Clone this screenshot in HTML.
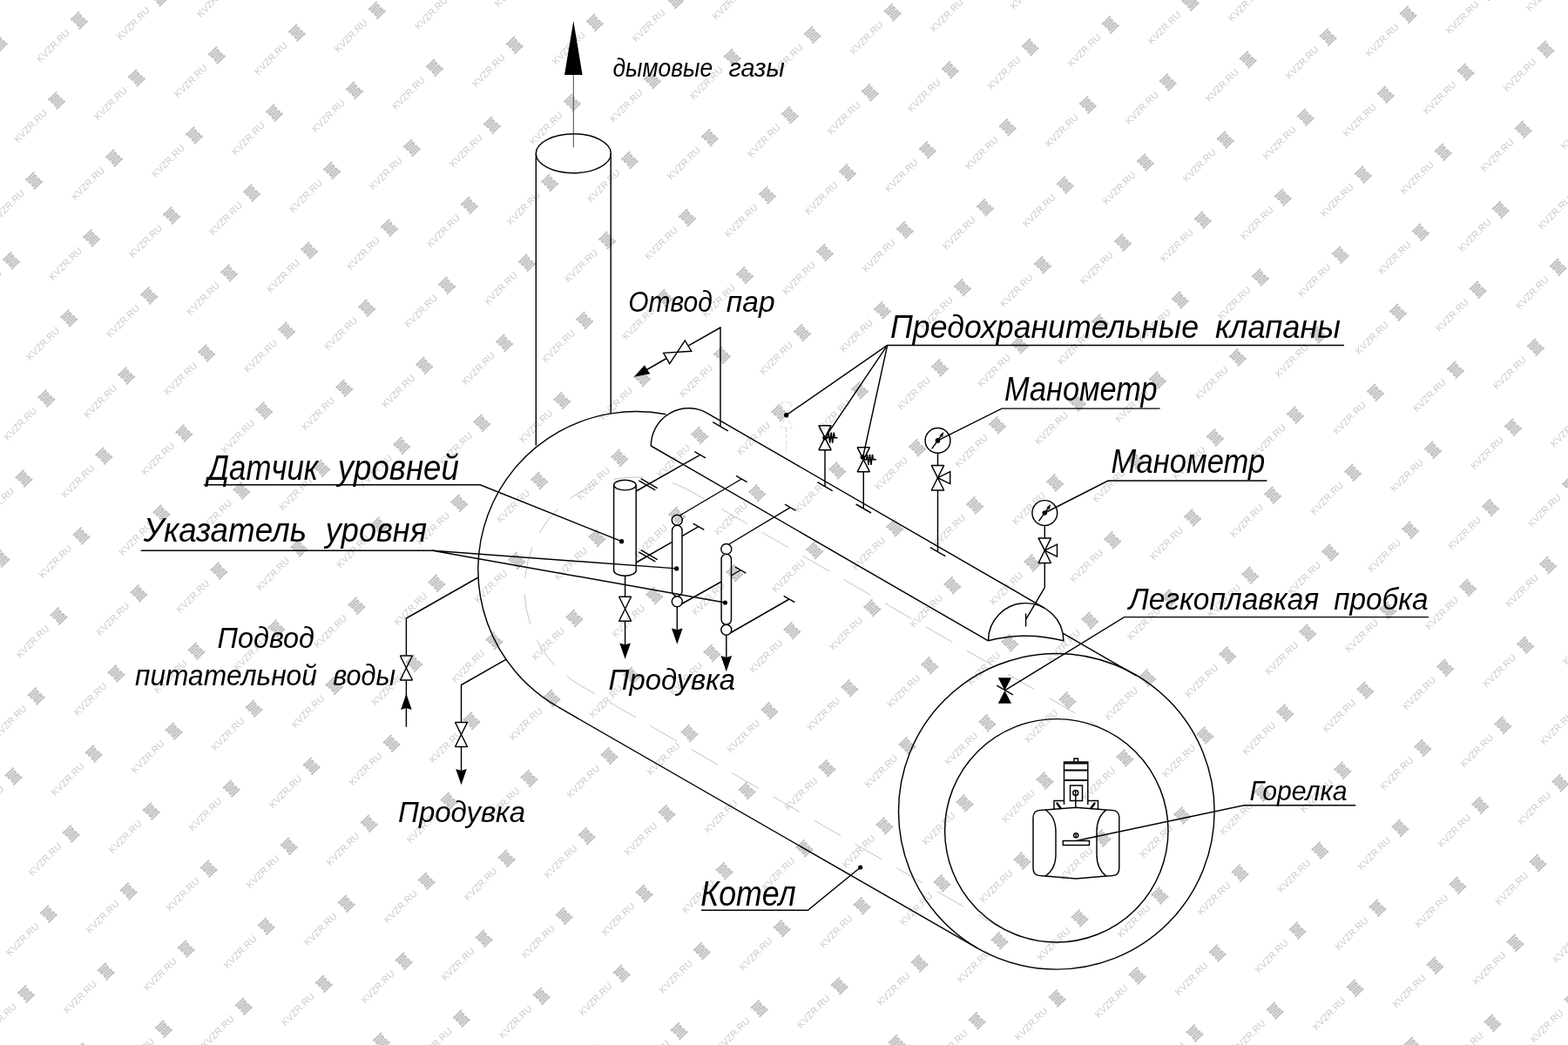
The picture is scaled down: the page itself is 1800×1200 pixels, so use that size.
<!DOCTYPE html>
<html lang="ru"><head><meta charset="utf-8"><title>Схема котла</title>
<style>html,body{margin:0;padding:0;background:#fff;overflow:hidden}svg{display:block}#wm path{fill:none;stroke:#c4c4c4;stroke-width:2.25;stroke-linecap:round}</style>
</head><body>
<svg width="1800" height="1200" viewBox="0 0 1800 1200">
<rect width="1800" height="1200" fill="#fff"/>
<g id="wm" fill="#cbcbcb" font-family="'Liberation Sans', sans-serif" font-size="11.0" opacity="0.99">
<g transform="translate(-67.4 -16.8) rotate(-45)"><text x="-65.9" y="3.6">KVZR.RU</text><path transform="translate(.12 .3)" d="M-5.4 -6.75H6.2M-5.5 -7.15h1M-5.5 -6.35h1M-6.2 6.75H5.4M4.5 6.35h1M4.5 7.15h1M-3.85 -4.05h7.7a1.35 1.35 0 0 1 0 2.7h-7.7a1.35 1.35 0 0 1 0 -2.7zM-3.85 1.35h7.7a1.35 1.35 0 0 1 0 2.7h-7.7a1.35 1.35 0 0 1 0 -2.7z"/></g>
<g transform="translate(24.6 -42.8) rotate(-45)"><text x="-65.9" y="3.6">KVZR.RU</text><path transform="translate(.12 .3)" d="M-5.4 -6.75H6.2M-5.5 -7.15h1M-5.5 -6.35h1M-6.2 6.75H5.4M4.5 6.35h1M4.5 7.15h1M-3.85 -4.05h7.7a1.35 1.35 0 0 1 0 2.7h-7.7a1.35 1.35 0 0 1 0 -2.7zM-3.85 1.35h7.7a1.35 1.35 0 0 1 0 2.7h-7.7a1.35 1.35 0 0 1 0 -2.7z"/></g>
<g transform="translate(-1.4 49.2) rotate(-45)"><text x="-65.9" y="3.6">KVZR.RU</text><path transform="translate(.12 .3)" d="M-5.4 -6.75H6.2M-5.5 -7.15h1M-5.5 -6.35h1M-6.2 6.75H5.4M4.5 6.35h1M4.5 7.15h1M-3.85 -4.05h7.7a1.35 1.35 0 0 1 0 2.7h-7.7a1.35 1.35 0 0 1 0 -2.7zM-3.85 1.35h7.7a1.35 1.35 0 0 1 0 2.7h-7.7a1.35 1.35 0 0 1 0 -2.7z"/></g>
<g transform="translate(-27.3 141.2) rotate(-45)"><text x="-65.9" y="3.6">KVZR.RU</text><path transform="translate(.12 .3)" d="M-5.4 -6.75H6.2M-5.5 -7.15h1M-5.5 -6.35h1M-6.2 6.75H5.4M4.5 6.35h1M4.5 7.15h1M-3.85 -4.05h7.7a1.35 1.35 0 0 1 0 2.7h-7.7a1.35 1.35 0 0 1 0 -2.7zM-3.85 1.35h7.7a1.35 1.35 0 0 1 0 2.7h-7.7a1.35 1.35 0 0 1 0 -2.7z"/></g>
<g transform="translate(-53.2 233.2) rotate(-45)"><text x="-65.9" y="3.6">KVZR.RU</text><path transform="translate(.12 .3)" d="M-5.4 -6.75H6.2M-5.5 -7.15h1M-5.5 -6.35h1M-6.2 6.75H5.4M4.5 6.35h1M4.5 7.15h1M-3.85 -4.05h7.7a1.35 1.35 0 0 1 0 2.7h-7.7a1.35 1.35 0 0 1 0 -2.7zM-3.85 1.35h7.7a1.35 1.35 0 0 1 0 2.7h-7.7a1.35 1.35 0 0 1 0 -2.7z"/></g>
<g transform="translate(-79.1 325.2) rotate(-45)"><text x="-65.9" y="3.6">KVZR.RU</text><path transform="translate(.12 .3)" d="M-5.4 -6.75H6.2M-5.5 -7.15h1M-5.5 -6.35h1M-6.2 6.75H5.4M4.5 6.35h1M4.5 7.15h1M-3.85 -4.05h7.7a1.35 1.35 0 0 1 0 2.7h-7.7a1.35 1.35 0 0 1 0 -2.7zM-3.85 1.35h7.7a1.35 1.35 0 0 1 0 2.7h-7.7a1.35 1.35 0 0 1 0 -2.7z"/></g>
<g transform="translate(116.5 -68.7) rotate(-45)"><text x="-65.9" y="3.6">KVZR.RU</text><path transform="translate(.12 .3)" d="M-5.4 -6.75H6.2M-5.5 -7.15h1M-5.5 -6.35h1M-6.2 6.75H5.4M4.5 6.35h1M4.5 7.15h1M-3.85 -4.05h7.7a1.35 1.35 0 0 1 0 2.7h-7.7a1.35 1.35 0 0 1 0 -2.7zM-3.85 1.35h7.7a1.35 1.35 0 0 1 0 2.7h-7.7a1.35 1.35 0 0 1 0 -2.7z"/></g>
<g transform="translate(90.6 23.3) rotate(-45)"><text x="-65.9" y="3.6">KVZR.RU</text><path transform="translate(.12 .3)" d="M-5.4 -6.75H6.2M-5.5 -7.15h1M-5.5 -6.35h1M-6.2 6.75H5.4M4.5 6.35h1M4.5 7.15h1M-3.85 -4.05h7.7a1.35 1.35 0 0 1 0 2.7h-7.7a1.35 1.35 0 0 1 0 -2.7zM-3.85 1.35h7.7a1.35 1.35 0 0 1 0 2.7h-7.7a1.35 1.35 0 0 1 0 -2.7z"/></g>
<g transform="translate(64.7 115.3) rotate(-45)"><text x="-65.9" y="3.6">KVZR.RU</text><path transform="translate(.12 .3)" d="M-5.4 -6.75H6.2M-5.5 -7.15h1M-5.5 -6.35h1M-6.2 6.75H5.4M4.5 6.35h1M4.5 7.15h1M-3.85 -4.05h7.7a1.35 1.35 0 0 1 0 2.7h-7.7a1.35 1.35 0 0 1 0 -2.7zM-3.85 1.35h7.7a1.35 1.35 0 0 1 0 2.7h-7.7a1.35 1.35 0 0 1 0 -2.7z"/></g>
<g transform="translate(38.8 207.3) rotate(-45)"><text x="-65.9" y="3.6">KVZR.RU</text><path transform="translate(.12 .3)" d="M-5.4 -6.75H6.2M-5.5 -7.15h1M-5.5 -6.35h1M-6.2 6.75H5.4M4.5 6.35h1M4.5 7.15h1M-3.85 -4.05h7.7a1.35 1.35 0 0 1 0 2.7h-7.7a1.35 1.35 0 0 1 0 -2.7zM-3.85 1.35h7.7a1.35 1.35 0 0 1 0 2.7h-7.7a1.35 1.35 0 0 1 0 -2.7z"/></g>
<g transform="translate(12.8 299.2) rotate(-45)"><text x="-65.9" y="3.6">KVZR.RU</text><path transform="translate(.12 .3)" d="M-5.4 -6.75H6.2M-5.5 -7.15h1M-5.5 -6.35h1M-6.2 6.75H5.4M4.5 6.35h1M4.5 7.15h1M-3.85 -4.05h7.7a1.35 1.35 0 0 1 0 2.7h-7.7a1.35 1.35 0 0 1 0 -2.7zM-3.85 1.35h7.7a1.35 1.35 0 0 1 0 2.7h-7.7a1.35 1.35 0 0 1 0 -2.7z"/></g>
<g transform="translate(-13.1 391.2) rotate(-45)"><text x="-65.9" y="3.6">KVZR.RU</text><path transform="translate(.12 .3)" d="M-5.4 -6.75H6.2M-5.5 -7.15h1M-5.5 -6.35h1M-6.2 6.75H5.4M4.5 6.35h1M4.5 7.15h1M-3.85 -4.05h7.7a1.35 1.35 0 0 1 0 2.7h-7.7a1.35 1.35 0 0 1 0 -2.7zM-3.85 1.35h7.7a1.35 1.35 0 0 1 0 2.7h-7.7a1.35 1.35 0 0 1 0 -2.7z"/></g>
<g transform="translate(-39.0 483.2) rotate(-45)"><text x="-65.9" y="3.6">KVZR.RU</text><path transform="translate(.12 .3)" d="M-5.4 -6.75H6.2M-5.5 -7.15h1M-5.5 -6.35h1M-6.2 6.75H5.4M4.5 6.35h1M4.5 7.15h1M-3.85 -4.05h7.7a1.35 1.35 0 0 1 0 2.7h-7.7a1.35 1.35 0 0 1 0 -2.7zM-3.85 1.35h7.7a1.35 1.35 0 0 1 0 2.7h-7.7a1.35 1.35 0 0 1 0 -2.7z"/></g>
<g transform="translate(-64.9 575.2) rotate(-45)"><text x="-65.9" y="3.6">KVZR.RU</text><path transform="translate(.12 .3)" d="M-5.4 -6.75H6.2M-5.5 -7.15h1M-5.5 -6.35h1M-6.2 6.75H5.4M4.5 6.35h1M4.5 7.15h1M-3.85 -4.05h7.7a1.35 1.35 0 0 1 0 2.7h-7.7a1.35 1.35 0 0 1 0 -2.7zM-3.85 1.35h7.7a1.35 1.35 0 0 1 0 2.7h-7.7a1.35 1.35 0 0 1 0 -2.7z"/></g>
<g transform="translate(182.6 -2.6) rotate(-45)"><text x="-65.9" y="3.6">KVZR.RU</text><path transform="translate(.12 .3)" d="M-5.4 -6.75H6.2M-5.5 -7.15h1M-5.5 -6.35h1M-6.2 6.75H5.4M4.5 6.35h1M4.5 7.15h1M-3.85 -4.05h7.7a1.35 1.35 0 0 1 0 2.7h-7.7a1.35 1.35 0 0 1 0 -2.7zM-3.85 1.35h7.7a1.35 1.35 0 0 1 0 2.7h-7.7a1.35 1.35 0 0 1 0 -2.7z"/></g>
<g transform="translate(156.6 89.4) rotate(-45)"><text x="-65.9" y="3.6">KVZR.RU</text><path transform="translate(.12 .3)" d="M-5.4 -6.75H6.2M-5.5 -7.15h1M-5.5 -6.35h1M-6.2 6.75H5.4M4.5 6.35h1M4.5 7.15h1M-3.85 -4.05h7.7a1.35 1.35 0 0 1 0 2.7h-7.7a1.35 1.35 0 0 1 0 -2.7zM-3.85 1.35h7.7a1.35 1.35 0 0 1 0 2.7h-7.7a1.35 1.35 0 0 1 0 -2.7z"/></g>
<g transform="translate(130.7 181.3) rotate(-45)"><text x="-65.9" y="3.6">KVZR.RU</text><path transform="translate(.12 .3)" d="M-5.4 -6.75H6.2M-5.5 -7.15h1M-5.5 -6.35h1M-6.2 6.75H5.4M4.5 6.35h1M4.5 7.15h1M-3.85 -4.05h7.7a1.35 1.35 0 0 1 0 2.7h-7.7a1.35 1.35 0 0 1 0 -2.7zM-3.85 1.35h7.7a1.35 1.35 0 0 1 0 2.7h-7.7a1.35 1.35 0 0 1 0 -2.7z"/></g>
<g transform="translate(104.8 273.3) rotate(-45)"><text x="-65.9" y="3.6">KVZR.RU</text><path transform="translate(.12 .3)" d="M-5.4 -6.75H6.2M-5.5 -7.15h1M-5.5 -6.35h1M-6.2 6.75H5.4M4.5 6.35h1M4.5 7.15h1M-3.85 -4.05h7.7a1.35 1.35 0 0 1 0 2.7h-7.7a1.35 1.35 0 0 1 0 -2.7zM-3.85 1.35h7.7a1.35 1.35 0 0 1 0 2.7h-7.7a1.35 1.35 0 0 1 0 -2.7z"/></g>
<g transform="translate(78.9 365.3) rotate(-45)"><text x="-65.9" y="3.6">KVZR.RU</text><path transform="translate(.12 .3)" d="M-5.4 -6.75H6.2M-5.5 -7.15h1M-5.5 -6.35h1M-6.2 6.75H5.4M4.5 6.35h1M4.5 7.15h1M-3.85 -4.05h7.7a1.35 1.35 0 0 1 0 2.7h-7.7a1.35 1.35 0 0 1 0 -2.7zM-3.85 1.35h7.7a1.35 1.35 0 0 1 0 2.7h-7.7a1.35 1.35 0 0 1 0 -2.7z"/></g>
<g transform="translate(53.0 457.3) rotate(-45)"><text x="-65.9" y="3.6">KVZR.RU</text><path transform="translate(.12 .3)" d="M-5.4 -6.75H6.2M-5.5 -7.15h1M-5.5 -6.35h1M-6.2 6.75H5.4M4.5 6.35h1M4.5 7.15h1M-3.85 -4.05h7.7a1.35 1.35 0 0 1 0 2.7h-7.7a1.35 1.35 0 0 1 0 -2.7zM-3.85 1.35h7.7a1.35 1.35 0 0 1 0 2.7h-7.7a1.35 1.35 0 0 1 0 -2.7z"/></g>
<g transform="translate(27.1 549.3) rotate(-45)"><text x="-65.9" y="3.6">KVZR.RU</text><path transform="translate(.12 .3)" d="M-5.4 -6.75H6.2M-5.5 -7.15h1M-5.5 -6.35h1M-6.2 6.75H5.4M4.5 6.35h1M4.5 7.15h1M-3.85 -4.05h7.7a1.35 1.35 0 0 1 0 2.7h-7.7a1.35 1.35 0 0 1 0 -2.7zM-3.85 1.35h7.7a1.35 1.35 0 0 1 0 2.7h-7.7a1.35 1.35 0 0 1 0 -2.7z"/></g>
<g transform="translate(1.1 641.3) rotate(-45)"><text x="-65.9" y="3.6">KVZR.RU</text><path transform="translate(.12 .3)" d="M-5.4 -6.75H6.2M-5.5 -7.15h1M-5.5 -6.35h1M-6.2 6.75H5.4M4.5 6.35h1M4.5 7.15h1M-3.85 -4.05h7.7a1.35 1.35 0 0 1 0 2.7h-7.7a1.35 1.35 0 0 1 0 -2.7zM-3.85 1.35h7.7a1.35 1.35 0 0 1 0 2.7h-7.7a1.35 1.35 0 0 1 0 -2.7z"/></g>
<g transform="translate(-24.8 733.2) rotate(-45)"><text x="-65.9" y="3.6">KVZR.RU</text><path transform="translate(.12 .3)" d="M-5.4 -6.75H6.2M-5.5 -7.15h1M-5.5 -6.35h1M-6.2 6.75H5.4M4.5 6.35h1M4.5 7.15h1M-3.85 -4.05h7.7a1.35 1.35 0 0 1 0 2.7h-7.7a1.35 1.35 0 0 1 0 -2.7zM-3.85 1.35h7.7a1.35 1.35 0 0 1 0 2.7h-7.7a1.35 1.35 0 0 1 0 -2.7z"/></g>
<g transform="translate(-50.7 825.2) rotate(-45)"><text x="-65.9" y="3.6">KVZR.RU</text><path transform="translate(.12 .3)" d="M-5.4 -6.75H6.2M-5.5 -7.15h1M-5.5 -6.35h1M-6.2 6.75H5.4M4.5 6.35h1M4.5 7.15h1M-3.85 -4.05h7.7a1.35 1.35 0 0 1 0 2.7h-7.7a1.35 1.35 0 0 1 0 -2.7zM-3.85 1.35h7.7a1.35 1.35 0 0 1 0 2.7h-7.7a1.35 1.35 0 0 1 0 -2.7z"/></g>
<g transform="translate(-76.6 917.2) rotate(-45)"><text x="-65.9" y="3.6">KVZR.RU</text><path transform="translate(.12 .3)" d="M-5.4 -6.75H6.2M-5.5 -7.15h1M-5.5 -6.35h1M-6.2 6.75H5.4M4.5 6.35h1M4.5 7.15h1M-3.85 -4.05h7.7a1.35 1.35 0 0 1 0 2.7h-7.7a1.35 1.35 0 0 1 0 -2.7zM-3.85 1.35h7.7a1.35 1.35 0 0 1 0 2.7h-7.7a1.35 1.35 0 0 1 0 -2.7z"/></g>
<g transform="translate(274.5 -28.5) rotate(-45)"><text x="-65.9" y="3.6">KVZR.RU</text><path transform="translate(.12 .3)" d="M-5.4 -6.75H6.2M-5.5 -7.15h1M-5.5 -6.35h1M-6.2 6.75H5.4M4.5 6.35h1M4.5 7.15h1M-3.85 -4.05h7.7a1.35 1.35 0 0 1 0 2.7h-7.7a1.35 1.35 0 0 1 0 -2.7zM-3.85 1.35h7.7a1.35 1.35 0 0 1 0 2.7h-7.7a1.35 1.35 0 0 1 0 -2.7z"/></g>
<g transform="translate(248.6 63.4) rotate(-45)"><text x="-65.9" y="3.6">KVZR.RU</text><path transform="translate(.12 .3)" d="M-5.4 -6.75H6.2M-5.5 -7.15h1M-5.5 -6.35h1M-6.2 6.75H5.4M4.5 6.35h1M4.5 7.15h1M-3.85 -4.05h7.7a1.35 1.35 0 0 1 0 2.7h-7.7a1.35 1.35 0 0 1 0 -2.7zM-3.85 1.35h7.7a1.35 1.35 0 0 1 0 2.7h-7.7a1.35 1.35 0 0 1 0 -2.7z"/></g>
<g transform="translate(222.7 155.4) rotate(-45)"><text x="-65.9" y="3.6">KVZR.RU</text><path transform="translate(.12 .3)" d="M-5.4 -6.75H6.2M-5.5 -7.15h1M-5.5 -6.35h1M-6.2 6.75H5.4M4.5 6.35h1M4.5 7.15h1M-3.85 -4.05h7.7a1.35 1.35 0 0 1 0 2.7h-7.7a1.35 1.35 0 0 1 0 -2.7zM-3.85 1.35h7.7a1.35 1.35 0 0 1 0 2.7h-7.7a1.35 1.35 0 0 1 0 -2.7z"/></g>
<g transform="translate(196.8 247.4) rotate(-45)"><text x="-65.9" y="3.6">KVZR.RU</text><path transform="translate(.12 .3)" d="M-5.4 -6.75H6.2M-5.5 -7.15h1M-5.5 -6.35h1M-6.2 6.75H5.4M4.5 6.35h1M4.5 7.15h1M-3.85 -4.05h7.7a1.35 1.35 0 0 1 0 2.7h-7.7a1.35 1.35 0 0 1 0 -2.7zM-3.85 1.35h7.7a1.35 1.35 0 0 1 0 2.7h-7.7a1.35 1.35 0 0 1 0 -2.7z"/></g>
<g transform="translate(170.9 339.4) rotate(-45)"><text x="-65.9" y="3.6">KVZR.RU</text><path transform="translate(.12 .3)" d="M-5.4 -6.75H6.2M-5.5 -7.15h1M-5.5 -6.35h1M-6.2 6.75H5.4M4.5 6.35h1M4.5 7.15h1M-3.85 -4.05h7.7a1.35 1.35 0 0 1 0 2.7h-7.7a1.35 1.35 0 0 1 0 -2.7zM-3.85 1.35h7.7a1.35 1.35 0 0 1 0 2.7h-7.7a1.35 1.35 0 0 1 0 -2.7z"/></g>
<g transform="translate(144.9 431.4) rotate(-45)"><text x="-65.9" y="3.6">KVZR.RU</text><path transform="translate(.12 .3)" d="M-5.4 -6.75H6.2M-5.5 -7.15h1M-5.5 -6.35h1M-6.2 6.75H5.4M4.5 6.35h1M4.5 7.15h1M-3.85 -4.05h7.7a1.35 1.35 0 0 1 0 2.7h-7.7a1.35 1.35 0 0 1 0 -2.7zM-3.85 1.35h7.7a1.35 1.35 0 0 1 0 2.7h-7.7a1.35 1.35 0 0 1 0 -2.7z"/></g>
<g transform="translate(119.0 523.4) rotate(-45)"><text x="-65.9" y="3.6">KVZR.RU</text><path transform="translate(.12 .3)" d="M-5.4 -6.75H6.2M-5.5 -7.15h1M-5.5 -6.35h1M-6.2 6.75H5.4M4.5 6.35h1M4.5 7.15h1M-3.85 -4.05h7.7a1.35 1.35 0 0 1 0 2.7h-7.7a1.35 1.35 0 0 1 0 -2.7zM-3.85 1.35h7.7a1.35 1.35 0 0 1 0 2.7h-7.7a1.35 1.35 0 0 1 0 -2.7z"/></g>
<g transform="translate(93.1 615.3) rotate(-45)"><text x="-65.9" y="3.6">KVZR.RU</text><path transform="translate(.12 .3)" d="M-5.4 -6.75H6.2M-5.5 -7.15h1M-5.5 -6.35h1M-6.2 6.75H5.4M4.5 6.35h1M4.5 7.15h1M-3.85 -4.05h7.7a1.35 1.35 0 0 1 0 2.7h-7.7a1.35 1.35 0 0 1 0 -2.7zM-3.85 1.35h7.7a1.35 1.35 0 0 1 0 2.7h-7.7a1.35 1.35 0 0 1 0 -2.7z"/></g>
<g transform="translate(67.2 707.3) rotate(-45)"><text x="-65.9" y="3.6">KVZR.RU</text><path transform="translate(.12 .3)" d="M-5.4 -6.75H6.2M-5.5 -7.15h1M-5.5 -6.35h1M-6.2 6.75H5.4M4.5 6.35h1M4.5 7.15h1M-3.85 -4.05h7.7a1.35 1.35 0 0 1 0 2.7h-7.7a1.35 1.35 0 0 1 0 -2.7zM-3.85 1.35h7.7a1.35 1.35 0 0 1 0 2.7h-7.7a1.35 1.35 0 0 1 0 -2.7z"/></g>
<g transform="translate(41.3 799.3) rotate(-45)"><text x="-65.9" y="3.6">KVZR.RU</text><path transform="translate(.12 .3)" d="M-5.4 -6.75H6.2M-5.5 -7.15h1M-5.5 -6.35h1M-6.2 6.75H5.4M4.5 6.35h1M4.5 7.15h1M-3.85 -4.05h7.7a1.35 1.35 0 0 1 0 2.7h-7.7a1.35 1.35 0 0 1 0 -2.7zM-3.85 1.35h7.7a1.35 1.35 0 0 1 0 2.7h-7.7a1.35 1.35 0 0 1 0 -2.7z"/></g>
<g transform="translate(15.3 891.3) rotate(-45)"><text x="-65.9" y="3.6">KVZR.RU</text><path transform="translate(.12 .3)" d="M-5.4 -6.75H6.2M-5.5 -7.15h1M-5.5 -6.35h1M-6.2 6.75H5.4M4.5 6.35h1M4.5 7.15h1M-3.85 -4.05h7.7a1.35 1.35 0 0 1 0 2.7h-7.7a1.35 1.35 0 0 1 0 -2.7zM-3.85 1.35h7.7a1.35 1.35 0 0 1 0 2.7h-7.7a1.35 1.35 0 0 1 0 -2.7z"/></g>
<g transform="translate(-10.6 983.3) rotate(-45)"><text x="-65.9" y="3.6">KVZR.RU</text><path transform="translate(.12 .3)" d="M-5.4 -6.75H6.2M-5.5 -7.15h1M-5.5 -6.35h1M-6.2 6.75H5.4M4.5 6.35h1M4.5 7.15h1M-3.85 -4.05h7.7a1.35 1.35 0 0 1 0 2.7h-7.7a1.35 1.35 0 0 1 0 -2.7zM-3.85 1.35h7.7a1.35 1.35 0 0 1 0 2.7h-7.7a1.35 1.35 0 0 1 0 -2.7z"/></g>
<g transform="translate(-36.5 1075.2) rotate(-45)"><text x="-65.9" y="3.6">KVZR.RU</text><path transform="translate(.12 .3)" d="M-5.4 -6.75H6.2M-5.5 -7.15h1M-5.5 -6.35h1M-6.2 6.75H5.4M4.5 6.35h1M4.5 7.15h1M-3.85 -4.05h7.7a1.35 1.35 0 0 1 0 2.7h-7.7a1.35 1.35 0 0 1 0 -2.7zM-3.85 1.35h7.7a1.35 1.35 0 0 1 0 2.7h-7.7a1.35 1.35 0 0 1 0 -2.7z"/></g>
<g transform="translate(-62.4 1167.2) rotate(-45)"><text x="-65.9" y="3.6">KVZR.RU</text><path transform="translate(.12 .3)" d="M-5.4 -6.75H6.2M-5.5 -7.15h1M-5.5 -6.35h1M-6.2 6.75H5.4M4.5 6.35h1M4.5 7.15h1M-3.85 -4.05h7.7a1.35 1.35 0 0 1 0 2.7h-7.7a1.35 1.35 0 0 1 0 -2.7zM-3.85 1.35h7.7a1.35 1.35 0 0 1 0 2.7h-7.7a1.35 1.35 0 0 1 0 -2.7z"/></g>
<g transform="translate(366.5 -54.5) rotate(-45)"><text x="-65.9" y="3.6">KVZR.RU</text><path transform="translate(.12 .3)" d="M-5.4 -6.75H6.2M-5.5 -7.15h1M-5.5 -6.35h1M-6.2 6.75H5.4M4.5 6.35h1M4.5 7.15h1M-3.85 -4.05h7.7a1.35 1.35 0 0 1 0 2.7h-7.7a1.35 1.35 0 0 1 0 -2.7zM-3.85 1.35h7.7a1.35 1.35 0 0 1 0 2.7h-7.7a1.35 1.35 0 0 1 0 -2.7z"/></g>
<g transform="translate(340.6 37.5) rotate(-45)"><text x="-65.9" y="3.6">KVZR.RU</text><path transform="translate(.12 .3)" d="M-5.4 -6.75H6.2M-5.5 -7.15h1M-5.5 -6.35h1M-6.2 6.75H5.4M4.5 6.35h1M4.5 7.15h1M-3.85 -4.05h7.7a1.35 1.35 0 0 1 0 2.7h-7.7a1.35 1.35 0 0 1 0 -2.7zM-3.85 1.35h7.7a1.35 1.35 0 0 1 0 2.7h-7.7a1.35 1.35 0 0 1 0 -2.7z"/></g>
<g transform="translate(314.6 129.5) rotate(-45)"><text x="-65.9" y="3.6">KVZR.RU</text><path transform="translate(.12 .3)" d="M-5.4 -6.75H6.2M-5.5 -7.15h1M-5.5 -6.35h1M-6.2 6.75H5.4M4.5 6.35h1M4.5 7.15h1M-3.85 -4.05h7.7a1.35 1.35 0 0 1 0 2.7h-7.7a1.35 1.35 0 0 1 0 -2.7zM-3.85 1.35h7.7a1.35 1.35 0 0 1 0 2.7h-7.7a1.35 1.35 0 0 1 0 -2.7z"/></g>
<g transform="translate(288.7 221.5) rotate(-45)"><text x="-65.9" y="3.6">KVZR.RU</text><path transform="translate(.12 .3)" d="M-5.4 -6.75H6.2M-5.5 -7.15h1M-5.5 -6.35h1M-6.2 6.75H5.4M4.5 6.35h1M4.5 7.15h1M-3.85 -4.05h7.7a1.35 1.35 0 0 1 0 2.7h-7.7a1.35 1.35 0 0 1 0 -2.7zM-3.85 1.35h7.7a1.35 1.35 0 0 1 0 2.7h-7.7a1.35 1.35 0 0 1 0 -2.7z"/></g>
<g transform="translate(262.8 313.5) rotate(-45)"><text x="-65.9" y="3.6">KVZR.RU</text><path transform="translate(.12 .3)" d="M-5.4 -6.75H6.2M-5.5 -7.15h1M-5.5 -6.35h1M-6.2 6.75H5.4M4.5 6.35h1M4.5 7.15h1M-3.85 -4.05h7.7a1.35 1.35 0 0 1 0 2.7h-7.7a1.35 1.35 0 0 1 0 -2.7zM-3.85 1.35h7.7a1.35 1.35 0 0 1 0 2.7h-7.7a1.35 1.35 0 0 1 0 -2.7z"/></g>
<g transform="translate(236.9 405.4) rotate(-45)"><text x="-65.9" y="3.6">KVZR.RU</text><path transform="translate(.12 .3)" d="M-5.4 -6.75H6.2M-5.5 -7.15h1M-5.5 -6.35h1M-6.2 6.75H5.4M4.5 6.35h1M4.5 7.15h1M-3.85 -4.05h7.7a1.35 1.35 0 0 1 0 2.7h-7.7a1.35 1.35 0 0 1 0 -2.7zM-3.85 1.35h7.7a1.35 1.35 0 0 1 0 2.7h-7.7a1.35 1.35 0 0 1 0 -2.7z"/></g>
<g transform="translate(211.0 497.4) rotate(-45)"><text x="-65.9" y="3.6">KVZR.RU</text><path transform="translate(.12 .3)" d="M-5.4 -6.75H6.2M-5.5 -7.15h1M-5.5 -6.35h1M-6.2 6.75H5.4M4.5 6.35h1M4.5 7.15h1M-3.85 -4.05h7.7a1.35 1.35 0 0 1 0 2.7h-7.7a1.35 1.35 0 0 1 0 -2.7zM-3.85 1.35h7.7a1.35 1.35 0 0 1 0 2.7h-7.7a1.35 1.35 0 0 1 0 -2.7z"/></g>
<g transform="translate(185.1 589.4) rotate(-45)"><text x="-65.9" y="3.6">KVZR.RU</text><path transform="translate(.12 .3)" d="M-5.4 -6.75H6.2M-5.5 -7.15h1M-5.5 -6.35h1M-6.2 6.75H5.4M4.5 6.35h1M4.5 7.15h1M-3.85 -4.05h7.7a1.35 1.35 0 0 1 0 2.7h-7.7a1.35 1.35 0 0 1 0 -2.7zM-3.85 1.35h7.7a1.35 1.35 0 0 1 0 2.7h-7.7a1.35 1.35 0 0 1 0 -2.7z"/></g>
<g transform="translate(159.1 681.4) rotate(-45)"><text x="-65.9" y="3.6">KVZR.RU</text><path transform="translate(.12 .3)" d="M-5.4 -6.75H6.2M-5.5 -7.15h1M-5.5 -6.35h1M-6.2 6.75H5.4M4.5 6.35h1M4.5 7.15h1M-3.85 -4.05h7.7a1.35 1.35 0 0 1 0 2.7h-7.7a1.35 1.35 0 0 1 0 -2.7zM-3.85 1.35h7.7a1.35 1.35 0 0 1 0 2.7h-7.7a1.35 1.35 0 0 1 0 -2.7z"/></g>
<g transform="translate(133.2 773.4) rotate(-45)"><text x="-65.9" y="3.6">KVZR.RU</text><path transform="translate(.12 .3)" d="M-5.4 -6.75H6.2M-5.5 -7.15h1M-5.5 -6.35h1M-6.2 6.75H5.4M4.5 6.35h1M4.5 7.15h1M-3.85 -4.05h7.7a1.35 1.35 0 0 1 0 2.7h-7.7a1.35 1.35 0 0 1 0 -2.7zM-3.85 1.35h7.7a1.35 1.35 0 0 1 0 2.7h-7.7a1.35 1.35 0 0 1 0 -2.7z"/></g>
<g transform="translate(107.3 865.4) rotate(-45)"><text x="-65.9" y="3.6">KVZR.RU</text><path transform="translate(.12 .3)" d="M-5.4 -6.75H6.2M-5.5 -7.15h1M-5.5 -6.35h1M-6.2 6.75H5.4M4.5 6.35h1M4.5 7.15h1M-3.85 -4.05h7.7a1.35 1.35 0 0 1 0 2.7h-7.7a1.35 1.35 0 0 1 0 -2.7zM-3.85 1.35h7.7a1.35 1.35 0 0 1 0 2.7h-7.7a1.35 1.35 0 0 1 0 -2.7z"/></g>
<g transform="translate(81.4 957.3) rotate(-45)"><text x="-65.9" y="3.6">KVZR.RU</text><path transform="translate(.12 .3)" d="M-5.4 -6.75H6.2M-5.5 -7.15h1M-5.5 -6.35h1M-6.2 6.75H5.4M4.5 6.35h1M4.5 7.15h1M-3.85 -4.05h7.7a1.35 1.35 0 0 1 0 2.7h-7.7a1.35 1.35 0 0 1 0 -2.7zM-3.85 1.35h7.7a1.35 1.35 0 0 1 0 2.7h-7.7a1.35 1.35 0 0 1 0 -2.7z"/></g>
<g transform="translate(55.5 1049.3) rotate(-45)"><text x="-65.9" y="3.6">KVZR.RU</text><path transform="translate(.12 .3)" d="M-5.4 -6.75H6.2M-5.5 -7.15h1M-5.5 -6.35h1M-6.2 6.75H5.4M4.5 6.35h1M4.5 7.15h1M-3.85 -4.05h7.7a1.35 1.35 0 0 1 0 2.7h-7.7a1.35 1.35 0 0 1 0 -2.7zM-3.85 1.35h7.7a1.35 1.35 0 0 1 0 2.7h-7.7a1.35 1.35 0 0 1 0 -2.7z"/></g>
<g transform="translate(29.6 1141.3) rotate(-45)"><text x="-65.9" y="3.6">KVZR.RU</text><path transform="translate(.12 .3)" d="M-5.4 -6.75H6.2M-5.5 -7.15h1M-5.5 -6.35h1M-6.2 6.75H5.4M4.5 6.35h1M4.5 7.15h1M-3.85 -4.05h7.7a1.35 1.35 0 0 1 0 2.7h-7.7a1.35 1.35 0 0 1 0 -2.7zM-3.85 1.35h7.7a1.35 1.35 0 0 1 0 2.7h-7.7a1.35 1.35 0 0 1 0 -2.7z"/></g>
<g transform="translate(3.6 1233.3) rotate(-45)"><text x="-65.9" y="3.6">KVZR.RU</text><path transform="translate(.12 .3)" d="M-5.4 -6.75H6.2M-5.5 -7.15h1M-5.5 -6.35h1M-6.2 6.75H5.4M4.5 6.35h1M4.5 7.15h1M-3.85 -4.05h7.7a1.35 1.35 0 0 1 0 2.7h-7.7a1.35 1.35 0 0 1 0 -2.7zM-3.85 1.35h7.7a1.35 1.35 0 0 1 0 2.7h-7.7a1.35 1.35 0 0 1 0 -2.7z"/></g>
<g transform="translate(432.5 11.6) rotate(-45)"><text x="-65.9" y="3.6">KVZR.RU</text><path transform="translate(.12 .3)" d="M-5.4 -6.75H6.2M-5.5 -7.15h1M-5.5 -6.35h1M-6.2 6.75H5.4M4.5 6.35h1M4.5 7.15h1M-3.85 -4.05h7.7a1.35 1.35 0 0 1 0 2.7h-7.7a1.35 1.35 0 0 1 0 -2.7zM-3.85 1.35h7.7a1.35 1.35 0 0 1 0 2.7h-7.7a1.35 1.35 0 0 1 0 -2.7z"/></g>
<g transform="translate(406.6 103.6) rotate(-45)"><text x="-65.9" y="3.6">KVZR.RU</text><path transform="translate(.12 .3)" d="M-5.4 -6.75H6.2M-5.5 -7.15h1M-5.5 -6.35h1M-6.2 6.75H5.4M4.5 6.35h1M4.5 7.15h1M-3.85 -4.05h7.7a1.35 1.35 0 0 1 0 2.7h-7.7a1.35 1.35 0 0 1 0 -2.7zM-3.85 1.35h7.7a1.35 1.35 0 0 1 0 2.7h-7.7a1.35 1.35 0 0 1 0 -2.7z"/></g>
<g transform="translate(380.7 195.6) rotate(-45)"><text x="-65.9" y="3.6">KVZR.RU</text><path transform="translate(.12 .3)" d="M-5.4 -6.75H6.2M-5.5 -7.15h1M-5.5 -6.35h1M-6.2 6.75H5.4M4.5 6.35h1M4.5 7.15h1M-3.85 -4.05h7.7a1.35 1.35 0 0 1 0 2.7h-7.7a1.35 1.35 0 0 1 0 -2.7zM-3.85 1.35h7.7a1.35 1.35 0 0 1 0 2.7h-7.7a1.35 1.35 0 0 1 0 -2.7z"/></g>
<g transform="translate(354.8 287.5) rotate(-45)"><text x="-65.9" y="3.6">KVZR.RU</text><path transform="translate(.12 .3)" d="M-5.4 -6.75H6.2M-5.5 -7.15h1M-5.5 -6.35h1M-6.2 6.75H5.4M4.5 6.35h1M4.5 7.15h1M-3.85 -4.05h7.7a1.35 1.35 0 0 1 0 2.7h-7.7a1.35 1.35 0 0 1 0 -2.7zM-3.85 1.35h7.7a1.35 1.35 0 0 1 0 2.7h-7.7a1.35 1.35 0 0 1 0 -2.7z"/></g>
<g transform="translate(328.9 379.5) rotate(-45)"><text x="-65.9" y="3.6">KVZR.RU</text><path transform="translate(.12 .3)" d="M-5.4 -6.75H6.2M-5.5 -7.15h1M-5.5 -6.35h1M-6.2 6.75H5.4M4.5 6.35h1M4.5 7.15h1M-3.85 -4.05h7.7a1.35 1.35 0 0 1 0 2.7h-7.7a1.35 1.35 0 0 1 0 -2.7zM-3.85 1.35h7.7a1.35 1.35 0 0 1 0 2.7h-7.7a1.35 1.35 0 0 1 0 -2.7z"/></g>
<g transform="translate(302.9 471.5) rotate(-45)"><text x="-65.9" y="3.6">KVZR.RU</text><path transform="translate(.12 .3)" d="M-5.4 -6.75H6.2M-5.5 -7.15h1M-5.5 -6.35h1M-6.2 6.75H5.4M4.5 6.35h1M4.5 7.15h1M-3.85 -4.05h7.7a1.35 1.35 0 0 1 0 2.7h-7.7a1.35 1.35 0 0 1 0 -2.7zM-3.85 1.35h7.7a1.35 1.35 0 0 1 0 2.7h-7.7a1.35 1.35 0 0 1 0 -2.7z"/></g>
<g transform="translate(277.0 563.5) rotate(-45)"><text x="-65.9" y="3.6">KVZR.RU</text><path transform="translate(.12 .3)" d="M-5.4 -6.75H6.2M-5.5 -7.15h1M-5.5 -6.35h1M-6.2 6.75H5.4M4.5 6.35h1M4.5 7.15h1M-3.85 -4.05h7.7a1.35 1.35 0 0 1 0 2.7h-7.7a1.35 1.35 0 0 1 0 -2.7zM-3.85 1.35h7.7a1.35 1.35 0 0 1 0 2.7h-7.7a1.35 1.35 0 0 1 0 -2.7z"/></g>
<g transform="translate(251.1 655.5) rotate(-45)"><text x="-65.9" y="3.6">KVZR.RU</text><path transform="translate(.12 .3)" d="M-5.4 -6.75H6.2M-5.5 -7.15h1M-5.5 -6.35h1M-6.2 6.75H5.4M4.5 6.35h1M4.5 7.15h1M-3.85 -4.05h7.7a1.35 1.35 0 0 1 0 2.7h-7.7a1.35 1.35 0 0 1 0 -2.7zM-3.85 1.35h7.7a1.35 1.35 0 0 1 0 2.7h-7.7a1.35 1.35 0 0 1 0 -2.7z"/></g>
<g transform="translate(225.2 747.5) rotate(-45)"><text x="-65.9" y="3.6">KVZR.RU</text><path transform="translate(.12 .3)" d="M-5.4 -6.75H6.2M-5.5 -7.15h1M-5.5 -6.35h1M-6.2 6.75H5.4M4.5 6.35h1M4.5 7.15h1M-3.85 -4.05h7.7a1.35 1.35 0 0 1 0 2.7h-7.7a1.35 1.35 0 0 1 0 -2.7zM-3.85 1.35h7.7a1.35 1.35 0 0 1 0 2.7h-7.7a1.35 1.35 0 0 1 0 -2.7z"/></g>
<g transform="translate(199.3 839.4) rotate(-45)"><text x="-65.9" y="3.6">KVZR.RU</text><path transform="translate(.12 .3)" d="M-5.4 -6.75H6.2M-5.5 -7.15h1M-5.5 -6.35h1M-6.2 6.75H5.4M4.5 6.35h1M4.5 7.15h1M-3.85 -4.05h7.7a1.35 1.35 0 0 1 0 2.7h-7.7a1.35 1.35 0 0 1 0 -2.7zM-3.85 1.35h7.7a1.35 1.35 0 0 1 0 2.7h-7.7a1.35 1.35 0 0 1 0 -2.7z"/></g>
<g transform="translate(173.4 931.4) rotate(-45)"><text x="-65.9" y="3.6">KVZR.RU</text><path transform="translate(.12 .3)" d="M-5.4 -6.75H6.2M-5.5 -7.15h1M-5.5 -6.35h1M-6.2 6.75H5.4M4.5 6.35h1M4.5 7.15h1M-3.85 -4.05h7.7a1.35 1.35 0 0 1 0 2.7h-7.7a1.35 1.35 0 0 1 0 -2.7zM-3.85 1.35h7.7a1.35 1.35 0 0 1 0 2.7h-7.7a1.35 1.35 0 0 1 0 -2.7z"/></g>
<g transform="translate(147.4 1023.4) rotate(-45)"><text x="-65.9" y="3.6">KVZR.RU</text><path transform="translate(.12 .3)" d="M-5.4 -6.75H6.2M-5.5 -7.15h1M-5.5 -6.35h1M-6.2 6.75H5.4M4.5 6.35h1M4.5 7.15h1M-3.85 -4.05h7.7a1.35 1.35 0 0 1 0 2.7h-7.7a1.35 1.35 0 0 1 0 -2.7zM-3.85 1.35h7.7a1.35 1.35 0 0 1 0 2.7h-7.7a1.35 1.35 0 0 1 0 -2.7z"/></g>
<g transform="translate(121.5 1115.4) rotate(-45)"><text x="-65.9" y="3.6">KVZR.RU</text><path transform="translate(.12 .3)" d="M-5.4 -6.75H6.2M-5.5 -7.15h1M-5.5 -6.35h1M-6.2 6.75H5.4M4.5 6.35h1M4.5 7.15h1M-3.85 -4.05h7.7a1.35 1.35 0 0 1 0 2.7h-7.7a1.35 1.35 0 0 1 0 -2.7zM-3.85 1.35h7.7a1.35 1.35 0 0 1 0 2.7h-7.7a1.35 1.35 0 0 1 0 -2.7z"/></g>
<g transform="translate(95.6 1207.4) rotate(-45)"><text x="-65.9" y="3.6">KVZR.RU</text><path transform="translate(.12 .3)" d="M-5.4 -6.75H6.2M-5.5 -7.15h1M-5.5 -6.35h1M-6.2 6.75H5.4M4.5 6.35h1M4.5 7.15h1M-3.85 -4.05h7.7a1.35 1.35 0 0 1 0 2.7h-7.7a1.35 1.35 0 0 1 0 -2.7zM-3.85 1.35h7.7a1.35 1.35 0 0 1 0 2.7h-7.7a1.35 1.35 0 0 1 0 -2.7z"/></g>
<g transform="translate(524.5 -14.3) rotate(-45)"><text x="-65.9" y="3.6">KVZR.RU</text><path transform="translate(.12 .3)" d="M-5.4 -6.75H6.2M-5.5 -7.15h1M-5.5 -6.35h1M-6.2 6.75H5.4M4.5 6.35h1M4.5 7.15h1M-3.85 -4.05h7.7a1.35 1.35 0 0 1 0 2.7h-7.7a1.35 1.35 0 0 1 0 -2.7zM-3.85 1.35h7.7a1.35 1.35 0 0 1 0 2.7h-7.7a1.35 1.35 0 0 1 0 -2.7z"/></g>
<g transform="translate(498.6 77.6) rotate(-45)"><text x="-65.9" y="3.6">KVZR.RU</text><path transform="translate(.12 .3)" d="M-5.4 -6.75H6.2M-5.5 -7.15h1M-5.5 -6.35h1M-6.2 6.75H5.4M4.5 6.35h1M4.5 7.15h1M-3.85 -4.05h7.7a1.35 1.35 0 0 1 0 2.7h-7.7a1.35 1.35 0 0 1 0 -2.7zM-3.85 1.35h7.7a1.35 1.35 0 0 1 0 2.7h-7.7a1.35 1.35 0 0 1 0 -2.7z"/></g>
<g transform="translate(472.6 169.6) rotate(-45)"><text x="-65.9" y="3.6">KVZR.RU</text><path transform="translate(.12 .3)" d="M-5.4 -6.75H6.2M-5.5 -7.15h1M-5.5 -6.35h1M-6.2 6.75H5.4M4.5 6.35h1M4.5 7.15h1M-3.85 -4.05h7.7a1.35 1.35 0 0 1 0 2.7h-7.7a1.35 1.35 0 0 1 0 -2.7zM-3.85 1.35h7.7a1.35 1.35 0 0 1 0 2.7h-7.7a1.35 1.35 0 0 1 0 -2.7z"/></g>
<g transform="translate(446.7 261.6) rotate(-45)"><text x="-65.9" y="3.6">KVZR.RU</text><path transform="translate(.12 .3)" d="M-5.4 -6.75H6.2M-5.5 -7.15h1M-5.5 -6.35h1M-6.2 6.75H5.4M4.5 6.35h1M4.5 7.15h1M-3.85 -4.05h7.7a1.35 1.35 0 0 1 0 2.7h-7.7a1.35 1.35 0 0 1 0 -2.7zM-3.85 1.35h7.7a1.35 1.35 0 0 1 0 2.7h-7.7a1.35 1.35 0 0 1 0 -2.7z"/></g>
<g transform="translate(420.8 353.6) rotate(-45)"><text x="-65.9" y="3.6">KVZR.RU</text><path transform="translate(.12 .3)" d="M-5.4 -6.75H6.2M-5.5 -7.15h1M-5.5 -6.35h1M-6.2 6.75H5.4M4.5 6.35h1M4.5 7.15h1M-3.85 -4.05h7.7a1.35 1.35 0 0 1 0 2.7h-7.7a1.35 1.35 0 0 1 0 -2.7zM-3.85 1.35h7.7a1.35 1.35 0 0 1 0 2.7h-7.7a1.35 1.35 0 0 1 0 -2.7z"/></g>
<g transform="translate(394.9 445.6) rotate(-45)"><text x="-65.9" y="3.6">KVZR.RU</text><path transform="translate(.12 .3)" d="M-5.4 -6.75H6.2M-5.5 -7.15h1M-5.5 -6.35h1M-6.2 6.75H5.4M4.5 6.35h1M4.5 7.15h1M-3.85 -4.05h7.7a1.35 1.35 0 0 1 0 2.7h-7.7a1.35 1.35 0 0 1 0 -2.7zM-3.85 1.35h7.7a1.35 1.35 0 0 1 0 2.7h-7.7a1.35 1.35 0 0 1 0 -2.7z"/></g>
<g transform="translate(369.0 537.6) rotate(-45)"><text x="-65.9" y="3.6">KVZR.RU</text><path transform="translate(.12 .3)" d="M-5.4 -6.75H6.2M-5.5 -7.15h1M-5.5 -6.35h1M-6.2 6.75H5.4M4.5 6.35h1M4.5 7.15h1M-3.85 -4.05h7.7a1.35 1.35 0 0 1 0 2.7h-7.7a1.35 1.35 0 0 1 0 -2.7zM-3.85 1.35h7.7a1.35 1.35 0 0 1 0 2.7h-7.7a1.35 1.35 0 0 1 0 -2.7z"/></g>
<g transform="translate(343.1 629.5) rotate(-45)"><text x="-65.9" y="3.6">KVZR.RU</text><path transform="translate(.12 .3)" d="M-5.4 -6.75H6.2M-5.5 -7.15h1M-5.5 -6.35h1M-6.2 6.75H5.4M4.5 6.35h1M4.5 7.15h1M-3.85 -4.05h7.7a1.35 1.35 0 0 1 0 2.7h-7.7a1.35 1.35 0 0 1 0 -2.7zM-3.85 1.35h7.7a1.35 1.35 0 0 1 0 2.7h-7.7a1.35 1.35 0 0 1 0 -2.7z"/></g>
<g transform="translate(317.1 721.5) rotate(-45)"><text x="-65.9" y="3.6">KVZR.RU</text><path transform="translate(.12 .3)" d="M-5.4 -6.75H6.2M-5.5 -7.15h1M-5.5 -6.35h1M-6.2 6.75H5.4M4.5 6.35h1M4.5 7.15h1M-3.85 -4.05h7.7a1.35 1.35 0 0 1 0 2.7h-7.7a1.35 1.35 0 0 1 0 -2.7zM-3.85 1.35h7.7a1.35 1.35 0 0 1 0 2.7h-7.7a1.35 1.35 0 0 1 0 -2.7z"/></g>
<g transform="translate(291.2 813.5) rotate(-45)"><text x="-65.9" y="3.6">KVZR.RU</text><path transform="translate(.12 .3)" d="M-5.4 -6.75H6.2M-5.5 -7.15h1M-5.5 -6.35h1M-6.2 6.75H5.4M4.5 6.35h1M4.5 7.15h1M-3.85 -4.05h7.7a1.35 1.35 0 0 1 0 2.7h-7.7a1.35 1.35 0 0 1 0 -2.7zM-3.85 1.35h7.7a1.35 1.35 0 0 1 0 2.7h-7.7a1.35 1.35 0 0 1 0 -2.7z"/></g>
<g transform="translate(265.3 905.5) rotate(-45)"><text x="-65.9" y="3.6">KVZR.RU</text><path transform="translate(.12 .3)" d="M-5.4 -6.75H6.2M-5.5 -7.15h1M-5.5 -6.35h1M-6.2 6.75H5.4M4.5 6.35h1M4.5 7.15h1M-3.85 -4.05h7.7a1.35 1.35 0 0 1 0 2.7h-7.7a1.35 1.35 0 0 1 0 -2.7zM-3.85 1.35h7.7a1.35 1.35 0 0 1 0 2.7h-7.7a1.35 1.35 0 0 1 0 -2.7z"/></g>
<g transform="translate(239.4 997.5) rotate(-45)"><text x="-65.9" y="3.6">KVZR.RU</text><path transform="translate(.12 .3)" d="M-5.4 -6.75H6.2M-5.5 -7.15h1M-5.5 -6.35h1M-6.2 6.75H5.4M4.5 6.35h1M4.5 7.15h1M-3.85 -4.05h7.7a1.35 1.35 0 0 1 0 2.7h-7.7a1.35 1.35 0 0 1 0 -2.7zM-3.85 1.35h7.7a1.35 1.35 0 0 1 0 2.7h-7.7a1.35 1.35 0 0 1 0 -2.7z"/></g>
<g transform="translate(213.5 1089.5) rotate(-45)"><text x="-65.9" y="3.6">KVZR.RU</text><path transform="translate(.12 .3)" d="M-5.4 -6.75H6.2M-5.5 -7.15h1M-5.5 -6.35h1M-6.2 6.75H5.4M4.5 6.35h1M4.5 7.15h1M-3.85 -4.05h7.7a1.35 1.35 0 0 1 0 2.7h-7.7a1.35 1.35 0 0 1 0 -2.7zM-3.85 1.35h7.7a1.35 1.35 0 0 1 0 2.7h-7.7a1.35 1.35 0 0 1 0 -2.7z"/></g>
<g transform="translate(187.6 1181.4) rotate(-45)"><text x="-65.9" y="3.6">KVZR.RU</text><path transform="translate(.12 .3)" d="M-5.4 -6.75H6.2M-5.5 -7.15h1M-5.5 -6.35h1M-6.2 6.75H5.4M4.5 6.35h1M4.5 7.15h1M-3.85 -4.05h7.7a1.35 1.35 0 0 1 0 2.7h-7.7a1.35 1.35 0 0 1 0 -2.7zM-3.85 1.35h7.7a1.35 1.35 0 0 1 0 2.7h-7.7a1.35 1.35 0 0 1 0 -2.7z"/></g>
<g transform="translate(161.6 1273.4) rotate(-45)"><text x="-65.9" y="3.6">KVZR.RU</text><path transform="translate(.12 .3)" d="M-5.4 -6.75H6.2M-5.5 -7.15h1M-5.5 -6.35h1M-6.2 6.75H5.4M4.5 6.35h1M4.5 7.15h1M-3.85 -4.05h7.7a1.35 1.35 0 0 1 0 2.7h-7.7a1.35 1.35 0 0 1 0 -2.7zM-3.85 1.35h7.7a1.35 1.35 0 0 1 0 2.7h-7.7a1.35 1.35 0 0 1 0 -2.7z"/></g>
<g transform="translate(616.4 -40.3) rotate(-45)"><text x="-65.9" y="3.6">KVZR.RU</text><path transform="translate(.12 .3)" d="M-5.4 -6.75H6.2M-5.5 -7.15h1M-5.5 -6.35h1M-6.2 6.75H5.4M4.5 6.35h1M4.5 7.15h1M-3.85 -4.05h7.7a1.35 1.35 0 0 1 0 2.7h-7.7a1.35 1.35 0 0 1 0 -2.7zM-3.85 1.35h7.7a1.35 1.35 0 0 1 0 2.7h-7.7a1.35 1.35 0 0 1 0 -2.7z"/></g>
<g transform="translate(590.5 51.7) rotate(-45)"><text x="-65.9" y="3.6">KVZR.RU</text><path transform="translate(.12 .3)" d="M-5.4 -6.75H6.2M-5.5 -7.15h1M-5.5 -6.35h1M-6.2 6.75H5.4M4.5 6.35h1M4.5 7.15h1M-3.85 -4.05h7.7a1.35 1.35 0 0 1 0 2.7h-7.7a1.35 1.35 0 0 1 0 -2.7zM-3.85 1.35h7.7a1.35 1.35 0 0 1 0 2.7h-7.7a1.35 1.35 0 0 1 0 -2.7z"/></g>
<g transform="translate(564.6 143.7) rotate(-45)"><text x="-65.9" y="3.6">KVZR.RU</text><path transform="translate(.12 .3)" d="M-5.4 -6.75H6.2M-5.5 -7.15h1M-5.5 -6.35h1M-6.2 6.75H5.4M4.5 6.35h1M4.5 7.15h1M-3.85 -4.05h7.7a1.35 1.35 0 0 1 0 2.7h-7.7a1.35 1.35 0 0 1 0 -2.7zM-3.85 1.35h7.7a1.35 1.35 0 0 1 0 2.7h-7.7a1.35 1.35 0 0 1 0 -2.7z"/></g>
<g transform="translate(538.7 235.7) rotate(-45)"><text x="-65.9" y="3.6">KVZR.RU</text><path transform="translate(.12 .3)" d="M-5.4 -6.75H6.2M-5.5 -7.15h1M-5.5 -6.35h1M-6.2 6.75H5.4M4.5 6.35h1M4.5 7.15h1M-3.85 -4.05h7.7a1.35 1.35 0 0 1 0 2.7h-7.7a1.35 1.35 0 0 1 0 -2.7zM-3.85 1.35h7.7a1.35 1.35 0 0 1 0 2.7h-7.7a1.35 1.35 0 0 1 0 -2.7z"/></g>
<g transform="translate(512.8 327.7) rotate(-45)"><text x="-65.9" y="3.6">KVZR.RU</text><path transform="translate(.12 .3)" d="M-5.4 -6.75H6.2M-5.5 -7.15h1M-5.5 -6.35h1M-6.2 6.75H5.4M4.5 6.35h1M4.5 7.15h1M-3.85 -4.05h7.7a1.35 1.35 0 0 1 0 2.7h-7.7a1.35 1.35 0 0 1 0 -2.7zM-3.85 1.35h7.7a1.35 1.35 0 0 1 0 2.7h-7.7a1.35 1.35 0 0 1 0 -2.7z"/></g>
<g transform="translate(486.9 419.7) rotate(-45)"><text x="-65.9" y="3.6">KVZR.RU</text><path transform="translate(.12 .3)" d="M-5.4 -6.75H6.2M-5.5 -7.15h1M-5.5 -6.35h1M-6.2 6.75H5.4M4.5 6.35h1M4.5 7.15h1M-3.85 -4.05h7.7a1.35 1.35 0 0 1 0 2.7h-7.7a1.35 1.35 0 0 1 0 -2.7zM-3.85 1.35h7.7a1.35 1.35 0 0 1 0 2.7h-7.7a1.35 1.35 0 0 1 0 -2.7z"/></g>
<g transform="translate(460.9 511.6) rotate(-45)"><text x="-65.9" y="3.6">KVZR.RU</text><path transform="translate(.12 .3)" d="M-5.4 -6.75H6.2M-5.5 -7.15h1M-5.5 -6.35h1M-6.2 6.75H5.4M4.5 6.35h1M4.5 7.15h1M-3.85 -4.05h7.7a1.35 1.35 0 0 1 0 2.7h-7.7a1.35 1.35 0 0 1 0 -2.7zM-3.85 1.35h7.7a1.35 1.35 0 0 1 0 2.7h-7.7a1.35 1.35 0 0 1 0 -2.7z"/></g>
<g transform="translate(435.0 603.6) rotate(-45)"><text x="-65.9" y="3.6">KVZR.RU</text><path transform="translate(.12 .3)" d="M-5.4 -6.75H6.2M-5.5 -7.15h1M-5.5 -6.35h1M-6.2 6.75H5.4M4.5 6.35h1M4.5 7.15h1M-3.85 -4.05h7.7a1.35 1.35 0 0 1 0 2.7h-7.7a1.35 1.35 0 0 1 0 -2.7zM-3.85 1.35h7.7a1.35 1.35 0 0 1 0 2.7h-7.7a1.35 1.35 0 0 1 0 -2.7z"/></g>
<g transform="translate(409.1 695.6) rotate(-45)"><text x="-65.9" y="3.6">KVZR.RU</text><path transform="translate(.12 .3)" d="M-5.4 -6.75H6.2M-5.5 -7.15h1M-5.5 -6.35h1M-6.2 6.75H5.4M4.5 6.35h1M4.5 7.15h1M-3.85 -4.05h7.7a1.35 1.35 0 0 1 0 2.7h-7.7a1.35 1.35 0 0 1 0 -2.7zM-3.85 1.35h7.7a1.35 1.35 0 0 1 0 2.7h-7.7a1.35 1.35 0 0 1 0 -2.7z"/></g>
<g transform="translate(383.2 787.6) rotate(-45)"><text x="-65.9" y="3.6">KVZR.RU</text><path transform="translate(.12 .3)" d="M-5.4 -6.75H6.2M-5.5 -7.15h1M-5.5 -6.35h1M-6.2 6.75H5.4M4.5 6.35h1M4.5 7.15h1M-3.85 -4.05h7.7a1.35 1.35 0 0 1 0 2.7h-7.7a1.35 1.35 0 0 1 0 -2.7zM-3.85 1.35h7.7a1.35 1.35 0 0 1 0 2.7h-7.7a1.35 1.35 0 0 1 0 -2.7z"/></g>
<g transform="translate(357.3 879.6) rotate(-45)"><text x="-65.9" y="3.6">KVZR.RU</text><path transform="translate(.12 .3)" d="M-5.4 -6.75H6.2M-5.5 -7.15h1M-5.5 -6.35h1M-6.2 6.75H5.4M4.5 6.35h1M4.5 7.15h1M-3.85 -4.05h7.7a1.35 1.35 0 0 1 0 2.7h-7.7a1.35 1.35 0 0 1 0 -2.7zM-3.85 1.35h7.7a1.35 1.35 0 0 1 0 2.7h-7.7a1.35 1.35 0 0 1 0 -2.7z"/></g>
<g transform="translate(331.4 971.6) rotate(-45)"><text x="-65.9" y="3.6">KVZR.RU</text><path transform="translate(.12 .3)" d="M-5.4 -6.75H6.2M-5.5 -7.15h1M-5.5 -6.35h1M-6.2 6.75H5.4M4.5 6.35h1M4.5 7.15h1M-3.85 -4.05h7.7a1.35 1.35 0 0 1 0 2.7h-7.7a1.35 1.35 0 0 1 0 -2.7zM-3.85 1.35h7.7a1.35 1.35 0 0 1 0 2.7h-7.7a1.35 1.35 0 0 1 0 -2.7z"/></g>
<g transform="translate(305.4 1063.5) rotate(-45)"><text x="-65.9" y="3.6">KVZR.RU</text><path transform="translate(.12 .3)" d="M-5.4 -6.75H6.2M-5.5 -7.15h1M-5.5 -6.35h1M-6.2 6.75H5.4M4.5 6.35h1M4.5 7.15h1M-3.85 -4.05h7.7a1.35 1.35 0 0 1 0 2.7h-7.7a1.35 1.35 0 0 1 0 -2.7zM-3.85 1.35h7.7a1.35 1.35 0 0 1 0 2.7h-7.7a1.35 1.35 0 0 1 0 -2.7z"/></g>
<g transform="translate(279.5 1155.5) rotate(-45)"><text x="-65.9" y="3.6">KVZR.RU</text><path transform="translate(.12 .3)" d="M-5.4 -6.75H6.2M-5.5 -7.15h1M-5.5 -6.35h1M-6.2 6.75H5.4M4.5 6.35h1M4.5 7.15h1M-3.85 -4.05h7.7a1.35 1.35 0 0 1 0 2.7h-7.7a1.35 1.35 0 0 1 0 -2.7zM-3.85 1.35h7.7a1.35 1.35 0 0 1 0 2.7h-7.7a1.35 1.35 0 0 1 0 -2.7z"/></g>
<g transform="translate(253.6 1247.5) rotate(-45)"><text x="-65.9" y="3.6">KVZR.RU</text><path transform="translate(.12 .3)" d="M-5.4 -6.75H6.2M-5.5 -7.15h1M-5.5 -6.35h1M-6.2 6.75H5.4M4.5 6.35h1M4.5 7.15h1M-3.85 -4.05h7.7a1.35 1.35 0 0 1 0 2.7h-7.7a1.35 1.35 0 0 1 0 -2.7zM-3.85 1.35h7.7a1.35 1.35 0 0 1 0 2.7h-7.7a1.35 1.35 0 0 1 0 -2.7z"/></g>
<g transform="translate(708.4 -66.2) rotate(-45)"><text x="-65.9" y="3.6">KVZR.RU</text><path transform="translate(.12 .3)" d="M-5.4 -6.75H6.2M-5.5 -7.15h1M-5.5 -6.35h1M-6.2 6.75H5.4M4.5 6.35h1M4.5 7.15h1M-3.85 -4.05h7.7a1.35 1.35 0 0 1 0 2.7h-7.7a1.35 1.35 0 0 1 0 -2.7zM-3.85 1.35h7.7a1.35 1.35 0 0 1 0 2.7h-7.7a1.35 1.35 0 0 1 0 -2.7z"/></g>
<g transform="translate(682.5 25.8) rotate(-45)"><text x="-65.9" y="3.6">KVZR.RU</text><path transform="translate(.12 .3)" d="M-5.4 -6.75H6.2M-5.5 -7.15h1M-5.5 -6.35h1M-6.2 6.75H5.4M4.5 6.35h1M4.5 7.15h1M-3.85 -4.05h7.7a1.35 1.35 0 0 1 0 2.7h-7.7a1.35 1.35 0 0 1 0 -2.7zM-3.85 1.35h7.7a1.35 1.35 0 0 1 0 2.7h-7.7a1.35 1.35 0 0 1 0 -2.7z"/></g>
<g transform="translate(656.6 117.8) rotate(-45)"><text x="-65.9" y="3.6">KVZR.RU</text><path transform="translate(.12 .3)" d="M-5.4 -6.75H6.2M-5.5 -7.15h1M-5.5 -6.35h1M-6.2 6.75H5.4M4.5 6.35h1M4.5 7.15h1M-3.85 -4.05h7.7a1.35 1.35 0 0 1 0 2.7h-7.7a1.35 1.35 0 0 1 0 -2.7zM-3.85 1.35h7.7a1.35 1.35 0 0 1 0 2.7h-7.7a1.35 1.35 0 0 1 0 -2.7z"/></g>
<g transform="translate(630.7 209.8) rotate(-45)"><text x="-65.9" y="3.6">KVZR.RU</text><path transform="translate(.12 .3)" d="M-5.4 -6.75H6.2M-5.5 -7.15h1M-5.5 -6.35h1M-6.2 6.75H5.4M4.5 6.35h1M4.5 7.15h1M-3.85 -4.05h7.7a1.35 1.35 0 0 1 0 2.7h-7.7a1.35 1.35 0 0 1 0 -2.7zM-3.85 1.35h7.7a1.35 1.35 0 0 1 0 2.7h-7.7a1.35 1.35 0 0 1 0 -2.7z"/></g>
<g transform="translate(604.7 301.7) rotate(-45)"><text x="-65.9" y="3.6">KVZR.RU</text><path transform="translate(.12 .3)" d="M-5.4 -6.75H6.2M-5.5 -7.15h1M-5.5 -6.35h1M-6.2 6.75H5.4M4.5 6.35h1M4.5 7.15h1M-3.85 -4.05h7.7a1.35 1.35 0 0 1 0 2.7h-7.7a1.35 1.35 0 0 1 0 -2.7zM-3.85 1.35h7.7a1.35 1.35 0 0 1 0 2.7h-7.7a1.35 1.35 0 0 1 0 -2.7z"/></g>
<g transform="translate(578.8 393.7) rotate(-45)"><text x="-65.9" y="3.6">KVZR.RU</text><path transform="translate(.12 .3)" d="M-5.4 -6.75H6.2M-5.5 -7.15h1M-5.5 -6.35h1M-6.2 6.75H5.4M4.5 6.35h1M4.5 7.15h1M-3.85 -4.05h7.7a1.35 1.35 0 0 1 0 2.7h-7.7a1.35 1.35 0 0 1 0 -2.7zM-3.85 1.35h7.7a1.35 1.35 0 0 1 0 2.7h-7.7a1.35 1.35 0 0 1 0 -2.7z"/></g>
<g transform="translate(552.9 485.7) rotate(-45)"><text x="-65.9" y="3.6">KVZR.RU</text><path transform="translate(.12 .3)" d="M-5.4 -6.75H6.2M-5.5 -7.15h1M-5.5 -6.35h1M-6.2 6.75H5.4M4.5 6.35h1M4.5 7.15h1M-3.85 -4.05h7.7a1.35 1.35 0 0 1 0 2.7h-7.7a1.35 1.35 0 0 1 0 -2.7zM-3.85 1.35h7.7a1.35 1.35 0 0 1 0 2.7h-7.7a1.35 1.35 0 0 1 0 -2.7z"/></g>
<g transform="translate(527.0 577.7) rotate(-45)"><text x="-65.9" y="3.6">KVZR.RU</text><path transform="translate(.12 .3)" d="M-5.4 -6.75H6.2M-5.5 -7.15h1M-5.5 -6.35h1M-6.2 6.75H5.4M4.5 6.35h1M4.5 7.15h1M-3.85 -4.05h7.7a1.35 1.35 0 0 1 0 2.7h-7.7a1.35 1.35 0 0 1 0 -2.7zM-3.85 1.35h7.7a1.35 1.35 0 0 1 0 2.7h-7.7a1.35 1.35 0 0 1 0 -2.7z"/></g>
<g transform="translate(501.1 669.7) rotate(-45)"><text x="-65.9" y="3.6">KVZR.RU</text><path transform="translate(.12 .3)" d="M-5.4 -6.75H6.2M-5.5 -7.15h1M-5.5 -6.35h1M-6.2 6.75H5.4M4.5 6.35h1M4.5 7.15h1M-3.85 -4.05h7.7a1.35 1.35 0 0 1 0 2.7h-7.7a1.35 1.35 0 0 1 0 -2.7zM-3.85 1.35h7.7a1.35 1.35 0 0 1 0 2.7h-7.7a1.35 1.35 0 0 1 0 -2.7z"/></g>
<g transform="translate(475.1 761.7) rotate(-45)"><text x="-65.9" y="3.6">KVZR.RU</text><path transform="translate(.12 .3)" d="M-5.4 -6.75H6.2M-5.5 -7.15h1M-5.5 -6.35h1M-6.2 6.75H5.4M4.5 6.35h1M4.5 7.15h1M-3.85 -4.05h7.7a1.35 1.35 0 0 1 0 2.7h-7.7a1.35 1.35 0 0 1 0 -2.7zM-3.85 1.35h7.7a1.35 1.35 0 0 1 0 2.7h-7.7a1.35 1.35 0 0 1 0 -2.7z"/></g>
<g transform="translate(449.2 853.6) rotate(-45)"><text x="-65.9" y="3.6">KVZR.RU</text><path transform="translate(.12 .3)" d="M-5.4 -6.75H6.2M-5.5 -7.15h1M-5.5 -6.35h1M-6.2 6.75H5.4M4.5 6.35h1M4.5 7.15h1M-3.85 -4.05h7.7a1.35 1.35 0 0 1 0 2.7h-7.7a1.35 1.35 0 0 1 0 -2.7zM-3.85 1.35h7.7a1.35 1.35 0 0 1 0 2.7h-7.7a1.35 1.35 0 0 1 0 -2.7z"/></g>
<g transform="translate(423.3 945.6) rotate(-45)"><text x="-65.9" y="3.6">KVZR.RU</text><path transform="translate(.12 .3)" d="M-5.4 -6.75H6.2M-5.5 -7.15h1M-5.5 -6.35h1M-6.2 6.75H5.4M4.5 6.35h1M4.5 7.15h1M-3.85 -4.05h7.7a1.35 1.35 0 0 1 0 2.7h-7.7a1.35 1.35 0 0 1 0 -2.7zM-3.85 1.35h7.7a1.35 1.35 0 0 1 0 2.7h-7.7a1.35 1.35 0 0 1 0 -2.7z"/></g>
<g transform="translate(397.4 1037.6) rotate(-45)"><text x="-65.9" y="3.6">KVZR.RU</text><path transform="translate(.12 .3)" d="M-5.4 -6.75H6.2M-5.5 -7.15h1M-5.5 -6.35h1M-6.2 6.75H5.4M4.5 6.35h1M4.5 7.15h1M-3.85 -4.05h7.7a1.35 1.35 0 0 1 0 2.7h-7.7a1.35 1.35 0 0 1 0 -2.7zM-3.85 1.35h7.7a1.35 1.35 0 0 1 0 2.7h-7.7a1.35 1.35 0 0 1 0 -2.7z"/></g>
<g transform="translate(371.5 1129.6) rotate(-45)"><text x="-65.9" y="3.6">KVZR.RU</text><path transform="translate(.12 .3)" d="M-5.4 -6.75H6.2M-5.5 -7.15h1M-5.5 -6.35h1M-6.2 6.75H5.4M4.5 6.35h1M4.5 7.15h1M-3.85 -4.05h7.7a1.35 1.35 0 0 1 0 2.7h-7.7a1.35 1.35 0 0 1 0 -2.7zM-3.85 1.35h7.7a1.35 1.35 0 0 1 0 2.7h-7.7a1.35 1.35 0 0 1 0 -2.7z"/></g>
<g transform="translate(345.6 1221.6) rotate(-45)"><text x="-65.9" y="3.6">KVZR.RU</text><path transform="translate(.12 .3)" d="M-5.4 -6.75H6.2M-5.5 -7.15h1M-5.5 -6.35h1M-6.2 6.75H5.4M4.5 6.35h1M4.5 7.15h1M-3.85 -4.05h7.7a1.35 1.35 0 0 1 0 2.7h-7.7a1.35 1.35 0 0 1 0 -2.7zM-3.85 1.35h7.7a1.35 1.35 0 0 1 0 2.7h-7.7a1.35 1.35 0 0 1 0 -2.7z"/></g>
<g transform="translate(774.4 -0.1) rotate(-45)"><text x="-65.9" y="3.6">KVZR.RU</text><path transform="translate(.12 .3)" d="M-5.4 -6.75H6.2M-5.5 -7.15h1M-5.5 -6.35h1M-6.2 6.75H5.4M4.5 6.35h1M4.5 7.15h1M-3.85 -4.05h7.7a1.35 1.35 0 0 1 0 2.7h-7.7a1.35 1.35 0 0 1 0 -2.7zM-3.85 1.35h7.7a1.35 1.35 0 0 1 0 2.7h-7.7a1.35 1.35 0 0 1 0 -2.7z"/></g>
<g transform="translate(748.5 91.9) rotate(-45)"><text x="-65.9" y="3.6">KVZR.RU</text><path transform="translate(.12 .3)" d="M-5.4 -6.75H6.2M-5.5 -7.15h1M-5.5 -6.35h1M-6.2 6.75H5.4M4.5 6.35h1M4.5 7.15h1M-3.85 -4.05h7.7a1.35 1.35 0 0 1 0 2.7h-7.7a1.35 1.35 0 0 1 0 -2.7zM-3.85 1.35h7.7a1.35 1.35 0 0 1 0 2.7h-7.7a1.35 1.35 0 0 1 0 -2.7z"/></g>
<g transform="translate(722.6 183.8) rotate(-45)"><text x="-65.9" y="3.6">KVZR.RU</text><path transform="translate(.12 .3)" d="M-5.4 -6.75H6.2M-5.5 -7.15h1M-5.5 -6.35h1M-6.2 6.75H5.4M4.5 6.35h1M4.5 7.15h1M-3.85 -4.05h7.7a1.35 1.35 0 0 1 0 2.7h-7.7a1.35 1.35 0 0 1 0 -2.7zM-3.85 1.35h7.7a1.35 1.35 0 0 1 0 2.7h-7.7a1.35 1.35 0 0 1 0 -2.7z"/></g>
<g transform="translate(696.7 275.8) rotate(-45)"><text x="-65.9" y="3.6">KVZR.RU</text><path transform="translate(.12 .3)" d="M-5.4 -6.75H6.2M-5.5 -7.15h1M-5.5 -6.35h1M-6.2 6.75H5.4M4.5 6.35h1M4.5 7.15h1M-3.85 -4.05h7.7a1.35 1.35 0 0 1 0 2.7h-7.7a1.35 1.35 0 0 1 0 -2.7zM-3.85 1.35h7.7a1.35 1.35 0 0 1 0 2.7h-7.7a1.35 1.35 0 0 1 0 -2.7z"/></g>
<g transform="translate(670.8 367.8) rotate(-45)"><text x="-65.9" y="3.6">KVZR.RU</text><path transform="translate(.12 .3)" d="M-5.4 -6.75H6.2M-5.5 -7.15h1M-5.5 -6.35h1M-6.2 6.75H5.4M4.5 6.35h1M4.5 7.15h1M-3.85 -4.05h7.7a1.35 1.35 0 0 1 0 2.7h-7.7a1.35 1.35 0 0 1 0 -2.7zM-3.85 1.35h7.7a1.35 1.35 0 0 1 0 2.7h-7.7a1.35 1.35 0 0 1 0 -2.7z"/></g>
<g transform="translate(644.9 459.8) rotate(-45)"><text x="-65.9" y="3.6">KVZR.RU</text><path transform="translate(.12 .3)" d="M-5.4 -6.75H6.2M-5.5 -7.15h1M-5.5 -6.35h1M-6.2 6.75H5.4M4.5 6.35h1M4.5 7.15h1M-3.85 -4.05h7.7a1.35 1.35 0 0 1 0 2.7h-7.7a1.35 1.35 0 0 1 0 -2.7zM-3.85 1.35h7.7a1.35 1.35 0 0 1 0 2.7h-7.7a1.35 1.35 0 0 1 0 -2.7z"/></g>
<g transform="translate(618.9 551.8) rotate(-45)"><text x="-65.9" y="3.6">KVZR.RU</text><path transform="translate(.12 .3)" d="M-5.4 -6.75H6.2M-5.5 -7.15h1M-5.5 -6.35h1M-6.2 6.75H5.4M4.5 6.35h1M4.5 7.15h1M-3.85 -4.05h7.7a1.35 1.35 0 0 1 0 2.7h-7.7a1.35 1.35 0 0 1 0 -2.7zM-3.85 1.35h7.7a1.35 1.35 0 0 1 0 2.7h-7.7a1.35 1.35 0 0 1 0 -2.7z"/></g>
<g transform="translate(593.0 643.8) rotate(-45)"><text x="-65.9" y="3.6">KVZR.RU</text><path transform="translate(.12 .3)" d="M-5.4 -6.75H6.2M-5.5 -7.15h1M-5.5 -6.35h1M-6.2 6.75H5.4M4.5 6.35h1M4.5 7.15h1M-3.85 -4.05h7.7a1.35 1.35 0 0 1 0 2.7h-7.7a1.35 1.35 0 0 1 0 -2.7zM-3.85 1.35h7.7a1.35 1.35 0 0 1 0 2.7h-7.7a1.35 1.35 0 0 1 0 -2.7z"/></g>
<g transform="translate(567.1 735.7) rotate(-45)"><text x="-65.9" y="3.6">KVZR.RU</text><path transform="translate(.12 .3)" d="M-5.4 -6.75H6.2M-5.5 -7.15h1M-5.5 -6.35h1M-6.2 6.75H5.4M4.5 6.35h1M4.5 7.15h1M-3.85 -4.05h7.7a1.35 1.35 0 0 1 0 2.7h-7.7a1.35 1.35 0 0 1 0 -2.7zM-3.85 1.35h7.7a1.35 1.35 0 0 1 0 2.7h-7.7a1.35 1.35 0 0 1 0 -2.7z"/></g>
<g transform="translate(541.2 827.7) rotate(-45)"><text x="-65.9" y="3.6">KVZR.RU</text><path transform="translate(.12 .3)" d="M-5.4 -6.75H6.2M-5.5 -7.15h1M-5.5 -6.35h1M-6.2 6.75H5.4M4.5 6.35h1M4.5 7.15h1M-3.85 -4.05h7.7a1.35 1.35 0 0 1 0 2.7h-7.7a1.35 1.35 0 0 1 0 -2.7zM-3.85 1.35h7.7a1.35 1.35 0 0 1 0 2.7h-7.7a1.35 1.35 0 0 1 0 -2.7z"/></g>
<g transform="translate(515.3 919.7) rotate(-45)"><text x="-65.9" y="3.6">KVZR.RU</text><path transform="translate(.12 .3)" d="M-5.4 -6.75H6.2M-5.5 -7.15h1M-5.5 -6.35h1M-6.2 6.75H5.4M4.5 6.35h1M4.5 7.15h1M-3.85 -4.05h7.7a1.35 1.35 0 0 1 0 2.7h-7.7a1.35 1.35 0 0 1 0 -2.7zM-3.85 1.35h7.7a1.35 1.35 0 0 1 0 2.7h-7.7a1.35 1.35 0 0 1 0 -2.7z"/></g>
<g transform="translate(489.4 1011.7) rotate(-45)"><text x="-65.9" y="3.6">KVZR.RU</text><path transform="translate(.12 .3)" d="M-5.4 -6.75H6.2M-5.5 -7.15h1M-5.5 -6.35h1M-6.2 6.75H5.4M4.5 6.35h1M4.5 7.15h1M-3.85 -4.05h7.7a1.35 1.35 0 0 1 0 2.7h-7.7a1.35 1.35 0 0 1 0 -2.7zM-3.85 1.35h7.7a1.35 1.35 0 0 1 0 2.7h-7.7a1.35 1.35 0 0 1 0 -2.7z"/></g>
<g transform="translate(463.4 1103.7) rotate(-45)"><text x="-65.9" y="3.6">KVZR.RU</text><path transform="translate(.12 .3)" d="M-5.4 -6.75H6.2M-5.5 -7.15h1M-5.5 -6.35h1M-6.2 6.75H5.4M4.5 6.35h1M4.5 7.15h1M-3.85 -4.05h7.7a1.35 1.35 0 0 1 0 2.7h-7.7a1.35 1.35 0 0 1 0 -2.7zM-3.85 1.35h7.7a1.35 1.35 0 0 1 0 2.7h-7.7a1.35 1.35 0 0 1 0 -2.7z"/></g>
<g transform="translate(437.5 1195.7) rotate(-45)"><text x="-65.9" y="3.6">KVZR.RU</text><path transform="translate(.12 .3)" d="M-5.4 -6.75H6.2M-5.5 -7.15h1M-5.5 -6.35h1M-6.2 6.75H5.4M4.5 6.35h1M4.5 7.15h1M-3.85 -4.05h7.7a1.35 1.35 0 0 1 0 2.7h-7.7a1.35 1.35 0 0 1 0 -2.7zM-3.85 1.35h7.7a1.35 1.35 0 0 1 0 2.7h-7.7a1.35 1.35 0 0 1 0 -2.7z"/></g>
<g transform="translate(866.4 -26.0) rotate(-45)"><text x="-65.9" y="3.6">KVZR.RU</text><path transform="translate(.12 .3)" d="M-5.4 -6.75H6.2M-5.5 -7.15h1M-5.5 -6.35h1M-6.2 6.75H5.4M4.5 6.35h1M4.5 7.15h1M-3.85 -4.05h7.7a1.35 1.35 0 0 1 0 2.7h-7.7a1.35 1.35 0 0 1 0 -2.7zM-3.85 1.35h7.7a1.35 1.35 0 0 1 0 2.7h-7.7a1.35 1.35 0 0 1 0 -2.7z"/></g>
<g transform="translate(840.5 65.9) rotate(-45)"><text x="-65.9" y="3.6">KVZR.RU</text><path transform="translate(.12 .3)" d="M-5.4 -6.75H6.2M-5.5 -7.15h1M-5.5 -6.35h1M-6.2 6.75H5.4M4.5 6.35h1M4.5 7.15h1M-3.85 -4.05h7.7a1.35 1.35 0 0 1 0 2.7h-7.7a1.35 1.35 0 0 1 0 -2.7zM-3.85 1.35h7.7a1.35 1.35 0 0 1 0 2.7h-7.7a1.35 1.35 0 0 1 0 -2.7z"/></g>
<g transform="translate(814.6 157.9) rotate(-45)"><text x="-65.9" y="3.6">KVZR.RU</text><path transform="translate(.12 .3)" d="M-5.4 -6.75H6.2M-5.5 -7.15h1M-5.5 -6.35h1M-6.2 6.75H5.4M4.5 6.35h1M4.5 7.15h1M-3.85 -4.05h7.7a1.35 1.35 0 0 1 0 2.7h-7.7a1.35 1.35 0 0 1 0 -2.7zM-3.85 1.35h7.7a1.35 1.35 0 0 1 0 2.7h-7.7a1.35 1.35 0 0 1 0 -2.7z"/></g>
<g transform="translate(788.7 249.9) rotate(-45)"><text x="-65.9" y="3.6">KVZR.RU</text><path transform="translate(.12 .3)" d="M-5.4 -6.75H6.2M-5.5 -7.15h1M-5.5 -6.35h1M-6.2 6.75H5.4M4.5 6.35h1M4.5 7.15h1M-3.85 -4.05h7.7a1.35 1.35 0 0 1 0 2.7h-7.7a1.35 1.35 0 0 1 0 -2.7zM-3.85 1.35h7.7a1.35 1.35 0 0 1 0 2.7h-7.7a1.35 1.35 0 0 1 0 -2.7z"/></g>
<g transform="translate(762.7 341.9) rotate(-45)"><text x="-65.9" y="3.6">KVZR.RU</text><path transform="translate(.12 .3)" d="M-5.4 -6.75H6.2M-5.5 -7.15h1M-5.5 -6.35h1M-6.2 6.75H5.4M4.5 6.35h1M4.5 7.15h1M-3.85 -4.05h7.7a1.35 1.35 0 0 1 0 2.7h-7.7a1.35 1.35 0 0 1 0 -2.7zM-3.85 1.35h7.7a1.35 1.35 0 0 1 0 2.7h-7.7a1.35 1.35 0 0 1 0 -2.7z"/></g>
<g transform="translate(736.8 433.9) rotate(-45)"><text x="-65.9" y="3.6">KVZR.RU</text><path transform="translate(.12 .3)" d="M-5.4 -6.75H6.2M-5.5 -7.15h1M-5.5 -6.35h1M-6.2 6.75H5.4M4.5 6.35h1M4.5 7.15h1M-3.85 -4.05h7.7a1.35 1.35 0 0 1 0 2.7h-7.7a1.35 1.35 0 0 1 0 -2.7zM-3.85 1.35h7.7a1.35 1.35 0 0 1 0 2.7h-7.7a1.35 1.35 0 0 1 0 -2.7z"/></g>
<g transform="translate(710.9 525.8) rotate(-45)"><text x="-65.9" y="3.6">KVZR.RU</text><path transform="translate(.12 .3)" d="M-5.4 -6.75H6.2M-5.5 -7.15h1M-5.5 -6.35h1M-6.2 6.75H5.4M4.5 6.35h1M4.5 7.15h1M-3.85 -4.05h7.7a1.35 1.35 0 0 1 0 2.7h-7.7a1.35 1.35 0 0 1 0 -2.7zM-3.85 1.35h7.7a1.35 1.35 0 0 1 0 2.7h-7.7a1.35 1.35 0 0 1 0 -2.7z"/></g>
<g transform="translate(685.0 617.8) rotate(-45)"><text x="-65.9" y="3.6">KVZR.RU</text><path transform="translate(.12 .3)" d="M-5.4 -6.75H6.2M-5.5 -7.15h1M-5.5 -6.35h1M-6.2 6.75H5.4M4.5 6.35h1M4.5 7.15h1M-3.85 -4.05h7.7a1.35 1.35 0 0 1 0 2.7h-7.7a1.35 1.35 0 0 1 0 -2.7zM-3.85 1.35h7.7a1.35 1.35 0 0 1 0 2.7h-7.7a1.35 1.35 0 0 1 0 -2.7z"/></g>
<g transform="translate(659.1 709.8) rotate(-45)"><text x="-65.9" y="3.6">KVZR.RU</text><path transform="translate(.12 .3)" d="M-5.4 -6.75H6.2M-5.5 -7.15h1M-5.5 -6.35h1M-6.2 6.75H5.4M4.5 6.35h1M4.5 7.15h1M-3.85 -4.05h7.7a1.35 1.35 0 0 1 0 2.7h-7.7a1.35 1.35 0 0 1 0 -2.7zM-3.85 1.35h7.7a1.35 1.35 0 0 1 0 2.7h-7.7a1.35 1.35 0 0 1 0 -2.7z"/></g>
<g transform="translate(633.2 801.8) rotate(-45)"><text x="-65.9" y="3.6">KVZR.RU</text><path transform="translate(.12 .3)" d="M-5.4 -6.75H6.2M-5.5 -7.15h1M-5.5 -6.35h1M-6.2 6.75H5.4M4.5 6.35h1M4.5 7.15h1M-3.85 -4.05h7.7a1.35 1.35 0 0 1 0 2.7h-7.7a1.35 1.35 0 0 1 0 -2.7zM-3.85 1.35h7.7a1.35 1.35 0 0 1 0 2.7h-7.7a1.35 1.35 0 0 1 0 -2.7z"/></g>
<g transform="translate(607.2 893.8) rotate(-45)"><text x="-65.9" y="3.6">KVZR.RU</text><path transform="translate(.12 .3)" d="M-5.4 -6.75H6.2M-5.5 -7.15h1M-5.5 -6.35h1M-6.2 6.75H5.4M4.5 6.35h1M4.5 7.15h1M-3.85 -4.05h7.7a1.35 1.35 0 0 1 0 2.7h-7.7a1.35 1.35 0 0 1 0 -2.7zM-3.85 1.35h7.7a1.35 1.35 0 0 1 0 2.7h-7.7a1.35 1.35 0 0 1 0 -2.7z"/></g>
<g transform="translate(581.3 985.8) rotate(-45)"><text x="-65.9" y="3.6">KVZR.RU</text><path transform="translate(.12 .3)" d="M-5.4 -6.75H6.2M-5.5 -7.15h1M-5.5 -6.35h1M-6.2 6.75H5.4M4.5 6.35h1M4.5 7.15h1M-3.85 -4.05h7.7a1.35 1.35 0 0 1 0 2.7h-7.7a1.35 1.35 0 0 1 0 -2.7zM-3.85 1.35h7.7a1.35 1.35 0 0 1 0 2.7h-7.7a1.35 1.35 0 0 1 0 -2.7z"/></g>
<g transform="translate(555.4 1077.7) rotate(-45)"><text x="-65.9" y="3.6">KVZR.RU</text><path transform="translate(.12 .3)" d="M-5.4 -6.75H6.2M-5.5 -7.15h1M-5.5 -6.35h1M-6.2 6.75H5.4M4.5 6.35h1M4.5 7.15h1M-3.85 -4.05h7.7a1.35 1.35 0 0 1 0 2.7h-7.7a1.35 1.35 0 0 1 0 -2.7zM-3.85 1.35h7.7a1.35 1.35 0 0 1 0 2.7h-7.7a1.35 1.35 0 0 1 0 -2.7z"/></g>
<g transform="translate(529.5 1169.7) rotate(-45)"><text x="-65.9" y="3.6">KVZR.RU</text><path transform="translate(.12 .3)" d="M-5.4 -6.75H6.2M-5.5 -7.15h1M-5.5 -6.35h1M-6.2 6.75H5.4M4.5 6.35h1M4.5 7.15h1M-3.85 -4.05h7.7a1.35 1.35 0 0 1 0 2.7h-7.7a1.35 1.35 0 0 1 0 -2.7zM-3.85 1.35h7.7a1.35 1.35 0 0 1 0 2.7h-7.7a1.35 1.35 0 0 1 0 -2.7z"/></g>
<g transform="translate(503.6 1261.7) rotate(-45)"><text x="-65.9" y="3.6">KVZR.RU</text><path transform="translate(.12 .3)" d="M-5.4 -6.75H6.2M-5.5 -7.15h1M-5.5 -6.35h1M-6.2 6.75H5.4M4.5 6.35h1M4.5 7.15h1M-3.85 -4.05h7.7a1.35 1.35 0 0 1 0 2.7h-7.7a1.35 1.35 0 0 1 0 -2.7zM-3.85 1.35h7.7a1.35 1.35 0 0 1 0 2.7h-7.7a1.35 1.35 0 0 1 0 -2.7z"/></g>
<g transform="translate(958.4 -52.0) rotate(-45)"><text x="-65.9" y="3.6">KVZR.RU</text><path transform="translate(.12 .3)" d="M-5.4 -6.75H6.2M-5.5 -7.15h1M-5.5 -6.35h1M-6.2 6.75H5.4M4.5 6.35h1M4.5 7.15h1M-3.85 -4.05h7.7a1.35 1.35 0 0 1 0 2.7h-7.7a1.35 1.35 0 0 1 0 -2.7zM-3.85 1.35h7.7a1.35 1.35 0 0 1 0 2.7h-7.7a1.35 1.35 0 0 1 0 -2.7z"/></g>
<g transform="translate(932.4 40.0) rotate(-45)"><text x="-65.9" y="3.6">KVZR.RU</text><path transform="translate(.12 .3)" d="M-5.4 -6.75H6.2M-5.5 -7.15h1M-5.5 -6.35h1M-6.2 6.75H5.4M4.5 6.35h1M4.5 7.15h1M-3.85 -4.05h7.7a1.35 1.35 0 0 1 0 2.7h-7.7a1.35 1.35 0 0 1 0 -2.7zM-3.85 1.35h7.7a1.35 1.35 0 0 1 0 2.7h-7.7a1.35 1.35 0 0 1 0 -2.7z"/></g>
<g transform="translate(906.5 132.0) rotate(-45)"><text x="-65.9" y="3.6">KVZR.RU</text><path transform="translate(.12 .3)" d="M-5.4 -6.75H6.2M-5.5 -7.15h1M-5.5 -6.35h1M-6.2 6.75H5.4M4.5 6.35h1M4.5 7.15h1M-3.85 -4.05h7.7a1.35 1.35 0 0 1 0 2.7h-7.7a1.35 1.35 0 0 1 0 -2.7zM-3.85 1.35h7.7a1.35 1.35 0 0 1 0 2.7h-7.7a1.35 1.35 0 0 1 0 -2.7z"/></g>
<g transform="translate(880.6 224.0) rotate(-45)"><text x="-65.9" y="3.6">KVZR.RU</text><path transform="translate(.12 .3)" d="M-5.4 -6.75H6.2M-5.5 -7.15h1M-5.5 -6.35h1M-6.2 6.75H5.4M4.5 6.35h1M4.5 7.15h1M-3.85 -4.05h7.7a1.35 1.35 0 0 1 0 2.7h-7.7a1.35 1.35 0 0 1 0 -2.7zM-3.85 1.35h7.7a1.35 1.35 0 0 1 0 2.7h-7.7a1.35 1.35 0 0 1 0 -2.7z"/></g>
<g transform="translate(854.7 316.0) rotate(-45)"><text x="-65.9" y="3.6">KVZR.RU</text><path transform="translate(.12 .3)" d="M-5.4 -6.75H6.2M-5.5 -7.15h1M-5.5 -6.35h1M-6.2 6.75H5.4M4.5 6.35h1M4.5 7.15h1M-3.85 -4.05h7.7a1.35 1.35 0 0 1 0 2.7h-7.7a1.35 1.35 0 0 1 0 -2.7zM-3.85 1.35h7.7a1.35 1.35 0 0 1 0 2.7h-7.7a1.35 1.35 0 0 1 0 -2.7z"/></g>
<g transform="translate(828.8 407.9) rotate(-45)"><text x="-65.9" y="3.6">KVZR.RU</text><path transform="translate(.12 .3)" d="M-5.4 -6.75H6.2M-5.5 -7.15h1M-5.5 -6.35h1M-6.2 6.75H5.4M4.5 6.35h1M4.5 7.15h1M-3.85 -4.05h7.7a1.35 1.35 0 0 1 0 2.7h-7.7a1.35 1.35 0 0 1 0 -2.7zM-3.85 1.35h7.7a1.35 1.35 0 0 1 0 2.7h-7.7a1.35 1.35 0 0 1 0 -2.7z"/></g>
<g transform="translate(802.9 499.9) rotate(-45)"><text x="-65.9" y="3.6">KVZR.RU</text><path transform="translate(.12 .3)" d="M-5.4 -6.75H6.2M-5.5 -7.15h1M-5.5 -6.35h1M-6.2 6.75H5.4M4.5 6.35h1M4.5 7.15h1M-3.85 -4.05h7.7a1.35 1.35 0 0 1 0 2.7h-7.7a1.35 1.35 0 0 1 0 -2.7zM-3.85 1.35h7.7a1.35 1.35 0 0 1 0 2.7h-7.7a1.35 1.35 0 0 1 0 -2.7z"/></g>
<g transform="translate(776.9 591.9) rotate(-45)"><text x="-65.9" y="3.6">KVZR.RU</text><path transform="translate(.12 .3)" d="M-5.4 -6.75H6.2M-5.5 -7.15h1M-5.5 -6.35h1M-6.2 6.75H5.4M4.5 6.35h1M4.5 7.15h1M-3.85 -4.05h7.7a1.35 1.35 0 0 1 0 2.7h-7.7a1.35 1.35 0 0 1 0 -2.7zM-3.85 1.35h7.7a1.35 1.35 0 0 1 0 2.7h-7.7a1.35 1.35 0 0 1 0 -2.7z"/></g>
<g transform="translate(751.0 683.9) rotate(-45)"><text x="-65.9" y="3.6">KVZR.RU</text><path transform="translate(.12 .3)" d="M-5.4 -6.75H6.2M-5.5 -7.15h1M-5.5 -6.35h1M-6.2 6.75H5.4M4.5 6.35h1M4.5 7.15h1M-3.85 -4.05h7.7a1.35 1.35 0 0 1 0 2.7h-7.7a1.35 1.35 0 0 1 0 -2.7zM-3.85 1.35h7.7a1.35 1.35 0 0 1 0 2.7h-7.7a1.35 1.35 0 0 1 0 -2.7z"/></g>
<g transform="translate(725.1 775.9) rotate(-45)"><text x="-65.9" y="3.6">KVZR.RU</text><path transform="translate(.12 .3)" d="M-5.4 -6.75H6.2M-5.5 -7.15h1M-5.5 -6.35h1M-6.2 6.75H5.4M4.5 6.35h1M4.5 7.15h1M-3.85 -4.05h7.7a1.35 1.35 0 0 1 0 2.7h-7.7a1.35 1.35 0 0 1 0 -2.7zM-3.85 1.35h7.7a1.35 1.35 0 0 1 0 2.7h-7.7a1.35 1.35 0 0 1 0 -2.7z"/></g>
<g transform="translate(699.2 867.9) rotate(-45)"><text x="-65.9" y="3.6">KVZR.RU</text><path transform="translate(.12 .3)" d="M-5.4 -6.75H6.2M-5.5 -7.15h1M-5.5 -6.35h1M-6.2 6.75H5.4M4.5 6.35h1M4.5 7.15h1M-3.85 -4.05h7.7a1.35 1.35 0 0 1 0 2.7h-7.7a1.35 1.35 0 0 1 0 -2.7zM-3.85 1.35h7.7a1.35 1.35 0 0 1 0 2.7h-7.7a1.35 1.35 0 0 1 0 -2.7z"/></g>
<g transform="translate(673.3 959.8) rotate(-45)"><text x="-65.9" y="3.6">KVZR.RU</text><path transform="translate(.12 .3)" d="M-5.4 -6.75H6.2M-5.5 -7.15h1M-5.5 -6.35h1M-6.2 6.75H5.4M4.5 6.35h1M4.5 7.15h1M-3.85 -4.05h7.7a1.35 1.35 0 0 1 0 2.7h-7.7a1.35 1.35 0 0 1 0 -2.7zM-3.85 1.35h7.7a1.35 1.35 0 0 1 0 2.7h-7.7a1.35 1.35 0 0 1 0 -2.7z"/></g>
<g transform="translate(647.4 1051.8) rotate(-45)"><text x="-65.9" y="3.6">KVZR.RU</text><path transform="translate(.12 .3)" d="M-5.4 -6.75H6.2M-5.5 -7.15h1M-5.5 -6.35h1M-6.2 6.75H5.4M4.5 6.35h1M4.5 7.15h1M-3.85 -4.05h7.7a1.35 1.35 0 0 1 0 2.7h-7.7a1.35 1.35 0 0 1 0 -2.7zM-3.85 1.35h7.7a1.35 1.35 0 0 1 0 2.7h-7.7a1.35 1.35 0 0 1 0 -2.7z"/></g>
<g transform="translate(621.4 1143.8) rotate(-45)"><text x="-65.9" y="3.6">KVZR.RU</text><path transform="translate(.12 .3)" d="M-5.4 -6.75H6.2M-5.5 -7.15h1M-5.5 -6.35h1M-6.2 6.75H5.4M4.5 6.35h1M4.5 7.15h1M-3.85 -4.05h7.7a1.35 1.35 0 0 1 0 2.7h-7.7a1.35 1.35 0 0 1 0 -2.7zM-3.85 1.35h7.7a1.35 1.35 0 0 1 0 2.7h-7.7a1.35 1.35 0 0 1 0 -2.7z"/></g>
<g transform="translate(595.5 1235.8) rotate(-45)"><text x="-65.9" y="3.6">KVZR.RU</text><path transform="translate(.12 .3)" d="M-5.4 -6.75H6.2M-5.5 -7.15h1M-5.5 -6.35h1M-6.2 6.75H5.4M4.5 6.35h1M4.5 7.15h1M-3.85 -4.05h7.7a1.35 1.35 0 0 1 0 2.7h-7.7a1.35 1.35 0 0 1 0 -2.7zM-3.85 1.35h7.7a1.35 1.35 0 0 1 0 2.7h-7.7a1.35 1.35 0 0 1 0 -2.7z"/></g>
<g transform="translate(1050.3 -77.9) rotate(-45)"><text x="-65.9" y="3.6">KVZR.RU</text><path transform="translate(.12 .3)" d="M-5.4 -6.75H6.2M-5.5 -7.15h1M-5.5 -6.35h1M-6.2 6.75H5.4M4.5 6.35h1M4.5 7.15h1M-3.85 -4.05h7.7a1.35 1.35 0 0 1 0 2.7h-7.7a1.35 1.35 0 0 1 0 -2.7zM-3.85 1.35h7.7a1.35 1.35 0 0 1 0 2.7h-7.7a1.35 1.35 0 0 1 0 -2.7z"/></g>
<g transform="translate(1024.4 14.1) rotate(-45)"><text x="-65.9" y="3.6">KVZR.RU</text><path transform="translate(.12 .3)" d="M-5.4 -6.75H6.2M-5.5 -7.15h1M-5.5 -6.35h1M-6.2 6.75H5.4M4.5 6.35h1M4.5 7.15h1M-3.85 -4.05h7.7a1.35 1.35 0 0 1 0 2.7h-7.7a1.35 1.35 0 0 1 0 -2.7zM-3.85 1.35h7.7a1.35 1.35 0 0 1 0 2.7h-7.7a1.35 1.35 0 0 1 0 -2.7z"/></g>
<g transform="translate(998.5 106.1) rotate(-45)"><text x="-65.9" y="3.6">KVZR.RU</text><path transform="translate(.12 .3)" d="M-5.4 -6.75H6.2M-5.5 -7.15h1M-5.5 -6.35h1M-6.2 6.75H5.4M4.5 6.35h1M4.5 7.15h1M-3.85 -4.05h7.7a1.35 1.35 0 0 1 0 2.7h-7.7a1.35 1.35 0 0 1 0 -2.7zM-3.85 1.35h7.7a1.35 1.35 0 0 1 0 2.7h-7.7a1.35 1.35 0 0 1 0 -2.7z"/></g>
<g transform="translate(972.6 198.1) rotate(-45)"><text x="-65.9" y="3.6">KVZR.RU</text><path transform="translate(.12 .3)" d="M-5.4 -6.75H6.2M-5.5 -7.15h1M-5.5 -6.35h1M-6.2 6.75H5.4M4.5 6.35h1M4.5 7.15h1M-3.85 -4.05h7.7a1.35 1.35 0 0 1 0 2.7h-7.7a1.35 1.35 0 0 1 0 -2.7zM-3.85 1.35h7.7a1.35 1.35 0 0 1 0 2.7h-7.7a1.35 1.35 0 0 1 0 -2.7z"/></g>
<g transform="translate(946.7 290.0) rotate(-45)"><text x="-65.9" y="3.6">KVZR.RU</text><path transform="translate(.12 .3)" d="M-5.4 -6.75H6.2M-5.5 -7.15h1M-5.5 -6.35h1M-6.2 6.75H5.4M4.5 6.35h1M4.5 7.15h1M-3.85 -4.05h7.7a1.35 1.35 0 0 1 0 2.7h-7.7a1.35 1.35 0 0 1 0 -2.7zM-3.85 1.35h7.7a1.35 1.35 0 0 1 0 2.7h-7.7a1.35 1.35 0 0 1 0 -2.7z"/></g>
<g transform="translate(920.7 382.0) rotate(-45)"><text x="-65.9" y="3.6">KVZR.RU</text><path transform="translate(.12 .3)" d="M-5.4 -6.75H6.2M-5.5 -7.15h1M-5.5 -6.35h1M-6.2 6.75H5.4M4.5 6.35h1M4.5 7.15h1M-3.85 -4.05h7.7a1.35 1.35 0 0 1 0 2.7h-7.7a1.35 1.35 0 0 1 0 -2.7zM-3.85 1.35h7.7a1.35 1.35 0 0 1 0 2.7h-7.7a1.35 1.35 0 0 1 0 -2.7z"/></g>
<g transform="translate(894.8 474.0) rotate(-45)"><text x="-65.9" y="3.6">KVZR.RU</text><path transform="translate(.12 .3)" d="M-5.4 -6.75H6.2M-5.5 -7.15h1M-5.5 -6.35h1M-6.2 6.75H5.4M4.5 6.35h1M4.5 7.15h1M-3.85 -4.05h7.7a1.35 1.35 0 0 1 0 2.7h-7.7a1.35 1.35 0 0 1 0 -2.7zM-3.85 1.35h7.7a1.35 1.35 0 0 1 0 2.7h-7.7a1.35 1.35 0 0 1 0 -2.7z"/></g>
<g transform="translate(868.9 566.0) rotate(-45)"><text x="-65.9" y="3.6">KVZR.RU</text><path transform="translate(.12 .3)" d="M-5.4 -6.75H6.2M-5.5 -7.15h1M-5.5 -6.35h1M-6.2 6.75H5.4M4.5 6.35h1M4.5 7.15h1M-3.85 -4.05h7.7a1.35 1.35 0 0 1 0 2.7h-7.7a1.35 1.35 0 0 1 0 -2.7zM-3.85 1.35h7.7a1.35 1.35 0 0 1 0 2.7h-7.7a1.35 1.35 0 0 1 0 -2.7z"/></g>
<g transform="translate(843.0 658.0) rotate(-45)"><text x="-65.9" y="3.6">KVZR.RU</text><path transform="translate(.12 .3)" d="M-5.4 -6.75H6.2M-5.5 -7.15h1M-5.5 -6.35h1M-6.2 6.75H5.4M4.5 6.35h1M4.5 7.15h1M-3.85 -4.05h7.7a1.35 1.35 0 0 1 0 2.7h-7.7a1.35 1.35 0 0 1 0 -2.7zM-3.85 1.35h7.7a1.35 1.35 0 0 1 0 2.7h-7.7a1.35 1.35 0 0 1 0 -2.7z"/></g>
<g transform="translate(817.1 749.9) rotate(-45)"><text x="-65.9" y="3.6">KVZR.RU</text><path transform="translate(.12 .3)" d="M-5.4 -6.75H6.2M-5.5 -7.15h1M-5.5 -6.35h1M-6.2 6.75H5.4M4.5 6.35h1M4.5 7.15h1M-3.85 -4.05h7.7a1.35 1.35 0 0 1 0 2.7h-7.7a1.35 1.35 0 0 1 0 -2.7zM-3.85 1.35h7.7a1.35 1.35 0 0 1 0 2.7h-7.7a1.35 1.35 0 0 1 0 -2.7z"/></g>
<g transform="translate(791.2 841.9) rotate(-45)"><text x="-65.9" y="3.6">KVZR.RU</text><path transform="translate(.12 .3)" d="M-5.4 -6.75H6.2M-5.5 -7.15h1M-5.5 -6.35h1M-6.2 6.75H5.4M4.5 6.35h1M4.5 7.15h1M-3.85 -4.05h7.7a1.35 1.35 0 0 1 0 2.7h-7.7a1.35 1.35 0 0 1 0 -2.7zM-3.85 1.35h7.7a1.35 1.35 0 0 1 0 2.7h-7.7a1.35 1.35 0 0 1 0 -2.7z"/></g>
<g transform="translate(765.2 933.9) rotate(-45)"><text x="-65.9" y="3.6">KVZR.RU</text><path transform="translate(.12 .3)" d="M-5.4 -6.75H6.2M-5.5 -7.15h1M-5.5 -6.35h1M-6.2 6.75H5.4M4.5 6.35h1M4.5 7.15h1M-3.85 -4.05h7.7a1.35 1.35 0 0 1 0 2.7h-7.7a1.35 1.35 0 0 1 0 -2.7zM-3.85 1.35h7.7a1.35 1.35 0 0 1 0 2.7h-7.7a1.35 1.35 0 0 1 0 -2.7z"/></g>
<g transform="translate(739.3 1025.9) rotate(-45)"><text x="-65.9" y="3.6">KVZR.RU</text><path transform="translate(.12 .3)" d="M-5.4 -6.75H6.2M-5.5 -7.15h1M-5.5 -6.35h1M-6.2 6.75H5.4M4.5 6.35h1M4.5 7.15h1M-3.85 -4.05h7.7a1.35 1.35 0 0 1 0 2.7h-7.7a1.35 1.35 0 0 1 0 -2.7zM-3.85 1.35h7.7a1.35 1.35 0 0 1 0 2.7h-7.7a1.35 1.35 0 0 1 0 -2.7z"/></g>
<g transform="translate(713.4 1117.9) rotate(-45)"><text x="-65.9" y="3.6">KVZR.RU</text><path transform="translate(.12 .3)" d="M-5.4 -6.75H6.2M-5.5 -7.15h1M-5.5 -6.35h1M-6.2 6.75H5.4M4.5 6.35h1M4.5 7.15h1M-3.85 -4.05h7.7a1.35 1.35 0 0 1 0 2.7h-7.7a1.35 1.35 0 0 1 0 -2.7zM-3.85 1.35h7.7a1.35 1.35 0 0 1 0 2.7h-7.7a1.35 1.35 0 0 1 0 -2.7z"/></g>
<g transform="translate(687.5 1209.9) rotate(-45)"><text x="-65.9" y="3.6">KVZR.RU</text><path transform="translate(.12 .3)" d="M-5.4 -6.75H6.2M-5.5 -7.15h1M-5.5 -6.35h1M-6.2 6.75H5.4M4.5 6.35h1M4.5 7.15h1M-3.85 -4.05h7.7a1.35 1.35 0 0 1 0 2.7h-7.7a1.35 1.35 0 0 1 0 -2.7zM-3.85 1.35h7.7a1.35 1.35 0 0 1 0 2.7h-7.7a1.35 1.35 0 0 1 0 -2.7z"/></g>
<g transform="translate(1116.4 -11.8) rotate(-45)"><text x="-65.9" y="3.6">KVZR.RU</text><path transform="translate(.12 .3)" d="M-5.4 -6.75H6.2M-5.5 -7.15h1M-5.5 -6.35h1M-6.2 6.75H5.4M4.5 6.35h1M4.5 7.15h1M-3.85 -4.05h7.7a1.35 1.35 0 0 1 0 2.7h-7.7a1.35 1.35 0 0 1 0 -2.7zM-3.85 1.35h7.7a1.35 1.35 0 0 1 0 2.7h-7.7a1.35 1.35 0 0 1 0 -2.7z"/></g>
<g transform="translate(1090.5 80.1) rotate(-45)"><text x="-65.9" y="3.6">KVZR.RU</text><path transform="translate(.12 .3)" d="M-5.4 -6.75H6.2M-5.5 -7.15h1M-5.5 -6.35h1M-6.2 6.75H5.4M4.5 6.35h1M4.5 7.15h1M-3.85 -4.05h7.7a1.35 1.35 0 0 1 0 2.7h-7.7a1.35 1.35 0 0 1 0 -2.7zM-3.85 1.35h7.7a1.35 1.35 0 0 1 0 2.7h-7.7a1.35 1.35 0 0 1 0 -2.7z"/></g>
<g transform="translate(1064.5 172.1) rotate(-45)"><text x="-65.9" y="3.6">KVZR.RU</text><path transform="translate(.12 .3)" d="M-5.4 -6.75H6.2M-5.5 -7.15h1M-5.5 -6.35h1M-6.2 6.75H5.4M4.5 6.35h1M4.5 7.15h1M-3.85 -4.05h7.7a1.35 1.35 0 0 1 0 2.7h-7.7a1.35 1.35 0 0 1 0 -2.7zM-3.85 1.35h7.7a1.35 1.35 0 0 1 0 2.7h-7.7a1.35 1.35 0 0 1 0 -2.7z"/></g>
<g transform="translate(1038.6 264.1) rotate(-45)"><text x="-65.9" y="3.6">KVZR.RU</text><path transform="translate(.12 .3)" d="M-5.4 -6.75H6.2M-5.5 -7.15h1M-5.5 -6.35h1M-6.2 6.75H5.4M4.5 6.35h1M4.5 7.15h1M-3.85 -4.05h7.7a1.35 1.35 0 0 1 0 2.7h-7.7a1.35 1.35 0 0 1 0 -2.7zM-3.85 1.35h7.7a1.35 1.35 0 0 1 0 2.7h-7.7a1.35 1.35 0 0 1 0 -2.7z"/></g>
<g transform="translate(1012.7 356.1) rotate(-45)"><text x="-65.9" y="3.6">KVZR.RU</text><path transform="translate(.12 .3)" d="M-5.4 -6.75H6.2M-5.5 -7.15h1M-5.5 -6.35h1M-6.2 6.75H5.4M4.5 6.35h1M4.5 7.15h1M-3.85 -4.05h7.7a1.35 1.35 0 0 1 0 2.7h-7.7a1.35 1.35 0 0 1 0 -2.7zM-3.85 1.35h7.7a1.35 1.35 0 0 1 0 2.7h-7.7a1.35 1.35 0 0 1 0 -2.7z"/></g>
<g transform="translate(986.8 448.1) rotate(-45)"><text x="-65.9" y="3.6">KVZR.RU</text><path transform="translate(.12 .3)" d="M-5.4 -6.75H6.2M-5.5 -7.15h1M-5.5 -6.35h1M-6.2 6.75H5.4M4.5 6.35h1M4.5 7.15h1M-3.85 -4.05h7.7a1.35 1.35 0 0 1 0 2.7h-7.7a1.35 1.35 0 0 1 0 -2.7zM-3.85 1.35h7.7a1.35 1.35 0 0 1 0 2.7h-7.7a1.35 1.35 0 0 1 0 -2.7z"/></g>
<g transform="translate(960.9 540.1) rotate(-45)"><text x="-65.9" y="3.6">KVZR.RU</text><path transform="translate(.12 .3)" d="M-5.4 -6.75H6.2M-5.5 -7.15h1M-5.5 -6.35h1M-6.2 6.75H5.4M4.5 6.35h1M4.5 7.15h1M-3.85 -4.05h7.7a1.35 1.35 0 0 1 0 2.7h-7.7a1.35 1.35 0 0 1 0 -2.7zM-3.85 1.35h7.7a1.35 1.35 0 0 1 0 2.7h-7.7a1.35 1.35 0 0 1 0 -2.7z"/></g>
<g transform="translate(934.9 632.0) rotate(-45)"><text x="-65.9" y="3.6">KVZR.RU</text><path transform="translate(.12 .3)" d="M-5.4 -6.75H6.2M-5.5 -7.15h1M-5.5 -6.35h1M-6.2 6.75H5.4M4.5 6.35h1M4.5 7.15h1M-3.85 -4.05h7.7a1.35 1.35 0 0 1 0 2.7h-7.7a1.35 1.35 0 0 1 0 -2.7zM-3.85 1.35h7.7a1.35 1.35 0 0 1 0 2.7h-7.7a1.35 1.35 0 0 1 0 -2.7z"/></g>
<g transform="translate(909.0 724.0) rotate(-45)"><text x="-65.9" y="3.6">KVZR.RU</text><path transform="translate(.12 .3)" d="M-5.4 -6.75H6.2M-5.5 -7.15h1M-5.5 -6.35h1M-6.2 6.75H5.4M4.5 6.35h1M4.5 7.15h1M-3.85 -4.05h7.7a1.35 1.35 0 0 1 0 2.7h-7.7a1.35 1.35 0 0 1 0 -2.7zM-3.85 1.35h7.7a1.35 1.35 0 0 1 0 2.7h-7.7a1.35 1.35 0 0 1 0 -2.7z"/></g>
<g transform="translate(883.1 816.0) rotate(-45)"><text x="-65.9" y="3.6">KVZR.RU</text><path transform="translate(.12 .3)" d="M-5.4 -6.75H6.2M-5.5 -7.15h1M-5.5 -6.35h1M-6.2 6.75H5.4M4.5 6.35h1M4.5 7.15h1M-3.85 -4.05h7.7a1.35 1.35 0 0 1 0 2.7h-7.7a1.35 1.35 0 0 1 0 -2.7zM-3.85 1.35h7.7a1.35 1.35 0 0 1 0 2.7h-7.7a1.35 1.35 0 0 1 0 -2.7z"/></g>
<g transform="translate(857.2 908.0) rotate(-45)"><text x="-65.9" y="3.6">KVZR.RU</text><path transform="translate(.12 .3)" d="M-5.4 -6.75H6.2M-5.5 -7.15h1M-5.5 -6.35h1M-6.2 6.75H5.4M4.5 6.35h1M4.5 7.15h1M-3.85 -4.05h7.7a1.35 1.35 0 0 1 0 2.7h-7.7a1.35 1.35 0 0 1 0 -2.7zM-3.85 1.35h7.7a1.35 1.35 0 0 1 0 2.7h-7.7a1.35 1.35 0 0 1 0 -2.7z"/></g>
<g transform="translate(831.3 1000.0) rotate(-45)"><text x="-65.9" y="3.6">KVZR.RU</text><path transform="translate(.12 .3)" d="M-5.4 -6.75H6.2M-5.5 -7.15h1M-5.5 -6.35h1M-6.2 6.75H5.4M4.5 6.35h1M4.5 7.15h1M-3.85 -4.05h7.7a1.35 1.35 0 0 1 0 2.7h-7.7a1.35 1.35 0 0 1 0 -2.7zM-3.85 1.35h7.7a1.35 1.35 0 0 1 0 2.7h-7.7a1.35 1.35 0 0 1 0 -2.7z"/></g>
<g transform="translate(805.4 1092.0) rotate(-45)"><text x="-65.9" y="3.6">KVZR.RU</text><path transform="translate(.12 .3)" d="M-5.4 -6.75H6.2M-5.5 -7.15h1M-5.5 -6.35h1M-6.2 6.75H5.4M4.5 6.35h1M4.5 7.15h1M-3.85 -4.05h7.7a1.35 1.35 0 0 1 0 2.7h-7.7a1.35 1.35 0 0 1 0 -2.7zM-3.85 1.35h7.7a1.35 1.35 0 0 1 0 2.7h-7.7a1.35 1.35 0 0 1 0 -2.7z"/></g>
<g transform="translate(779.4 1183.9) rotate(-45)"><text x="-65.9" y="3.6">KVZR.RU</text><path transform="translate(.12 .3)" d="M-5.4 -6.75H6.2M-5.5 -7.15h1M-5.5 -6.35h1M-6.2 6.75H5.4M4.5 6.35h1M4.5 7.15h1M-3.85 -4.05h7.7a1.35 1.35 0 0 1 0 2.7h-7.7a1.35 1.35 0 0 1 0 -2.7zM-3.85 1.35h7.7a1.35 1.35 0 0 1 0 2.7h-7.7a1.35 1.35 0 0 1 0 -2.7z"/></g>
<g transform="translate(753.5 1275.9) rotate(-45)"><text x="-65.9" y="3.6">KVZR.RU</text><path transform="translate(.12 .3)" d="M-5.4 -6.75H6.2M-5.5 -7.15h1M-5.5 -6.35h1M-6.2 6.75H5.4M4.5 6.35h1M4.5 7.15h1M-3.85 -4.05h7.7a1.35 1.35 0 0 1 0 2.7h-7.7a1.35 1.35 0 0 1 0 -2.7zM-3.85 1.35h7.7a1.35 1.35 0 0 1 0 2.7h-7.7a1.35 1.35 0 0 1 0 -2.7z"/></g>
<g transform="translate(1208.3 -37.8) rotate(-45)"><text x="-65.9" y="3.6">KVZR.RU</text><path transform="translate(.12 .3)" d="M-5.4 -6.75H6.2M-5.5 -7.15h1M-5.5 -6.35h1M-6.2 6.75H5.4M4.5 6.35h1M4.5 7.15h1M-3.85 -4.05h7.7a1.35 1.35 0 0 1 0 2.7h-7.7a1.35 1.35 0 0 1 0 -2.7zM-3.85 1.35h7.7a1.35 1.35 0 0 1 0 2.7h-7.7a1.35 1.35 0 0 1 0 -2.7z"/></g>
<g transform="translate(1182.4 54.2) rotate(-45)"><text x="-65.9" y="3.6">KVZR.RU</text><path transform="translate(.12 .3)" d="M-5.4 -6.75H6.2M-5.5 -7.15h1M-5.5 -6.35h1M-6.2 6.75H5.4M4.5 6.35h1M4.5 7.15h1M-3.85 -4.05h7.7a1.35 1.35 0 0 1 0 2.7h-7.7a1.35 1.35 0 0 1 0 -2.7zM-3.85 1.35h7.7a1.35 1.35 0 0 1 0 2.7h-7.7a1.35 1.35 0 0 1 0 -2.7z"/></g>
<g transform="translate(1156.5 146.2) rotate(-45)"><text x="-65.9" y="3.6">KVZR.RU</text><path transform="translate(.12 .3)" d="M-5.4 -6.75H6.2M-5.5 -7.15h1M-5.5 -6.35h1M-6.2 6.75H5.4M4.5 6.35h1M4.5 7.15h1M-3.85 -4.05h7.7a1.35 1.35 0 0 1 0 2.7h-7.7a1.35 1.35 0 0 1 0 -2.7zM-3.85 1.35h7.7a1.35 1.35 0 0 1 0 2.7h-7.7a1.35 1.35 0 0 1 0 -2.7z"/></g>
<g transform="translate(1130.6 238.2) rotate(-45)"><text x="-65.9" y="3.6">KVZR.RU</text><path transform="translate(.12 .3)" d="M-5.4 -6.75H6.2M-5.5 -7.15h1M-5.5 -6.35h1M-6.2 6.75H5.4M4.5 6.35h1M4.5 7.15h1M-3.85 -4.05h7.7a1.35 1.35 0 0 1 0 2.7h-7.7a1.35 1.35 0 0 1 0 -2.7zM-3.85 1.35h7.7a1.35 1.35 0 0 1 0 2.7h-7.7a1.35 1.35 0 0 1 0 -2.7z"/></g>
<g transform="translate(1104.7 330.2) rotate(-45)"><text x="-65.9" y="3.6">KVZR.RU</text><path transform="translate(.12 .3)" d="M-5.4 -6.75H6.2M-5.5 -7.15h1M-5.5 -6.35h1M-6.2 6.75H5.4M4.5 6.35h1M4.5 7.15h1M-3.85 -4.05h7.7a1.35 1.35 0 0 1 0 2.7h-7.7a1.35 1.35 0 0 1 0 -2.7zM-3.85 1.35h7.7a1.35 1.35 0 0 1 0 2.7h-7.7a1.35 1.35 0 0 1 0 -2.7z"/></g>
<g transform="translate(1078.7 422.2) rotate(-45)"><text x="-65.9" y="3.6">KVZR.RU</text><path transform="translate(.12 .3)" d="M-5.4 -6.75H6.2M-5.5 -7.15h1M-5.5 -6.35h1M-6.2 6.75H5.4M4.5 6.35h1M4.5 7.15h1M-3.85 -4.05h7.7a1.35 1.35 0 0 1 0 2.7h-7.7a1.35 1.35 0 0 1 0 -2.7zM-3.85 1.35h7.7a1.35 1.35 0 0 1 0 2.7h-7.7a1.35 1.35 0 0 1 0 -2.7z"/></g>
<g transform="translate(1052.8 514.1) rotate(-45)"><text x="-65.9" y="3.6">KVZR.RU</text><path transform="translate(.12 .3)" d="M-5.4 -6.75H6.2M-5.5 -7.15h1M-5.5 -6.35h1M-6.2 6.75H5.4M4.5 6.35h1M4.5 7.15h1M-3.85 -4.05h7.7a1.35 1.35 0 0 1 0 2.7h-7.7a1.35 1.35 0 0 1 0 -2.7zM-3.85 1.35h7.7a1.35 1.35 0 0 1 0 2.7h-7.7a1.35 1.35 0 0 1 0 -2.7z"/></g>
<g transform="translate(1026.9 606.1) rotate(-45)"><text x="-65.9" y="3.6">KVZR.RU</text><path transform="translate(.12 .3)" d="M-5.4 -6.75H6.2M-5.5 -7.15h1M-5.5 -6.35h1M-6.2 6.75H5.4M4.5 6.35h1M4.5 7.15h1M-3.85 -4.05h7.7a1.35 1.35 0 0 1 0 2.7h-7.7a1.35 1.35 0 0 1 0 -2.7zM-3.85 1.35h7.7a1.35 1.35 0 0 1 0 2.7h-7.7a1.35 1.35 0 0 1 0 -2.7z"/></g>
<g transform="translate(1001.0 698.1) rotate(-45)"><text x="-65.9" y="3.6">KVZR.RU</text><path transform="translate(.12 .3)" d="M-5.4 -6.75H6.2M-5.5 -7.15h1M-5.5 -6.35h1M-6.2 6.75H5.4M4.5 6.35h1M4.5 7.15h1M-3.85 -4.05h7.7a1.35 1.35 0 0 1 0 2.7h-7.7a1.35 1.35 0 0 1 0 -2.7zM-3.85 1.35h7.7a1.35 1.35 0 0 1 0 2.7h-7.7a1.35 1.35 0 0 1 0 -2.7z"/></g>
<g transform="translate(975.1 790.1) rotate(-45)"><text x="-65.9" y="3.6">KVZR.RU</text><path transform="translate(.12 .3)" d="M-5.4 -6.75H6.2M-5.5 -7.15h1M-5.5 -6.35h1M-6.2 6.75H5.4M4.5 6.35h1M4.5 7.15h1M-3.85 -4.05h7.7a1.35 1.35 0 0 1 0 2.7h-7.7a1.35 1.35 0 0 1 0 -2.7zM-3.85 1.35h7.7a1.35 1.35 0 0 1 0 2.7h-7.7a1.35 1.35 0 0 1 0 -2.7z"/></g>
<g transform="translate(949.2 882.1) rotate(-45)"><text x="-65.9" y="3.6">KVZR.RU</text><path transform="translate(.12 .3)" d="M-5.4 -6.75H6.2M-5.5 -7.15h1M-5.5 -6.35h1M-6.2 6.75H5.4M4.5 6.35h1M4.5 7.15h1M-3.85 -4.05h7.7a1.35 1.35 0 0 1 0 2.7h-7.7a1.35 1.35 0 0 1 0 -2.7zM-3.85 1.35h7.7a1.35 1.35 0 0 1 0 2.7h-7.7a1.35 1.35 0 0 1 0 -2.7z"/></g>
<g transform="translate(923.2 974.1) rotate(-45)"><text x="-65.9" y="3.6">KVZR.RU</text><path transform="translate(.12 .3)" d="M-5.4 -6.75H6.2M-5.5 -7.15h1M-5.5 -6.35h1M-6.2 6.75H5.4M4.5 6.35h1M4.5 7.15h1M-3.85 -4.05h7.7a1.35 1.35 0 0 1 0 2.7h-7.7a1.35 1.35 0 0 1 0 -2.7zM-3.85 1.35h7.7a1.35 1.35 0 0 1 0 2.7h-7.7a1.35 1.35 0 0 1 0 -2.7z"/></g>
<g transform="translate(897.3 1066.0) rotate(-45)"><text x="-65.9" y="3.6">KVZR.RU</text><path transform="translate(.12 .3)" d="M-5.4 -6.75H6.2M-5.5 -7.15h1M-5.5 -6.35h1M-6.2 6.75H5.4M4.5 6.35h1M4.5 7.15h1M-3.85 -4.05h7.7a1.35 1.35 0 0 1 0 2.7h-7.7a1.35 1.35 0 0 1 0 -2.7zM-3.85 1.35h7.7a1.35 1.35 0 0 1 0 2.7h-7.7a1.35 1.35 0 0 1 0 -2.7z"/></g>
<g transform="translate(871.4 1158.0) rotate(-45)"><text x="-65.9" y="3.6">KVZR.RU</text><path transform="translate(.12 .3)" d="M-5.4 -6.75H6.2M-5.5 -7.15h1M-5.5 -6.35h1M-6.2 6.75H5.4M4.5 6.35h1M4.5 7.15h1M-3.85 -4.05h7.7a1.35 1.35 0 0 1 0 2.7h-7.7a1.35 1.35 0 0 1 0 -2.7zM-3.85 1.35h7.7a1.35 1.35 0 0 1 0 2.7h-7.7a1.35 1.35 0 0 1 0 -2.7z"/></g>
<g transform="translate(845.5 1250.0) rotate(-45)"><text x="-65.9" y="3.6">KVZR.RU</text><path transform="translate(.12 .3)" d="M-5.4 -6.75H6.2M-5.5 -7.15h1M-5.5 -6.35h1M-6.2 6.75H5.4M4.5 6.35h1M4.5 7.15h1M-3.85 -4.05h7.7a1.35 1.35 0 0 1 0 2.7h-7.7a1.35 1.35 0 0 1 0 -2.7zM-3.85 1.35h7.7a1.35 1.35 0 0 1 0 2.7h-7.7a1.35 1.35 0 0 1 0 -2.7z"/></g>
<g transform="translate(1300.3 -63.7) rotate(-45)"><text x="-65.9" y="3.6">KVZR.RU</text><path transform="translate(.12 .3)" d="M-5.4 -6.75H6.2M-5.5 -7.15h1M-5.5 -6.35h1M-6.2 6.75H5.4M4.5 6.35h1M4.5 7.15h1M-3.85 -4.05h7.7a1.35 1.35 0 0 1 0 2.7h-7.7a1.35 1.35 0 0 1 0 -2.7zM-3.85 1.35h7.7a1.35 1.35 0 0 1 0 2.7h-7.7a1.35 1.35 0 0 1 0 -2.7z"/></g>
<g transform="translate(1274.4 28.3) rotate(-45)"><text x="-65.9" y="3.6">KVZR.RU</text><path transform="translate(.12 .3)" d="M-5.4 -6.75H6.2M-5.5 -7.15h1M-5.5 -6.35h1M-6.2 6.75H5.4M4.5 6.35h1M4.5 7.15h1M-3.85 -4.05h7.7a1.35 1.35 0 0 1 0 2.7h-7.7a1.35 1.35 0 0 1 0 -2.7zM-3.85 1.35h7.7a1.35 1.35 0 0 1 0 2.7h-7.7a1.35 1.35 0 0 1 0 -2.7z"/></g>
<g transform="translate(1248.5 120.3) rotate(-45)"><text x="-65.9" y="3.6">KVZR.RU</text><path transform="translate(.12 .3)" d="M-5.4 -6.75H6.2M-5.5 -7.15h1M-5.5 -6.35h1M-6.2 6.75H5.4M4.5 6.35h1M4.5 7.15h1M-3.85 -4.05h7.7a1.35 1.35 0 0 1 0 2.7h-7.7a1.35 1.35 0 0 1 0 -2.7zM-3.85 1.35h7.7a1.35 1.35 0 0 1 0 2.7h-7.7a1.35 1.35 0 0 1 0 -2.7z"/></g>
<g transform="translate(1222.5 212.3) rotate(-45)"><text x="-65.9" y="3.6">KVZR.RU</text><path transform="translate(.12 .3)" d="M-5.4 -6.75H6.2M-5.5 -7.15h1M-5.5 -6.35h1M-6.2 6.75H5.4M4.5 6.35h1M4.5 7.15h1M-3.85 -4.05h7.7a1.35 1.35 0 0 1 0 2.7h-7.7a1.35 1.35 0 0 1 0 -2.7zM-3.85 1.35h7.7a1.35 1.35 0 0 1 0 2.7h-7.7a1.35 1.35 0 0 1 0 -2.7z"/></g>
<g transform="translate(1196.6 304.2) rotate(-45)"><text x="-65.9" y="3.6">KVZR.RU</text><path transform="translate(.12 .3)" d="M-5.4 -6.75H6.2M-5.5 -7.15h1M-5.5 -6.35h1M-6.2 6.75H5.4M4.5 6.35h1M4.5 7.15h1M-3.85 -4.05h7.7a1.35 1.35 0 0 1 0 2.7h-7.7a1.35 1.35 0 0 1 0 -2.7zM-3.85 1.35h7.7a1.35 1.35 0 0 1 0 2.7h-7.7a1.35 1.35 0 0 1 0 -2.7z"/></g>
<g transform="translate(1170.7 396.2) rotate(-45)"><text x="-65.9" y="3.6">KVZR.RU</text><path transform="translate(.12 .3)" d="M-5.4 -6.75H6.2M-5.5 -7.15h1M-5.5 -6.35h1M-6.2 6.75H5.4M4.5 6.35h1M4.5 7.15h1M-3.85 -4.05h7.7a1.35 1.35 0 0 1 0 2.7h-7.7a1.35 1.35 0 0 1 0 -2.7zM-3.85 1.35h7.7a1.35 1.35 0 0 1 0 2.7h-7.7a1.35 1.35 0 0 1 0 -2.7z"/></g>
<g transform="translate(1144.8 488.2) rotate(-45)"><text x="-65.9" y="3.6">KVZR.RU</text><path transform="translate(.12 .3)" d="M-5.4 -6.75H6.2M-5.5 -7.15h1M-5.5 -6.35h1M-6.2 6.75H5.4M4.5 6.35h1M4.5 7.15h1M-3.85 -4.05h7.7a1.35 1.35 0 0 1 0 2.7h-7.7a1.35 1.35 0 0 1 0 -2.7zM-3.85 1.35h7.7a1.35 1.35 0 0 1 0 2.7h-7.7a1.35 1.35 0 0 1 0 -2.7z"/></g>
<g transform="translate(1118.9 580.2) rotate(-45)"><text x="-65.9" y="3.6">KVZR.RU</text><path transform="translate(.12 .3)" d="M-5.4 -6.75H6.2M-5.5 -7.15h1M-5.5 -6.35h1M-6.2 6.75H5.4M4.5 6.35h1M4.5 7.15h1M-3.85 -4.05h7.7a1.35 1.35 0 0 1 0 2.7h-7.7a1.35 1.35 0 0 1 0 -2.7zM-3.85 1.35h7.7a1.35 1.35 0 0 1 0 2.7h-7.7a1.35 1.35 0 0 1 0 -2.7z"/></g>
<g transform="translate(1093.0 672.2) rotate(-45)"><text x="-65.9" y="3.6">KVZR.RU</text><path transform="translate(.12 .3)" d="M-5.4 -6.75H6.2M-5.5 -7.15h1M-5.5 -6.35h1M-6.2 6.75H5.4M4.5 6.35h1M4.5 7.15h1M-3.85 -4.05h7.7a1.35 1.35 0 0 1 0 2.7h-7.7a1.35 1.35 0 0 1 0 -2.7zM-3.85 1.35h7.7a1.35 1.35 0 0 1 0 2.7h-7.7a1.35 1.35 0 0 1 0 -2.7z"/></g>
<g transform="translate(1067.0 764.2) rotate(-45)"><text x="-65.9" y="3.6">KVZR.RU</text><path transform="translate(.12 .3)" d="M-5.4 -6.75H6.2M-5.5 -7.15h1M-5.5 -6.35h1M-6.2 6.75H5.4M4.5 6.35h1M4.5 7.15h1M-3.85 -4.05h7.7a1.35 1.35 0 0 1 0 2.7h-7.7a1.35 1.35 0 0 1 0 -2.7zM-3.85 1.35h7.7a1.35 1.35 0 0 1 0 2.7h-7.7a1.35 1.35 0 0 1 0 -2.7z"/></g>
<g transform="translate(1041.1 856.1) rotate(-45)"><text x="-65.9" y="3.6">KVZR.RU</text><path transform="translate(.12 .3)" d="M-5.4 -6.75H6.2M-5.5 -7.15h1M-5.5 -6.35h1M-6.2 6.75H5.4M4.5 6.35h1M4.5 7.15h1M-3.85 -4.05h7.7a1.35 1.35 0 0 1 0 2.7h-7.7a1.35 1.35 0 0 1 0 -2.7zM-3.85 1.35h7.7a1.35 1.35 0 0 1 0 2.7h-7.7a1.35 1.35 0 0 1 0 -2.7z"/></g>
<g transform="translate(1015.2 948.1) rotate(-45)"><text x="-65.9" y="3.6">KVZR.RU</text><path transform="translate(.12 .3)" d="M-5.4 -6.75H6.2M-5.5 -7.15h1M-5.5 -6.35h1M-6.2 6.75H5.4M4.5 6.35h1M4.5 7.15h1M-3.85 -4.05h7.7a1.35 1.35 0 0 1 0 2.7h-7.7a1.35 1.35 0 0 1 0 -2.7zM-3.85 1.35h7.7a1.35 1.35 0 0 1 0 2.7h-7.7a1.35 1.35 0 0 1 0 -2.7z"/></g>
<g transform="translate(989.3 1040.1) rotate(-45)"><text x="-65.9" y="3.6">KVZR.RU</text><path transform="translate(.12 .3)" d="M-5.4 -6.75H6.2M-5.5 -7.15h1M-5.5 -6.35h1M-6.2 6.75H5.4M4.5 6.35h1M4.5 7.15h1M-3.85 -4.05h7.7a1.35 1.35 0 0 1 0 2.7h-7.7a1.35 1.35 0 0 1 0 -2.7zM-3.85 1.35h7.7a1.35 1.35 0 0 1 0 2.7h-7.7a1.35 1.35 0 0 1 0 -2.7z"/></g>
<g transform="translate(963.4 1132.1) rotate(-45)"><text x="-65.9" y="3.6">KVZR.RU</text><path transform="translate(.12 .3)" d="M-5.4 -6.75H6.2M-5.5 -7.15h1M-5.5 -6.35h1M-6.2 6.75H5.4M4.5 6.35h1M4.5 7.15h1M-3.85 -4.05h7.7a1.35 1.35 0 0 1 0 2.7h-7.7a1.35 1.35 0 0 1 0 -2.7zM-3.85 1.35h7.7a1.35 1.35 0 0 1 0 2.7h-7.7a1.35 1.35 0 0 1 0 -2.7z"/></g>
<g transform="translate(937.5 1224.1) rotate(-45)"><text x="-65.9" y="3.6">KVZR.RU</text><path transform="translate(.12 .3)" d="M-5.4 -6.75H6.2M-5.5 -7.15h1M-5.5 -6.35h1M-6.2 6.75H5.4M4.5 6.35h1M4.5 7.15h1M-3.85 -4.05h7.7a1.35 1.35 0 0 1 0 2.7h-7.7a1.35 1.35 0 0 1 0 -2.7zM-3.85 1.35h7.7a1.35 1.35 0 0 1 0 2.7h-7.7a1.35 1.35 0 0 1 0 -2.7z"/></g>
<g transform="translate(1366.3 2.4) rotate(-45)"><text x="-65.9" y="3.6">KVZR.RU</text><path transform="translate(.12 .3)" d="M-5.4 -6.75H6.2M-5.5 -7.15h1M-5.5 -6.35h1M-6.2 6.75H5.4M4.5 6.35h1M4.5 7.15h1M-3.85 -4.05h7.7a1.35 1.35 0 0 1 0 2.7h-7.7a1.35 1.35 0 0 1 0 -2.7zM-3.85 1.35h7.7a1.35 1.35 0 0 1 0 2.7h-7.7a1.35 1.35 0 0 1 0 -2.7z"/></g>
<g transform="translate(1340.4 94.4) rotate(-45)"><text x="-65.9" y="3.6">KVZR.RU</text><path transform="translate(.12 .3)" d="M-5.4 -6.75H6.2M-5.5 -7.15h1M-5.5 -6.35h1M-6.2 6.75H5.4M4.5 6.35h1M4.5 7.15h1M-3.85 -4.05h7.7a1.35 1.35 0 0 1 0 2.7h-7.7a1.35 1.35 0 0 1 0 -2.7zM-3.85 1.35h7.7a1.35 1.35 0 0 1 0 2.7h-7.7a1.35 1.35 0 0 1 0 -2.7z"/></g>
<g transform="translate(1314.5 186.3) rotate(-45)"><text x="-65.9" y="3.6">KVZR.RU</text><path transform="translate(.12 .3)" d="M-5.4 -6.75H6.2M-5.5 -7.15h1M-5.5 -6.35h1M-6.2 6.75H5.4M4.5 6.35h1M4.5 7.15h1M-3.85 -4.05h7.7a1.35 1.35 0 0 1 0 2.7h-7.7a1.35 1.35 0 0 1 0 -2.7zM-3.85 1.35h7.7a1.35 1.35 0 0 1 0 2.7h-7.7a1.35 1.35 0 0 1 0 -2.7z"/></g>
<g transform="translate(1288.6 278.3) rotate(-45)"><text x="-65.9" y="3.6">KVZR.RU</text><path transform="translate(.12 .3)" d="M-5.4 -6.75H6.2M-5.5 -7.15h1M-5.5 -6.35h1M-6.2 6.75H5.4M4.5 6.35h1M4.5 7.15h1M-3.85 -4.05h7.7a1.35 1.35 0 0 1 0 2.7h-7.7a1.35 1.35 0 0 1 0 -2.7zM-3.85 1.35h7.7a1.35 1.35 0 0 1 0 2.7h-7.7a1.35 1.35 0 0 1 0 -2.7z"/></g>
<g transform="translate(1262.7 370.3) rotate(-45)"><text x="-65.9" y="3.6">KVZR.RU</text><path transform="translate(.12 .3)" d="M-5.4 -6.75H6.2M-5.5 -7.15h1M-5.5 -6.35h1M-6.2 6.75H5.4M4.5 6.35h1M4.5 7.15h1M-3.85 -4.05h7.7a1.35 1.35 0 0 1 0 2.7h-7.7a1.35 1.35 0 0 1 0 -2.7zM-3.85 1.35h7.7a1.35 1.35 0 0 1 0 2.7h-7.7a1.35 1.35 0 0 1 0 -2.7z"/></g>
<g transform="translate(1236.7 462.3) rotate(-45)"><text x="-65.9" y="3.6">KVZR.RU</text><path transform="translate(.12 .3)" d="M-5.4 -6.75H6.2M-5.5 -7.15h1M-5.5 -6.35h1M-6.2 6.75H5.4M4.5 6.35h1M4.5 7.15h1M-3.85 -4.05h7.7a1.35 1.35 0 0 1 0 2.7h-7.7a1.35 1.35 0 0 1 0 -2.7zM-3.85 1.35h7.7a1.35 1.35 0 0 1 0 2.7h-7.7a1.35 1.35 0 0 1 0 -2.7z"/></g>
<g transform="translate(1210.8 554.3) rotate(-45)"><text x="-65.9" y="3.6">KVZR.RU</text><path transform="translate(.12 .3)" d="M-5.4 -6.75H6.2M-5.5 -7.15h1M-5.5 -6.35h1M-6.2 6.75H5.4M4.5 6.35h1M4.5 7.15h1M-3.85 -4.05h7.7a1.35 1.35 0 0 1 0 2.7h-7.7a1.35 1.35 0 0 1 0 -2.7zM-3.85 1.35h7.7a1.35 1.35 0 0 1 0 2.7h-7.7a1.35 1.35 0 0 1 0 -2.7z"/></g>
<g transform="translate(1184.9 646.3) rotate(-45)"><text x="-65.9" y="3.6">KVZR.RU</text><path transform="translate(.12 .3)" d="M-5.4 -6.75H6.2M-5.5 -7.15h1M-5.5 -6.35h1M-6.2 6.75H5.4M4.5 6.35h1M4.5 7.15h1M-3.85 -4.05h7.7a1.35 1.35 0 0 1 0 2.7h-7.7a1.35 1.35 0 0 1 0 -2.7zM-3.85 1.35h7.7a1.35 1.35 0 0 1 0 2.7h-7.7a1.35 1.35 0 0 1 0 -2.7z"/></g>
<g transform="translate(1159.0 738.2) rotate(-45)"><text x="-65.9" y="3.6">KVZR.RU</text><path transform="translate(.12 .3)" d="M-5.4 -6.75H6.2M-5.5 -7.15h1M-5.5 -6.35h1M-6.2 6.75H5.4M4.5 6.35h1M4.5 7.15h1M-3.85 -4.05h7.7a1.35 1.35 0 0 1 0 2.7h-7.7a1.35 1.35 0 0 1 0 -2.7zM-3.85 1.35h7.7a1.35 1.35 0 0 1 0 2.7h-7.7a1.35 1.35 0 0 1 0 -2.7z"/></g>
<g transform="translate(1133.1 830.2) rotate(-45)"><text x="-65.9" y="3.6">KVZR.RU</text><path transform="translate(.12 .3)" d="M-5.4 -6.75H6.2M-5.5 -7.15h1M-5.5 -6.35h1M-6.2 6.75H5.4M4.5 6.35h1M4.5 7.15h1M-3.85 -4.05h7.7a1.35 1.35 0 0 1 0 2.7h-7.7a1.35 1.35 0 0 1 0 -2.7zM-3.85 1.35h7.7a1.35 1.35 0 0 1 0 2.7h-7.7a1.35 1.35 0 0 1 0 -2.7z"/></g>
<g transform="translate(1107.2 922.2) rotate(-45)"><text x="-65.9" y="3.6">KVZR.RU</text><path transform="translate(.12 .3)" d="M-5.4 -6.75H6.2M-5.5 -7.15h1M-5.5 -6.35h1M-6.2 6.75H5.4M4.5 6.35h1M4.5 7.15h1M-3.85 -4.05h7.7a1.35 1.35 0 0 1 0 2.7h-7.7a1.35 1.35 0 0 1 0 -2.7zM-3.85 1.35h7.7a1.35 1.35 0 0 1 0 2.7h-7.7a1.35 1.35 0 0 1 0 -2.7z"/></g>
<g transform="translate(1081.2 1014.2) rotate(-45)"><text x="-65.9" y="3.6">KVZR.RU</text><path transform="translate(.12 .3)" d="M-5.4 -6.75H6.2M-5.5 -7.15h1M-5.5 -6.35h1M-6.2 6.75H5.4M4.5 6.35h1M4.5 7.15h1M-3.85 -4.05h7.7a1.35 1.35 0 0 1 0 2.7h-7.7a1.35 1.35 0 0 1 0 -2.7zM-3.85 1.35h7.7a1.35 1.35 0 0 1 0 2.7h-7.7a1.35 1.35 0 0 1 0 -2.7z"/></g>
<g transform="translate(1055.3 1106.2) rotate(-45)"><text x="-65.9" y="3.6">KVZR.RU</text><path transform="translate(.12 .3)" d="M-5.4 -6.75H6.2M-5.5 -7.15h1M-5.5 -6.35h1M-6.2 6.75H5.4M4.5 6.35h1M4.5 7.15h1M-3.85 -4.05h7.7a1.35 1.35 0 0 1 0 2.7h-7.7a1.35 1.35 0 0 1 0 -2.7zM-3.85 1.35h7.7a1.35 1.35 0 0 1 0 2.7h-7.7a1.35 1.35 0 0 1 0 -2.7z"/></g>
<g transform="translate(1029.4 1198.2) rotate(-45)"><text x="-65.9" y="3.6">KVZR.RU</text><path transform="translate(.12 .3)" d="M-5.4 -6.75H6.2M-5.5 -7.15h1M-5.5 -6.35h1M-6.2 6.75H5.4M4.5 6.35h1M4.5 7.15h1M-3.85 -4.05h7.7a1.35 1.35 0 0 1 0 2.7h-7.7a1.35 1.35 0 0 1 0 -2.7zM-3.85 1.35h7.7a1.35 1.35 0 0 1 0 2.7h-7.7a1.35 1.35 0 0 1 0 -2.7z"/></g>
<g transform="translate(1458.3 -23.6) rotate(-45)"><text x="-65.9" y="3.6">KVZR.RU</text><path transform="translate(.12 .3)" d="M-5.4 -6.75H6.2M-5.5 -7.15h1M-5.5 -6.35h1M-6.2 6.75H5.4M4.5 6.35h1M4.5 7.15h1M-3.85 -4.05h7.7a1.35 1.35 0 0 1 0 2.7h-7.7a1.35 1.35 0 0 1 0 -2.7zM-3.85 1.35h7.7a1.35 1.35 0 0 1 0 2.7h-7.7a1.35 1.35 0 0 1 0 -2.7z"/></g>
<g transform="translate(1432.4 68.4) rotate(-45)"><text x="-65.9" y="3.6">KVZR.RU</text><path transform="translate(.12 .3)" d="M-5.4 -6.75H6.2M-5.5 -7.15h1M-5.5 -6.35h1M-6.2 6.75H5.4M4.5 6.35h1M4.5 7.15h1M-3.85 -4.05h7.7a1.35 1.35 0 0 1 0 2.7h-7.7a1.35 1.35 0 0 1 0 -2.7zM-3.85 1.35h7.7a1.35 1.35 0 0 1 0 2.7h-7.7a1.35 1.35 0 0 1 0 -2.7z"/></g>
<g transform="translate(1406.5 160.4) rotate(-45)"><text x="-65.9" y="3.6">KVZR.RU</text><path transform="translate(.12 .3)" d="M-5.4 -6.75H6.2M-5.5 -7.15h1M-5.5 -6.35h1M-6.2 6.75H5.4M4.5 6.35h1M4.5 7.15h1M-3.85 -4.05h7.7a1.35 1.35 0 0 1 0 2.7h-7.7a1.35 1.35 0 0 1 0 -2.7zM-3.85 1.35h7.7a1.35 1.35 0 0 1 0 2.7h-7.7a1.35 1.35 0 0 1 0 -2.7z"/></g>
<g transform="translate(1380.5 252.4) rotate(-45)"><text x="-65.9" y="3.6">KVZR.RU</text><path transform="translate(.12 .3)" d="M-5.4 -6.75H6.2M-5.5 -7.15h1M-5.5 -6.35h1M-6.2 6.75H5.4M4.5 6.35h1M4.5 7.15h1M-3.85 -4.05h7.7a1.35 1.35 0 0 1 0 2.7h-7.7a1.35 1.35 0 0 1 0 -2.7zM-3.85 1.35h7.7a1.35 1.35 0 0 1 0 2.7h-7.7a1.35 1.35 0 0 1 0 -2.7z"/></g>
<g transform="translate(1354.6 344.4) rotate(-45)"><text x="-65.9" y="3.6">KVZR.RU</text><path transform="translate(.12 .3)" d="M-5.4 -6.75H6.2M-5.5 -7.15h1M-5.5 -6.35h1M-6.2 6.75H5.4M4.5 6.35h1M4.5 7.15h1M-3.85 -4.05h7.7a1.35 1.35 0 0 1 0 2.7h-7.7a1.35 1.35 0 0 1 0 -2.7zM-3.85 1.35h7.7a1.35 1.35 0 0 1 0 2.7h-7.7a1.35 1.35 0 0 1 0 -2.7z"/></g>
<g transform="translate(1328.7 436.4) rotate(-45)"><text x="-65.9" y="3.6">KVZR.RU</text><path transform="translate(.12 .3)" d="M-5.4 -6.75H6.2M-5.5 -7.15h1M-5.5 -6.35h1M-6.2 6.75H5.4M4.5 6.35h1M4.5 7.15h1M-3.85 -4.05h7.7a1.35 1.35 0 0 1 0 2.7h-7.7a1.35 1.35 0 0 1 0 -2.7zM-3.85 1.35h7.7a1.35 1.35 0 0 1 0 2.7h-7.7a1.35 1.35 0 0 1 0 -2.7z"/></g>
<g transform="translate(1302.8 528.3) rotate(-45)"><text x="-65.9" y="3.6">KVZR.RU</text><path transform="translate(.12 .3)" d="M-5.4 -6.75H6.2M-5.5 -7.15h1M-5.5 -6.35h1M-6.2 6.75H5.4M4.5 6.35h1M4.5 7.15h1M-3.85 -4.05h7.7a1.35 1.35 0 0 1 0 2.7h-7.7a1.35 1.35 0 0 1 0 -2.7zM-3.85 1.35h7.7a1.35 1.35 0 0 1 0 2.7h-7.7a1.35 1.35 0 0 1 0 -2.7z"/></g>
<g transform="translate(1276.9 620.3) rotate(-45)"><text x="-65.9" y="3.6">KVZR.RU</text><path transform="translate(.12 .3)" d="M-5.4 -6.75H6.2M-5.5 -7.15h1M-5.5 -6.35h1M-6.2 6.75H5.4M4.5 6.35h1M4.5 7.15h1M-3.85 -4.05h7.7a1.35 1.35 0 0 1 0 2.7h-7.7a1.35 1.35 0 0 1 0 -2.7zM-3.85 1.35h7.7a1.35 1.35 0 0 1 0 2.7h-7.7a1.35 1.35 0 0 1 0 -2.7z"/></g>
<g transform="translate(1251.0 712.3) rotate(-45)"><text x="-65.9" y="3.6">KVZR.RU</text><path transform="translate(.12 .3)" d="M-5.4 -6.75H6.2M-5.5 -7.15h1M-5.5 -6.35h1M-6.2 6.75H5.4M4.5 6.35h1M4.5 7.15h1M-3.85 -4.05h7.7a1.35 1.35 0 0 1 0 2.7h-7.7a1.35 1.35 0 0 1 0 -2.7zM-3.85 1.35h7.7a1.35 1.35 0 0 1 0 2.7h-7.7a1.35 1.35 0 0 1 0 -2.7z"/></g>
<g transform="translate(1225.0 804.3) rotate(-45)"><text x="-65.9" y="3.6">KVZR.RU</text><path transform="translate(.12 .3)" d="M-5.4 -6.75H6.2M-5.5 -7.15h1M-5.5 -6.35h1M-6.2 6.75H5.4M4.5 6.35h1M4.5 7.15h1M-3.85 -4.05h7.7a1.35 1.35 0 0 1 0 2.7h-7.7a1.35 1.35 0 0 1 0 -2.7zM-3.85 1.35h7.7a1.35 1.35 0 0 1 0 2.7h-7.7a1.35 1.35 0 0 1 0 -2.7z"/></g>
<g transform="translate(1199.1 896.3) rotate(-45)"><text x="-65.9" y="3.6">KVZR.RU</text><path transform="translate(.12 .3)" d="M-5.4 -6.75H6.2M-5.5 -7.15h1M-5.5 -6.35h1M-6.2 6.75H5.4M4.5 6.35h1M4.5 7.15h1M-3.85 -4.05h7.7a1.35 1.35 0 0 1 0 2.7h-7.7a1.35 1.35 0 0 1 0 -2.7zM-3.85 1.35h7.7a1.35 1.35 0 0 1 0 2.7h-7.7a1.35 1.35 0 0 1 0 -2.7z"/></g>
<g transform="translate(1173.2 988.3) rotate(-45)"><text x="-65.9" y="3.6">KVZR.RU</text><path transform="translate(.12 .3)" d="M-5.4 -6.75H6.2M-5.5 -7.15h1M-5.5 -6.35h1M-6.2 6.75H5.4M4.5 6.35h1M4.5 7.15h1M-3.85 -4.05h7.7a1.35 1.35 0 0 1 0 2.7h-7.7a1.35 1.35 0 0 1 0 -2.7zM-3.85 1.35h7.7a1.35 1.35 0 0 1 0 2.7h-7.7a1.35 1.35 0 0 1 0 -2.7z"/></g>
<g transform="translate(1147.3 1080.2) rotate(-45)"><text x="-65.9" y="3.6">KVZR.RU</text><path transform="translate(.12 .3)" d="M-5.4 -6.75H6.2M-5.5 -7.15h1M-5.5 -6.35h1M-6.2 6.75H5.4M4.5 6.35h1M4.5 7.15h1M-3.85 -4.05h7.7a1.35 1.35 0 0 1 0 2.7h-7.7a1.35 1.35 0 0 1 0 -2.7zM-3.85 1.35h7.7a1.35 1.35 0 0 1 0 2.7h-7.7a1.35 1.35 0 0 1 0 -2.7z"/></g>
<g transform="translate(1121.4 1172.2) rotate(-45)"><text x="-65.9" y="3.6">KVZR.RU</text><path transform="translate(.12 .3)" d="M-5.4 -6.75H6.2M-5.5 -7.15h1M-5.5 -6.35h1M-6.2 6.75H5.4M4.5 6.35h1M4.5 7.15h1M-3.85 -4.05h7.7a1.35 1.35 0 0 1 0 2.7h-7.7a1.35 1.35 0 0 1 0 -2.7zM-3.85 1.35h7.7a1.35 1.35 0 0 1 0 2.7h-7.7a1.35 1.35 0 0 1 0 -2.7z"/></g>
<g transform="translate(1095.5 1264.2) rotate(-45)"><text x="-65.9" y="3.6">KVZR.RU</text><path transform="translate(.12 .3)" d="M-5.4 -6.75H6.2M-5.5 -7.15h1M-5.5 -6.35h1M-6.2 6.75H5.4M4.5 6.35h1M4.5 7.15h1M-3.85 -4.05h7.7a1.35 1.35 0 0 1 0 2.7h-7.7a1.35 1.35 0 0 1 0 -2.7zM-3.85 1.35h7.7a1.35 1.35 0 0 1 0 2.7h-7.7a1.35 1.35 0 0 1 0 -2.7z"/></g>
<g transform="translate(1550.3 -49.5) rotate(-45)"><text x="-65.9" y="3.6">KVZR.RU</text><path transform="translate(.12 .3)" d="M-5.4 -6.75H6.2M-5.5 -7.15h1M-5.5 -6.35h1M-6.2 6.75H5.4M4.5 6.35h1M4.5 7.15h1M-3.85 -4.05h7.7a1.35 1.35 0 0 1 0 2.7h-7.7a1.35 1.35 0 0 1 0 -2.7zM-3.85 1.35h7.7a1.35 1.35 0 0 1 0 2.7h-7.7a1.35 1.35 0 0 1 0 -2.7z"/></g>
<g transform="translate(1524.3 42.5) rotate(-45)"><text x="-65.9" y="3.6">KVZR.RU</text><path transform="translate(.12 .3)" d="M-5.4 -6.75H6.2M-5.5 -7.15h1M-5.5 -6.35h1M-6.2 6.75H5.4M4.5 6.35h1M4.5 7.15h1M-3.85 -4.05h7.7a1.35 1.35 0 0 1 0 2.7h-7.7a1.35 1.35 0 0 1 0 -2.7zM-3.85 1.35h7.7a1.35 1.35 0 0 1 0 2.7h-7.7a1.35 1.35 0 0 1 0 -2.7z"/></g>
<g transform="translate(1498.4 134.5) rotate(-45)"><text x="-65.9" y="3.6">KVZR.RU</text><path transform="translate(.12 .3)" d="M-5.4 -6.75H6.2M-5.5 -7.15h1M-5.5 -6.35h1M-6.2 6.75H5.4M4.5 6.35h1M4.5 7.15h1M-3.85 -4.05h7.7a1.35 1.35 0 0 1 0 2.7h-7.7a1.35 1.35 0 0 1 0 -2.7zM-3.85 1.35h7.7a1.35 1.35 0 0 1 0 2.7h-7.7a1.35 1.35 0 0 1 0 -2.7z"/></g>
<g transform="translate(1472.5 226.5) rotate(-45)"><text x="-65.9" y="3.6">KVZR.RU</text><path transform="translate(.12 .3)" d="M-5.4 -6.75H6.2M-5.5 -7.15h1M-5.5 -6.35h1M-6.2 6.75H5.4M4.5 6.35h1M4.5 7.15h1M-3.85 -4.05h7.7a1.35 1.35 0 0 1 0 2.7h-7.7a1.35 1.35 0 0 1 0 -2.7zM-3.85 1.35h7.7a1.35 1.35 0 0 1 0 2.7h-7.7a1.35 1.35 0 0 1 0 -2.7z"/></g>
<g transform="translate(1446.6 318.5) rotate(-45)"><text x="-65.9" y="3.6">KVZR.RU</text><path transform="translate(.12 .3)" d="M-5.4 -6.75H6.2M-5.5 -7.15h1M-5.5 -6.35h1M-6.2 6.75H5.4M4.5 6.35h1M4.5 7.15h1M-3.85 -4.05h7.7a1.35 1.35 0 0 1 0 2.7h-7.7a1.35 1.35 0 0 1 0 -2.7zM-3.85 1.35h7.7a1.35 1.35 0 0 1 0 2.7h-7.7a1.35 1.35 0 0 1 0 -2.7z"/></g>
<g transform="translate(1420.7 410.4) rotate(-45)"><text x="-65.9" y="3.6">KVZR.RU</text><path transform="translate(.12 .3)" d="M-5.4 -6.75H6.2M-5.5 -7.15h1M-5.5 -6.35h1M-6.2 6.75H5.4M4.5 6.35h1M4.5 7.15h1M-3.85 -4.05h7.7a1.35 1.35 0 0 1 0 2.7h-7.7a1.35 1.35 0 0 1 0 -2.7zM-3.85 1.35h7.7a1.35 1.35 0 0 1 0 2.7h-7.7a1.35 1.35 0 0 1 0 -2.7z"/></g>
<g transform="translate(1394.7 502.4) rotate(-45)"><text x="-65.9" y="3.6">KVZR.RU</text><path transform="translate(.12 .3)" d="M-5.4 -6.75H6.2M-5.5 -7.15h1M-5.5 -6.35h1M-6.2 6.75H5.4M4.5 6.35h1M4.5 7.15h1M-3.85 -4.05h7.7a1.35 1.35 0 0 1 0 2.7h-7.7a1.35 1.35 0 0 1 0 -2.7zM-3.85 1.35h7.7a1.35 1.35 0 0 1 0 2.7h-7.7a1.35 1.35 0 0 1 0 -2.7z"/></g>
<g transform="translate(1368.8 594.4) rotate(-45)"><text x="-65.9" y="3.6">KVZR.RU</text><path transform="translate(.12 .3)" d="M-5.4 -6.75H6.2M-5.5 -7.15h1M-5.5 -6.35h1M-6.2 6.75H5.4M4.5 6.35h1M4.5 7.15h1M-3.85 -4.05h7.7a1.35 1.35 0 0 1 0 2.7h-7.7a1.35 1.35 0 0 1 0 -2.7zM-3.85 1.35h7.7a1.35 1.35 0 0 1 0 2.7h-7.7a1.35 1.35 0 0 1 0 -2.7z"/></g>
<g transform="translate(1342.9 686.4) rotate(-45)"><text x="-65.9" y="3.6">KVZR.RU</text><path transform="translate(.12 .3)" d="M-5.4 -6.75H6.2M-5.5 -7.15h1M-5.5 -6.35h1M-6.2 6.75H5.4M4.5 6.35h1M4.5 7.15h1M-3.85 -4.05h7.7a1.35 1.35 0 0 1 0 2.7h-7.7a1.35 1.35 0 0 1 0 -2.7zM-3.85 1.35h7.7a1.35 1.35 0 0 1 0 2.7h-7.7a1.35 1.35 0 0 1 0 -2.7z"/></g>
<g transform="translate(1317.0 778.4) rotate(-45)"><text x="-65.9" y="3.6">KVZR.RU</text><path transform="translate(.12 .3)" d="M-5.4 -6.75H6.2M-5.5 -7.15h1M-5.5 -6.35h1M-6.2 6.75H5.4M4.5 6.35h1M4.5 7.15h1M-3.85 -4.05h7.7a1.35 1.35 0 0 1 0 2.7h-7.7a1.35 1.35 0 0 1 0 -2.7zM-3.85 1.35h7.7a1.35 1.35 0 0 1 0 2.7h-7.7a1.35 1.35 0 0 1 0 -2.7z"/></g>
<g transform="translate(1291.1 870.4) rotate(-45)"><text x="-65.9" y="3.6">KVZR.RU</text><path transform="translate(.12 .3)" d="M-5.4 -6.75H6.2M-5.5 -7.15h1M-5.5 -6.35h1M-6.2 6.75H5.4M4.5 6.35h1M4.5 7.15h1M-3.85 -4.05h7.7a1.35 1.35 0 0 1 0 2.7h-7.7a1.35 1.35 0 0 1 0 -2.7zM-3.85 1.35h7.7a1.35 1.35 0 0 1 0 2.7h-7.7a1.35 1.35 0 0 1 0 -2.7z"/></g>
<g transform="translate(1265.2 962.3) rotate(-45)"><text x="-65.9" y="3.6">KVZR.RU</text><path transform="translate(.12 .3)" d="M-5.4 -6.75H6.2M-5.5 -7.15h1M-5.5 -6.35h1M-6.2 6.75H5.4M4.5 6.35h1M4.5 7.15h1M-3.85 -4.05h7.7a1.35 1.35 0 0 1 0 2.7h-7.7a1.35 1.35 0 0 1 0 -2.7zM-3.85 1.35h7.7a1.35 1.35 0 0 1 0 2.7h-7.7a1.35 1.35 0 0 1 0 -2.7z"/></g>
<g transform="translate(1239.2 1054.3) rotate(-45)"><text x="-65.9" y="3.6">KVZR.RU</text><path transform="translate(.12 .3)" d="M-5.4 -6.75H6.2M-5.5 -7.15h1M-5.5 -6.35h1M-6.2 6.75H5.4M4.5 6.35h1M4.5 7.15h1M-3.85 -4.05h7.7a1.35 1.35 0 0 1 0 2.7h-7.7a1.35 1.35 0 0 1 0 -2.7zM-3.85 1.35h7.7a1.35 1.35 0 0 1 0 2.7h-7.7a1.35 1.35 0 0 1 0 -2.7z"/></g>
<g transform="translate(1213.3 1146.3) rotate(-45)"><text x="-65.9" y="3.6">KVZR.RU</text><path transform="translate(.12 .3)" d="M-5.4 -6.75H6.2M-5.5 -7.15h1M-5.5 -6.35h1M-6.2 6.75H5.4M4.5 6.35h1M4.5 7.15h1M-3.85 -4.05h7.7a1.35 1.35 0 0 1 0 2.7h-7.7a1.35 1.35 0 0 1 0 -2.7zM-3.85 1.35h7.7a1.35 1.35 0 0 1 0 2.7h-7.7a1.35 1.35 0 0 1 0 -2.7z"/></g>
<g transform="translate(1187.4 1238.3) rotate(-45)"><text x="-65.9" y="3.6">KVZR.RU</text><path transform="translate(.12 .3)" d="M-5.4 -6.75H6.2M-5.5 -7.15h1M-5.5 -6.35h1M-6.2 6.75H5.4M4.5 6.35h1M4.5 7.15h1M-3.85 -4.05h7.7a1.35 1.35 0 0 1 0 2.7h-7.7a1.35 1.35 0 0 1 0 -2.7zM-3.85 1.35h7.7a1.35 1.35 0 0 1 0 2.7h-7.7a1.35 1.35 0 0 1 0 -2.7z"/></g>
<g transform="translate(1642.2 -75.4) rotate(-45)"><text x="-65.9" y="3.6">KVZR.RU</text><path transform="translate(.12 .3)" d="M-5.4 -6.75H6.2M-5.5 -7.15h1M-5.5 -6.35h1M-6.2 6.75H5.4M4.5 6.35h1M4.5 7.15h1M-3.85 -4.05h7.7a1.35 1.35 0 0 1 0 2.7h-7.7a1.35 1.35 0 0 1 0 -2.7zM-3.85 1.35h7.7a1.35 1.35 0 0 1 0 2.7h-7.7a1.35 1.35 0 0 1 0 -2.7z"/></g>
<g transform="translate(1616.3 16.6) rotate(-45)"><text x="-65.9" y="3.6">KVZR.RU</text><path transform="translate(.12 .3)" d="M-5.4 -6.75H6.2M-5.5 -7.15h1M-5.5 -6.35h1M-6.2 6.75H5.4M4.5 6.35h1M4.5 7.15h1M-3.85 -4.05h7.7a1.35 1.35 0 0 1 0 2.7h-7.7a1.35 1.35 0 0 1 0 -2.7zM-3.85 1.35h7.7a1.35 1.35 0 0 1 0 2.7h-7.7a1.35 1.35 0 0 1 0 -2.7z"/></g>
<g transform="translate(1590.4 108.6) rotate(-45)"><text x="-65.9" y="3.6">KVZR.RU</text><path transform="translate(.12 .3)" d="M-5.4 -6.75H6.2M-5.5 -7.15h1M-5.5 -6.35h1M-6.2 6.75H5.4M4.5 6.35h1M4.5 7.15h1M-3.85 -4.05h7.7a1.35 1.35 0 0 1 0 2.7h-7.7a1.35 1.35 0 0 1 0 -2.7zM-3.85 1.35h7.7a1.35 1.35 0 0 1 0 2.7h-7.7a1.35 1.35 0 0 1 0 -2.7z"/></g>
<g transform="translate(1564.5 200.5) rotate(-45)"><text x="-65.9" y="3.6">KVZR.RU</text><path transform="translate(.12 .3)" d="M-5.4 -6.75H6.2M-5.5 -7.15h1M-5.5 -6.35h1M-6.2 6.75H5.4M4.5 6.35h1M4.5 7.15h1M-3.85 -4.05h7.7a1.35 1.35 0 0 1 0 2.7h-7.7a1.35 1.35 0 0 1 0 -2.7zM-3.85 1.35h7.7a1.35 1.35 0 0 1 0 2.7h-7.7a1.35 1.35 0 0 1 0 -2.7z"/></g>
<g transform="translate(1538.5 292.5) rotate(-45)"><text x="-65.9" y="3.6">KVZR.RU</text><path transform="translate(.12 .3)" d="M-5.4 -6.75H6.2M-5.5 -7.15h1M-5.5 -6.35h1M-6.2 6.75H5.4M4.5 6.35h1M4.5 7.15h1M-3.85 -4.05h7.7a1.35 1.35 0 0 1 0 2.7h-7.7a1.35 1.35 0 0 1 0 -2.7zM-3.85 1.35h7.7a1.35 1.35 0 0 1 0 2.7h-7.7a1.35 1.35 0 0 1 0 -2.7z"/></g>
<g transform="translate(1512.6 384.5) rotate(-45)"><text x="-65.9" y="3.6">KVZR.RU</text><path transform="translate(.12 .3)" d="M-5.4 -6.75H6.2M-5.5 -7.15h1M-5.5 -6.35h1M-6.2 6.75H5.4M4.5 6.35h1M4.5 7.15h1M-3.85 -4.05h7.7a1.35 1.35 0 0 1 0 2.7h-7.7a1.35 1.35 0 0 1 0 -2.7zM-3.85 1.35h7.7a1.35 1.35 0 0 1 0 2.7h-7.7a1.35 1.35 0 0 1 0 -2.7z"/></g>
<g transform="translate(1486.7 476.5) rotate(-45)"><text x="-65.9" y="3.6">KVZR.RU</text><path transform="translate(.12 .3)" d="M-5.4 -6.75H6.2M-5.5 -7.15h1M-5.5 -6.35h1M-6.2 6.75H5.4M4.5 6.35h1M4.5 7.15h1M-3.85 -4.05h7.7a1.35 1.35 0 0 1 0 2.7h-7.7a1.35 1.35 0 0 1 0 -2.7zM-3.85 1.35h7.7a1.35 1.35 0 0 1 0 2.7h-7.7a1.35 1.35 0 0 1 0 -2.7z"/></g>
<g transform="translate(1460.8 568.5) rotate(-45)"><text x="-65.9" y="3.6">KVZR.RU</text><path transform="translate(.12 .3)" d="M-5.4 -6.75H6.2M-5.5 -7.15h1M-5.5 -6.35h1M-6.2 6.75H5.4M4.5 6.35h1M4.5 7.15h1M-3.85 -4.05h7.7a1.35 1.35 0 0 1 0 2.7h-7.7a1.35 1.35 0 0 1 0 -2.7zM-3.85 1.35h7.7a1.35 1.35 0 0 1 0 2.7h-7.7a1.35 1.35 0 0 1 0 -2.7z"/></g>
<g transform="translate(1434.9 660.5) rotate(-45)"><text x="-65.9" y="3.6">KVZR.RU</text><path transform="translate(.12 .3)" d="M-5.4 -6.75H6.2M-5.5 -7.15h1M-5.5 -6.35h1M-6.2 6.75H5.4M4.5 6.35h1M4.5 7.15h1M-3.85 -4.05h7.7a1.35 1.35 0 0 1 0 2.7h-7.7a1.35 1.35 0 0 1 0 -2.7zM-3.85 1.35h7.7a1.35 1.35 0 0 1 0 2.7h-7.7a1.35 1.35 0 0 1 0 -2.7z"/></g>
<g transform="translate(1409.0 752.4) rotate(-45)"><text x="-65.9" y="3.6">KVZR.RU</text><path transform="translate(.12 .3)" d="M-5.4 -6.75H6.2M-5.5 -7.15h1M-5.5 -6.35h1M-6.2 6.75H5.4M4.5 6.35h1M4.5 7.15h1M-3.85 -4.05h7.7a1.35 1.35 0 0 1 0 2.7h-7.7a1.35 1.35 0 0 1 0 -2.7zM-3.85 1.35h7.7a1.35 1.35 0 0 1 0 2.7h-7.7a1.35 1.35 0 0 1 0 -2.7z"/></g>
<g transform="translate(1383.0 844.4) rotate(-45)"><text x="-65.9" y="3.6">KVZR.RU</text><path transform="translate(.12 .3)" d="M-5.4 -6.75H6.2M-5.5 -7.15h1M-5.5 -6.35h1M-6.2 6.75H5.4M4.5 6.35h1M4.5 7.15h1M-3.85 -4.05h7.7a1.35 1.35 0 0 1 0 2.7h-7.7a1.35 1.35 0 0 1 0 -2.7zM-3.85 1.35h7.7a1.35 1.35 0 0 1 0 2.7h-7.7a1.35 1.35 0 0 1 0 -2.7z"/></g>
<g transform="translate(1357.1 936.4) rotate(-45)"><text x="-65.9" y="3.6">KVZR.RU</text><path transform="translate(.12 .3)" d="M-5.4 -6.75H6.2M-5.5 -7.15h1M-5.5 -6.35h1M-6.2 6.75H5.4M4.5 6.35h1M4.5 7.15h1M-3.85 -4.05h7.7a1.35 1.35 0 0 1 0 2.7h-7.7a1.35 1.35 0 0 1 0 -2.7zM-3.85 1.35h7.7a1.35 1.35 0 0 1 0 2.7h-7.7a1.35 1.35 0 0 1 0 -2.7z"/></g>
<g transform="translate(1331.2 1028.4) rotate(-45)"><text x="-65.9" y="3.6">KVZR.RU</text><path transform="translate(.12 .3)" d="M-5.4 -6.75H6.2M-5.5 -7.15h1M-5.5 -6.35h1M-6.2 6.75H5.4M4.5 6.35h1M4.5 7.15h1M-3.85 -4.05h7.7a1.35 1.35 0 0 1 0 2.7h-7.7a1.35 1.35 0 0 1 0 -2.7zM-3.85 1.35h7.7a1.35 1.35 0 0 1 0 2.7h-7.7a1.35 1.35 0 0 1 0 -2.7z"/></g>
<g transform="translate(1305.3 1120.4) rotate(-45)"><text x="-65.9" y="3.6">KVZR.RU</text><path transform="translate(.12 .3)" d="M-5.4 -6.75H6.2M-5.5 -7.15h1M-5.5 -6.35h1M-6.2 6.75H5.4M4.5 6.35h1M4.5 7.15h1M-3.85 -4.05h7.7a1.35 1.35 0 0 1 0 2.7h-7.7a1.35 1.35 0 0 1 0 -2.7zM-3.85 1.35h7.7a1.35 1.35 0 0 1 0 2.7h-7.7a1.35 1.35 0 0 1 0 -2.7z"/></g>
<g transform="translate(1279.4 1212.4) rotate(-45)"><text x="-65.9" y="3.6">KVZR.RU</text><path transform="translate(.12 .3)" d="M-5.4 -6.75H6.2M-5.5 -7.15h1M-5.5 -6.35h1M-6.2 6.75H5.4M4.5 6.35h1M4.5 7.15h1M-3.85 -4.05h7.7a1.35 1.35 0 0 1 0 2.7h-7.7a1.35 1.35 0 0 1 0 -2.7zM-3.85 1.35h7.7a1.35 1.35 0 0 1 0 2.7h-7.7a1.35 1.35 0 0 1 0 -2.7z"/></g>
<g transform="translate(1708.3 -9.3) rotate(-45)"><text x="-65.9" y="3.6">KVZR.RU</text><path transform="translate(.12 .3)" d="M-5.4 -6.75H6.2M-5.5 -7.15h1M-5.5 -6.35h1M-6.2 6.75H5.4M4.5 6.35h1M4.5 7.15h1M-3.85 -4.05h7.7a1.35 1.35 0 0 1 0 2.7h-7.7a1.35 1.35 0 0 1 0 -2.7zM-3.85 1.35h7.7a1.35 1.35 0 0 1 0 2.7h-7.7a1.35 1.35 0 0 1 0 -2.7z"/></g>
<g transform="translate(1682.3 82.6) rotate(-45)"><text x="-65.9" y="3.6">KVZR.RU</text><path transform="translate(.12 .3)" d="M-5.4 -6.75H6.2M-5.5 -7.15h1M-5.5 -6.35h1M-6.2 6.75H5.4M4.5 6.35h1M4.5 7.15h1M-3.85 -4.05h7.7a1.35 1.35 0 0 1 0 2.7h-7.7a1.35 1.35 0 0 1 0 -2.7zM-3.85 1.35h7.7a1.35 1.35 0 0 1 0 2.7h-7.7a1.35 1.35 0 0 1 0 -2.7z"/></g>
<g transform="translate(1656.4 174.6) rotate(-45)"><text x="-65.9" y="3.6">KVZR.RU</text><path transform="translate(.12 .3)" d="M-5.4 -6.75H6.2M-5.5 -7.15h1M-5.5 -6.35h1M-6.2 6.75H5.4M4.5 6.35h1M4.5 7.15h1M-3.85 -4.05h7.7a1.35 1.35 0 0 1 0 2.7h-7.7a1.35 1.35 0 0 1 0 -2.7zM-3.85 1.35h7.7a1.35 1.35 0 0 1 0 2.7h-7.7a1.35 1.35 0 0 1 0 -2.7z"/></g>
<g transform="translate(1630.5 266.6) rotate(-45)"><text x="-65.9" y="3.6">KVZR.RU</text><path transform="translate(.12 .3)" d="M-5.4 -6.75H6.2M-5.5 -7.15h1M-5.5 -6.35h1M-6.2 6.75H5.4M4.5 6.35h1M4.5 7.15h1M-3.85 -4.05h7.7a1.35 1.35 0 0 1 0 2.7h-7.7a1.35 1.35 0 0 1 0 -2.7zM-3.85 1.35h7.7a1.35 1.35 0 0 1 0 2.7h-7.7a1.35 1.35 0 0 1 0 -2.7z"/></g>
<g transform="translate(1604.6 358.6) rotate(-45)"><text x="-65.9" y="3.6">KVZR.RU</text><path transform="translate(.12 .3)" d="M-5.4 -6.75H6.2M-5.5 -7.15h1M-5.5 -6.35h1M-6.2 6.75H5.4M4.5 6.35h1M4.5 7.15h1M-3.85 -4.05h7.7a1.35 1.35 0 0 1 0 2.7h-7.7a1.35 1.35 0 0 1 0 -2.7zM-3.85 1.35h7.7a1.35 1.35 0 0 1 0 2.7h-7.7a1.35 1.35 0 0 1 0 -2.7z"/></g>
<g transform="translate(1578.7 450.6) rotate(-45)"><text x="-65.9" y="3.6">KVZR.RU</text><path transform="translate(.12 .3)" d="M-5.4 -6.75H6.2M-5.5 -7.15h1M-5.5 -6.35h1M-6.2 6.75H5.4M4.5 6.35h1M4.5 7.15h1M-3.85 -4.05h7.7a1.35 1.35 0 0 1 0 2.7h-7.7a1.35 1.35 0 0 1 0 -2.7zM-3.85 1.35h7.7a1.35 1.35 0 0 1 0 2.7h-7.7a1.35 1.35 0 0 1 0 -2.7z"/></g>
<g transform="translate(1552.8 542.6) rotate(-45)"><text x="-65.9" y="3.6">KVZR.RU</text><path transform="translate(.12 .3)" d="M-5.4 -6.75H6.2M-5.5 -7.15h1M-5.5 -6.35h1M-6.2 6.75H5.4M4.5 6.35h1M4.5 7.15h1M-3.85 -4.05h7.7a1.35 1.35 0 0 1 0 2.7h-7.7a1.35 1.35 0 0 1 0 -2.7zM-3.85 1.35h7.7a1.35 1.35 0 0 1 0 2.7h-7.7a1.35 1.35 0 0 1 0 -2.7z"/></g>
<g transform="translate(1526.8 634.5) rotate(-45)"><text x="-65.9" y="3.6">KVZR.RU</text><path transform="translate(.12 .3)" d="M-5.4 -6.75H6.2M-5.5 -7.15h1M-5.5 -6.35h1M-6.2 6.75H5.4M4.5 6.35h1M4.5 7.15h1M-3.85 -4.05h7.7a1.35 1.35 0 0 1 0 2.7h-7.7a1.35 1.35 0 0 1 0 -2.7zM-3.85 1.35h7.7a1.35 1.35 0 0 1 0 2.7h-7.7a1.35 1.35 0 0 1 0 -2.7z"/></g>
<g transform="translate(1500.9 726.5) rotate(-45)"><text x="-65.9" y="3.6">KVZR.RU</text><path transform="translate(.12 .3)" d="M-5.4 -6.75H6.2M-5.5 -7.15h1M-5.5 -6.35h1M-6.2 6.75H5.4M4.5 6.35h1M4.5 7.15h1M-3.85 -4.05h7.7a1.35 1.35 0 0 1 0 2.7h-7.7a1.35 1.35 0 0 1 0 -2.7zM-3.85 1.35h7.7a1.35 1.35 0 0 1 0 2.7h-7.7a1.35 1.35 0 0 1 0 -2.7z"/></g>
<g transform="translate(1475.0 818.5) rotate(-45)"><text x="-65.9" y="3.6">KVZR.RU</text><path transform="translate(.12 .3)" d="M-5.4 -6.75H6.2M-5.5 -7.15h1M-5.5 -6.35h1M-6.2 6.75H5.4M4.5 6.35h1M4.5 7.15h1M-3.85 -4.05h7.7a1.35 1.35 0 0 1 0 2.7h-7.7a1.35 1.35 0 0 1 0 -2.7zM-3.85 1.35h7.7a1.35 1.35 0 0 1 0 2.7h-7.7a1.35 1.35 0 0 1 0 -2.7z"/></g>
<g transform="translate(1449.1 910.5) rotate(-45)"><text x="-65.9" y="3.6">KVZR.RU</text><path transform="translate(.12 .3)" d="M-5.4 -6.75H6.2M-5.5 -7.15h1M-5.5 -6.35h1M-6.2 6.75H5.4M4.5 6.35h1M4.5 7.15h1M-3.85 -4.05h7.7a1.35 1.35 0 0 1 0 2.7h-7.7a1.35 1.35 0 0 1 0 -2.7zM-3.85 1.35h7.7a1.35 1.35 0 0 1 0 2.7h-7.7a1.35 1.35 0 0 1 0 -2.7z"/></g>
<g transform="translate(1423.2 1002.5) rotate(-45)"><text x="-65.9" y="3.6">KVZR.RU</text><path transform="translate(.12 .3)" d="M-5.4 -6.75H6.2M-5.5 -7.15h1M-5.5 -6.35h1M-6.2 6.75H5.4M4.5 6.35h1M4.5 7.15h1M-3.85 -4.05h7.7a1.35 1.35 0 0 1 0 2.7h-7.7a1.35 1.35 0 0 1 0 -2.7zM-3.85 1.35h7.7a1.35 1.35 0 0 1 0 2.7h-7.7a1.35 1.35 0 0 1 0 -2.7z"/></g>
<g transform="translate(1397.3 1094.5) rotate(-45)"><text x="-65.9" y="3.6">KVZR.RU</text><path transform="translate(.12 .3)" d="M-5.4 -6.75H6.2M-5.5 -7.15h1M-5.5 -6.35h1M-6.2 6.75H5.4M4.5 6.35h1M4.5 7.15h1M-3.85 -4.05h7.7a1.35 1.35 0 0 1 0 2.7h-7.7a1.35 1.35 0 0 1 0 -2.7zM-3.85 1.35h7.7a1.35 1.35 0 0 1 0 2.7h-7.7a1.35 1.35 0 0 1 0 -2.7z"/></g>
<g transform="translate(1371.3 1186.4) rotate(-45)"><text x="-65.9" y="3.6">KVZR.RU</text><path transform="translate(.12 .3)" d="M-5.4 -6.75H6.2M-5.5 -7.15h1M-5.5 -6.35h1M-6.2 6.75H5.4M4.5 6.35h1M4.5 7.15h1M-3.85 -4.05h7.7a1.35 1.35 0 0 1 0 2.7h-7.7a1.35 1.35 0 0 1 0 -2.7zM-3.85 1.35h7.7a1.35 1.35 0 0 1 0 2.7h-7.7a1.35 1.35 0 0 1 0 -2.7z"/></g>
<g transform="translate(1345.4 1278.4) rotate(-45)"><text x="-65.9" y="3.6">KVZR.RU</text><path transform="translate(.12 .3)" d="M-5.4 -6.75H6.2M-5.5 -7.15h1M-5.5 -6.35h1M-6.2 6.75H5.4M4.5 6.35h1M4.5 7.15h1M-3.85 -4.05h7.7a1.35 1.35 0 0 1 0 2.7h-7.7a1.35 1.35 0 0 1 0 -2.7zM-3.85 1.35h7.7a1.35 1.35 0 0 1 0 2.7h-7.7a1.35 1.35 0 0 1 0 -2.7z"/></g>
<g transform="translate(1800.2 -35.3) rotate(-45)"><text x="-65.9" y="3.6">KVZR.RU</text><path transform="translate(.12 .3)" d="M-5.4 -6.75H6.2M-5.5 -7.15h1M-5.5 -6.35h1M-6.2 6.75H5.4M4.5 6.35h1M4.5 7.15h1M-3.85 -4.05h7.7a1.35 1.35 0 0 1 0 2.7h-7.7a1.35 1.35 0 0 1 0 -2.7zM-3.85 1.35h7.7a1.35 1.35 0 0 1 0 2.7h-7.7a1.35 1.35 0 0 1 0 -2.7z"/></g>
<g transform="translate(1774.3 56.7) rotate(-45)"><text x="-65.9" y="3.6">KVZR.RU</text><path transform="translate(.12 .3)" d="M-5.4 -6.75H6.2M-5.5 -7.15h1M-5.5 -6.35h1M-6.2 6.75H5.4M4.5 6.35h1M4.5 7.15h1M-3.85 -4.05h7.7a1.35 1.35 0 0 1 0 2.7h-7.7a1.35 1.35 0 0 1 0 -2.7zM-3.85 1.35h7.7a1.35 1.35 0 0 1 0 2.7h-7.7a1.35 1.35 0 0 1 0 -2.7z"/></g>
<g transform="translate(1748.4 148.7) rotate(-45)"><text x="-65.9" y="3.6">KVZR.RU</text><path transform="translate(.12 .3)" d="M-5.4 -6.75H6.2M-5.5 -7.15h1M-5.5 -6.35h1M-6.2 6.75H5.4M4.5 6.35h1M4.5 7.15h1M-3.85 -4.05h7.7a1.35 1.35 0 0 1 0 2.7h-7.7a1.35 1.35 0 0 1 0 -2.7zM-3.85 1.35h7.7a1.35 1.35 0 0 1 0 2.7h-7.7a1.35 1.35 0 0 1 0 -2.7z"/></g>
<g transform="translate(1722.5 240.7) rotate(-45)"><text x="-65.9" y="3.6">KVZR.RU</text><path transform="translate(.12 .3)" d="M-5.4 -6.75H6.2M-5.5 -7.15h1M-5.5 -6.35h1M-6.2 6.75H5.4M4.5 6.35h1M4.5 7.15h1M-3.85 -4.05h7.7a1.35 1.35 0 0 1 0 2.7h-7.7a1.35 1.35 0 0 1 0 -2.7zM-3.85 1.35h7.7a1.35 1.35 0 0 1 0 2.7h-7.7a1.35 1.35 0 0 1 0 -2.7z"/></g>
<g transform="translate(1696.5 332.7) rotate(-45)"><text x="-65.9" y="3.6">KVZR.RU</text><path transform="translate(.12 .3)" d="M-5.4 -6.75H6.2M-5.5 -7.15h1M-5.5 -6.35h1M-6.2 6.75H5.4M4.5 6.35h1M4.5 7.15h1M-3.85 -4.05h7.7a1.35 1.35 0 0 1 0 2.7h-7.7a1.35 1.35 0 0 1 0 -2.7zM-3.85 1.35h7.7a1.35 1.35 0 0 1 0 2.7h-7.7a1.35 1.35 0 0 1 0 -2.7z"/></g>
<g transform="translate(1670.6 424.7) rotate(-45)"><text x="-65.9" y="3.6">KVZR.RU</text><path transform="translate(.12 .3)" d="M-5.4 -6.75H6.2M-5.5 -7.15h1M-5.5 -6.35h1M-6.2 6.75H5.4M4.5 6.35h1M4.5 7.15h1M-3.85 -4.05h7.7a1.35 1.35 0 0 1 0 2.7h-7.7a1.35 1.35 0 0 1 0 -2.7zM-3.85 1.35h7.7a1.35 1.35 0 0 1 0 2.7h-7.7a1.35 1.35 0 0 1 0 -2.7z"/></g>
<g transform="translate(1644.7 516.6) rotate(-45)"><text x="-65.9" y="3.6">KVZR.RU</text><path transform="translate(.12 .3)" d="M-5.4 -6.75H6.2M-5.5 -7.15h1M-5.5 -6.35h1M-6.2 6.75H5.4M4.5 6.35h1M4.5 7.15h1M-3.85 -4.05h7.7a1.35 1.35 0 0 1 0 2.7h-7.7a1.35 1.35 0 0 1 0 -2.7zM-3.85 1.35h7.7a1.35 1.35 0 0 1 0 2.7h-7.7a1.35 1.35 0 0 1 0 -2.7z"/></g>
<g transform="translate(1618.8 608.6) rotate(-45)"><text x="-65.9" y="3.6">KVZR.RU</text><path transform="translate(.12 .3)" d="M-5.4 -6.75H6.2M-5.5 -7.15h1M-5.5 -6.35h1M-6.2 6.75H5.4M4.5 6.35h1M4.5 7.15h1M-3.85 -4.05h7.7a1.35 1.35 0 0 1 0 2.7h-7.7a1.35 1.35 0 0 1 0 -2.7zM-3.85 1.35h7.7a1.35 1.35 0 0 1 0 2.7h-7.7a1.35 1.35 0 0 1 0 -2.7z"/></g>
<g transform="translate(1592.9 700.6) rotate(-45)"><text x="-65.9" y="3.6">KVZR.RU</text><path transform="translate(.12 .3)" d="M-5.4 -6.75H6.2M-5.5 -7.15h1M-5.5 -6.35h1M-6.2 6.75H5.4M4.5 6.35h1M4.5 7.15h1M-3.85 -4.05h7.7a1.35 1.35 0 0 1 0 2.7h-7.7a1.35 1.35 0 0 1 0 -2.7zM-3.85 1.35h7.7a1.35 1.35 0 0 1 0 2.7h-7.7a1.35 1.35 0 0 1 0 -2.7z"/></g>
<g transform="translate(1567.0 792.6) rotate(-45)"><text x="-65.9" y="3.6">KVZR.RU</text><path transform="translate(.12 .3)" d="M-5.4 -6.75H6.2M-5.5 -7.15h1M-5.5 -6.35h1M-6.2 6.75H5.4M4.5 6.35h1M4.5 7.15h1M-3.85 -4.05h7.7a1.35 1.35 0 0 1 0 2.7h-7.7a1.35 1.35 0 0 1 0 -2.7zM-3.85 1.35h7.7a1.35 1.35 0 0 1 0 2.7h-7.7a1.35 1.35 0 0 1 0 -2.7z"/></g>
<g transform="translate(1541.0 884.6) rotate(-45)"><text x="-65.9" y="3.6">KVZR.RU</text><path transform="translate(.12 .3)" d="M-5.4 -6.75H6.2M-5.5 -7.15h1M-5.5 -6.35h1M-6.2 6.75H5.4M4.5 6.35h1M4.5 7.15h1M-3.85 -4.05h7.7a1.35 1.35 0 0 1 0 2.7h-7.7a1.35 1.35 0 0 1 0 -2.7zM-3.85 1.35h7.7a1.35 1.35 0 0 1 0 2.7h-7.7a1.35 1.35 0 0 1 0 -2.7z"/></g>
<g transform="translate(1515.1 976.5) rotate(-45)"><text x="-65.9" y="3.6">KVZR.RU</text><path transform="translate(.12 .3)" d="M-5.4 -6.75H6.2M-5.5 -7.15h1M-5.5 -6.35h1M-6.2 6.75H5.4M4.5 6.35h1M4.5 7.15h1M-3.85 -4.05h7.7a1.35 1.35 0 0 1 0 2.7h-7.7a1.35 1.35 0 0 1 0 -2.7zM-3.85 1.35h7.7a1.35 1.35 0 0 1 0 2.7h-7.7a1.35 1.35 0 0 1 0 -2.7z"/></g>
<g transform="translate(1489.2 1068.5) rotate(-45)"><text x="-65.9" y="3.6">KVZR.RU</text><path transform="translate(.12 .3)" d="M-5.4 -6.75H6.2M-5.5 -7.15h1M-5.5 -6.35h1M-6.2 6.75H5.4M4.5 6.35h1M4.5 7.15h1M-3.85 -4.05h7.7a1.35 1.35 0 0 1 0 2.7h-7.7a1.35 1.35 0 0 1 0 -2.7zM-3.85 1.35h7.7a1.35 1.35 0 0 1 0 2.7h-7.7a1.35 1.35 0 0 1 0 -2.7z"/></g>
<g transform="translate(1463.3 1160.5) rotate(-45)"><text x="-65.9" y="3.6">KVZR.RU</text><path transform="translate(.12 .3)" d="M-5.4 -6.75H6.2M-5.5 -7.15h1M-5.5 -6.35h1M-6.2 6.75H5.4M4.5 6.35h1M4.5 7.15h1M-3.85 -4.05h7.7a1.35 1.35 0 0 1 0 2.7h-7.7a1.35 1.35 0 0 1 0 -2.7zM-3.85 1.35h7.7a1.35 1.35 0 0 1 0 2.7h-7.7a1.35 1.35 0 0 1 0 -2.7z"/></g>
<g transform="translate(1437.4 1252.5) rotate(-45)"><text x="-65.9" y="3.6">KVZR.RU</text><path transform="translate(.12 .3)" d="M-5.4 -6.75H6.2M-5.5 -7.15h1M-5.5 -6.35h1M-6.2 6.75H5.4M4.5 6.35h1M4.5 7.15h1M-3.85 -4.05h7.7a1.35 1.35 0 0 1 0 2.7h-7.7a1.35 1.35 0 0 1 0 -2.7zM-3.85 1.35h7.7a1.35 1.35 0 0 1 0 2.7h-7.7a1.35 1.35 0 0 1 0 -2.7z"/></g>
<g transform="translate(1866.3 30.8) rotate(-45)"><text x="-65.9" y="3.6">KVZR.RU</text><path transform="translate(.12 .3)" d="M-5.4 -6.75H6.2M-5.5 -7.15h1M-5.5 -6.35h1M-6.2 6.75H5.4M4.5 6.35h1M4.5 7.15h1M-3.85 -4.05h7.7a1.35 1.35 0 0 1 0 2.7h-7.7a1.35 1.35 0 0 1 0 -2.7zM-3.85 1.35h7.7a1.35 1.35 0 0 1 0 2.7h-7.7a1.35 1.35 0 0 1 0 -2.7z"/></g>
<g transform="translate(1840.3 122.8) rotate(-45)"><text x="-65.9" y="3.6">KVZR.RU</text><path transform="translate(.12 .3)" d="M-5.4 -6.75H6.2M-5.5 -7.15h1M-5.5 -6.35h1M-6.2 6.75H5.4M4.5 6.35h1M4.5 7.15h1M-3.85 -4.05h7.7a1.35 1.35 0 0 1 0 2.7h-7.7a1.35 1.35 0 0 1 0 -2.7zM-3.85 1.35h7.7a1.35 1.35 0 0 1 0 2.7h-7.7a1.35 1.35 0 0 1 0 -2.7z"/></g>
<g transform="translate(1814.4 214.8) rotate(-45)"><text x="-65.9" y="3.6">KVZR.RU</text><path transform="translate(.12 .3)" d="M-5.4 -6.75H6.2M-5.5 -7.15h1M-5.5 -6.35h1M-6.2 6.75H5.4M4.5 6.35h1M4.5 7.15h1M-3.85 -4.05h7.7a1.35 1.35 0 0 1 0 2.7h-7.7a1.35 1.35 0 0 1 0 -2.7zM-3.85 1.35h7.7a1.35 1.35 0 0 1 0 2.7h-7.7a1.35 1.35 0 0 1 0 -2.7z"/></g>
<g transform="translate(1788.5 306.7) rotate(-45)"><text x="-65.9" y="3.6">KVZR.RU</text><path transform="translate(.12 .3)" d="M-5.4 -6.75H6.2M-5.5 -7.15h1M-5.5 -6.35h1M-6.2 6.75H5.4M4.5 6.35h1M4.5 7.15h1M-3.85 -4.05h7.7a1.35 1.35 0 0 1 0 2.7h-7.7a1.35 1.35 0 0 1 0 -2.7zM-3.85 1.35h7.7a1.35 1.35 0 0 1 0 2.7h-7.7a1.35 1.35 0 0 1 0 -2.7z"/></g>
<g transform="translate(1762.6 398.7) rotate(-45)"><text x="-65.9" y="3.6">KVZR.RU</text><path transform="translate(.12 .3)" d="M-5.4 -6.75H6.2M-5.5 -7.15h1M-5.5 -6.35h1M-6.2 6.75H5.4M4.5 6.35h1M4.5 7.15h1M-3.85 -4.05h7.7a1.35 1.35 0 0 1 0 2.7h-7.7a1.35 1.35 0 0 1 0 -2.7zM-3.85 1.35h7.7a1.35 1.35 0 0 1 0 2.7h-7.7a1.35 1.35 0 0 1 0 -2.7z"/></g>
<g transform="translate(1736.7 490.7) rotate(-45)"><text x="-65.9" y="3.6">KVZR.RU</text><path transform="translate(.12 .3)" d="M-5.4 -6.75H6.2M-5.5 -7.15h1M-5.5 -6.35h1M-6.2 6.75H5.4M4.5 6.35h1M4.5 7.15h1M-3.85 -4.05h7.7a1.35 1.35 0 0 1 0 2.7h-7.7a1.35 1.35 0 0 1 0 -2.7zM-3.85 1.35h7.7a1.35 1.35 0 0 1 0 2.7h-7.7a1.35 1.35 0 0 1 0 -2.7z"/></g>
<g transform="translate(1710.8 582.7) rotate(-45)"><text x="-65.9" y="3.6">KVZR.RU</text><path transform="translate(.12 .3)" d="M-5.4 -6.75H6.2M-5.5 -7.15h1M-5.5 -6.35h1M-6.2 6.75H5.4M4.5 6.35h1M4.5 7.15h1M-3.85 -4.05h7.7a1.35 1.35 0 0 1 0 2.7h-7.7a1.35 1.35 0 0 1 0 -2.7zM-3.85 1.35h7.7a1.35 1.35 0 0 1 0 2.7h-7.7a1.35 1.35 0 0 1 0 -2.7z"/></g>
<g transform="translate(1684.8 674.7) rotate(-45)"><text x="-65.9" y="3.6">KVZR.RU</text><path transform="translate(.12 .3)" d="M-5.4 -6.75H6.2M-5.5 -7.15h1M-5.5 -6.35h1M-6.2 6.75H5.4M4.5 6.35h1M4.5 7.15h1M-3.85 -4.05h7.7a1.35 1.35 0 0 1 0 2.7h-7.7a1.35 1.35 0 0 1 0 -2.7zM-3.85 1.35h7.7a1.35 1.35 0 0 1 0 2.7h-7.7a1.35 1.35 0 0 1 0 -2.7z"/></g>
<g transform="translate(1658.9 766.7) rotate(-45)"><text x="-65.9" y="3.6">KVZR.RU</text><path transform="translate(.12 .3)" d="M-5.4 -6.75H6.2M-5.5 -7.15h1M-5.5 -6.35h1M-6.2 6.75H5.4M4.5 6.35h1M4.5 7.15h1M-3.85 -4.05h7.7a1.35 1.35 0 0 1 0 2.7h-7.7a1.35 1.35 0 0 1 0 -2.7zM-3.85 1.35h7.7a1.35 1.35 0 0 1 0 2.7h-7.7a1.35 1.35 0 0 1 0 -2.7z"/></g>
<g transform="translate(1633.0 858.6) rotate(-45)"><text x="-65.9" y="3.6">KVZR.RU</text><path transform="translate(.12 .3)" d="M-5.4 -6.75H6.2M-5.5 -7.15h1M-5.5 -6.35h1M-6.2 6.75H5.4M4.5 6.35h1M4.5 7.15h1M-3.85 -4.05h7.7a1.35 1.35 0 0 1 0 2.7h-7.7a1.35 1.35 0 0 1 0 -2.7zM-3.85 1.35h7.7a1.35 1.35 0 0 1 0 2.7h-7.7a1.35 1.35 0 0 1 0 -2.7z"/></g>
<g transform="translate(1607.1 950.6) rotate(-45)"><text x="-65.9" y="3.6">KVZR.RU</text><path transform="translate(.12 .3)" d="M-5.4 -6.75H6.2M-5.5 -7.15h1M-5.5 -6.35h1M-6.2 6.75H5.4M4.5 6.35h1M4.5 7.15h1M-3.85 -4.05h7.7a1.35 1.35 0 0 1 0 2.7h-7.7a1.35 1.35 0 0 1 0 -2.7zM-3.85 1.35h7.7a1.35 1.35 0 0 1 0 2.7h-7.7a1.35 1.35 0 0 1 0 -2.7z"/></g>
<g transform="translate(1581.2 1042.6) rotate(-45)"><text x="-65.9" y="3.6">KVZR.RU</text><path transform="translate(.12 .3)" d="M-5.4 -6.75H6.2M-5.5 -7.15h1M-5.5 -6.35h1M-6.2 6.75H5.4M4.5 6.35h1M4.5 7.15h1M-3.85 -4.05h7.7a1.35 1.35 0 0 1 0 2.7h-7.7a1.35 1.35 0 0 1 0 -2.7zM-3.85 1.35h7.7a1.35 1.35 0 0 1 0 2.7h-7.7a1.35 1.35 0 0 1 0 -2.7z"/></g>
<g transform="translate(1555.3 1134.6) rotate(-45)"><text x="-65.9" y="3.6">KVZR.RU</text><path transform="translate(.12 .3)" d="M-5.4 -6.75H6.2M-5.5 -7.15h1M-5.5 -6.35h1M-6.2 6.75H5.4M4.5 6.35h1M4.5 7.15h1M-3.85 -4.05h7.7a1.35 1.35 0 0 1 0 2.7h-7.7a1.35 1.35 0 0 1 0 -2.7zM-3.85 1.35h7.7a1.35 1.35 0 0 1 0 2.7h-7.7a1.35 1.35 0 0 1 0 -2.7z"/></g>
<g transform="translate(1529.3 1226.6) rotate(-45)"><text x="-65.9" y="3.6">KVZR.RU</text><path transform="translate(.12 .3)" d="M-5.4 -6.75H6.2M-5.5 -7.15h1M-5.5 -6.35h1M-6.2 6.75H5.4M4.5 6.35h1M4.5 7.15h1M-3.85 -4.05h7.7a1.35 1.35 0 0 1 0 2.7h-7.7a1.35 1.35 0 0 1 0 -2.7zM-3.85 1.35h7.7a1.35 1.35 0 0 1 0 2.7h-7.7a1.35 1.35 0 0 1 0 -2.7z"/></g>
<g transform="translate(1854.5 372.8) rotate(-45)"><text x="-65.9" y="3.6">KVZR.RU</text><path transform="translate(.12 .3)" d="M-5.4 -6.75H6.2M-5.5 -7.15h1M-5.5 -6.35h1M-6.2 6.75H5.4M4.5 6.35h1M4.5 7.15h1M-3.85 -4.05h7.7a1.35 1.35 0 0 1 0 2.7h-7.7a1.35 1.35 0 0 1 0 -2.7zM-3.85 1.35h7.7a1.35 1.35 0 0 1 0 2.7h-7.7a1.35 1.35 0 0 1 0 -2.7z"/></g>
<g transform="translate(1828.6 464.8) rotate(-45)"><text x="-65.9" y="3.6">KVZR.RU</text><path transform="translate(.12 .3)" d="M-5.4 -6.75H6.2M-5.5 -7.15h1M-5.5 -6.35h1M-6.2 6.75H5.4M4.5 6.35h1M4.5 7.15h1M-3.85 -4.05h7.7a1.35 1.35 0 0 1 0 2.7h-7.7a1.35 1.35 0 0 1 0 -2.7zM-3.85 1.35h7.7a1.35 1.35 0 0 1 0 2.7h-7.7a1.35 1.35 0 0 1 0 -2.7z"/></g>
<g transform="translate(1802.7 556.8) rotate(-45)"><text x="-65.9" y="3.6">KVZR.RU</text><path transform="translate(.12 .3)" d="M-5.4 -6.75H6.2M-5.5 -7.15h1M-5.5 -6.35h1M-6.2 6.75H5.4M4.5 6.35h1M4.5 7.15h1M-3.85 -4.05h7.7a1.35 1.35 0 0 1 0 2.7h-7.7a1.35 1.35 0 0 1 0 -2.7zM-3.85 1.35h7.7a1.35 1.35 0 0 1 0 2.7h-7.7a1.35 1.35 0 0 1 0 -2.7z"/></g>
<g transform="translate(1776.8 648.8) rotate(-45)"><text x="-65.9" y="3.6">KVZR.RU</text><path transform="translate(.12 .3)" d="M-5.4 -6.75H6.2M-5.5 -7.15h1M-5.5 -6.35h1M-6.2 6.75H5.4M4.5 6.35h1M4.5 7.15h1M-3.85 -4.05h7.7a1.35 1.35 0 0 1 0 2.7h-7.7a1.35 1.35 0 0 1 0 -2.7zM-3.85 1.35h7.7a1.35 1.35 0 0 1 0 2.7h-7.7a1.35 1.35 0 0 1 0 -2.7z"/></g>
<g transform="translate(1750.9 740.7) rotate(-45)"><text x="-65.9" y="3.6">KVZR.RU</text><path transform="translate(.12 .3)" d="M-5.4 -6.75H6.2M-5.5 -7.15h1M-5.5 -6.35h1M-6.2 6.75H5.4M4.5 6.35h1M4.5 7.15h1M-3.85 -4.05h7.7a1.35 1.35 0 0 1 0 2.7h-7.7a1.35 1.35 0 0 1 0 -2.7zM-3.85 1.35h7.7a1.35 1.35 0 0 1 0 2.7h-7.7a1.35 1.35 0 0 1 0 -2.7z"/></g>
<g transform="translate(1725.0 832.7) rotate(-45)"><text x="-65.9" y="3.6">KVZR.RU</text><path transform="translate(.12 .3)" d="M-5.4 -6.75H6.2M-5.5 -7.15h1M-5.5 -6.35h1M-6.2 6.75H5.4M4.5 6.35h1M4.5 7.15h1M-3.85 -4.05h7.7a1.35 1.35 0 0 1 0 2.7h-7.7a1.35 1.35 0 0 1 0 -2.7zM-3.85 1.35h7.7a1.35 1.35 0 0 1 0 2.7h-7.7a1.35 1.35 0 0 1 0 -2.7z"/></g>
<g transform="translate(1699.0 924.7) rotate(-45)"><text x="-65.9" y="3.6">KVZR.RU</text><path transform="translate(.12 .3)" d="M-5.4 -6.75H6.2M-5.5 -7.15h1M-5.5 -6.35h1M-6.2 6.75H5.4M4.5 6.35h1M4.5 7.15h1M-3.85 -4.05h7.7a1.35 1.35 0 0 1 0 2.7h-7.7a1.35 1.35 0 0 1 0 -2.7zM-3.85 1.35h7.7a1.35 1.35 0 0 1 0 2.7h-7.7a1.35 1.35 0 0 1 0 -2.7z"/></g>
<g transform="translate(1673.1 1016.7) rotate(-45)"><text x="-65.9" y="3.6">KVZR.RU</text><path transform="translate(.12 .3)" d="M-5.4 -6.75H6.2M-5.5 -7.15h1M-5.5 -6.35h1M-6.2 6.75H5.4M4.5 6.35h1M4.5 7.15h1M-3.85 -4.05h7.7a1.35 1.35 0 0 1 0 2.7h-7.7a1.35 1.35 0 0 1 0 -2.7zM-3.85 1.35h7.7a1.35 1.35 0 0 1 0 2.7h-7.7a1.35 1.35 0 0 1 0 -2.7z"/></g>
<g transform="translate(1647.2 1108.7) rotate(-45)"><text x="-65.9" y="3.6">KVZR.RU</text><path transform="translate(.12 .3)" d="M-5.4 -6.75H6.2M-5.5 -7.15h1M-5.5 -6.35h1M-6.2 6.75H5.4M4.5 6.35h1M4.5 7.15h1M-3.85 -4.05h7.7a1.35 1.35 0 0 1 0 2.7h-7.7a1.35 1.35 0 0 1 0 -2.7zM-3.85 1.35h7.7a1.35 1.35 0 0 1 0 2.7h-7.7a1.35 1.35 0 0 1 0 -2.7z"/></g>
<g transform="translate(1621.3 1200.6) rotate(-45)"><text x="-65.9" y="3.6">KVZR.RU</text><path transform="translate(.12 .3)" d="M-5.4 -6.75H6.2M-5.5 -7.15h1M-5.5 -6.35h1M-6.2 6.75H5.4M4.5 6.35h1M4.5 7.15h1M-3.85 -4.05h7.7a1.35 1.35 0 0 1 0 2.7h-7.7a1.35 1.35 0 0 1 0 -2.7zM-3.85 1.35h7.7a1.35 1.35 0 0 1 0 2.7h-7.7a1.35 1.35 0 0 1 0 -2.7z"/></g>
<g transform="translate(1868.8 622.8) rotate(-45)"><text x="-65.9" y="3.6">KVZR.RU</text><path transform="translate(.12 .3)" d="M-5.4 -6.75H6.2M-5.5 -7.15h1M-5.5 -6.35h1M-6.2 6.75H5.4M4.5 6.35h1M4.5 7.15h1M-3.85 -4.05h7.7a1.35 1.35 0 0 1 0 2.7h-7.7a1.35 1.35 0 0 1 0 -2.7zM-3.85 1.35h7.7a1.35 1.35 0 0 1 0 2.7h-7.7a1.35 1.35 0 0 1 0 -2.7z"/></g>
<g transform="translate(1842.8 714.8) rotate(-45)"><text x="-65.9" y="3.6">KVZR.RU</text><path transform="translate(.12 .3)" d="M-5.4 -6.75H6.2M-5.5 -7.15h1M-5.5 -6.35h1M-6.2 6.75H5.4M4.5 6.35h1M4.5 7.15h1M-3.85 -4.05h7.7a1.35 1.35 0 0 1 0 2.7h-7.7a1.35 1.35 0 0 1 0 -2.7zM-3.85 1.35h7.7a1.35 1.35 0 0 1 0 2.7h-7.7a1.35 1.35 0 0 1 0 -2.7z"/></g>
<g transform="translate(1816.9 806.8) rotate(-45)"><text x="-65.9" y="3.6">KVZR.RU</text><path transform="translate(.12 .3)" d="M-5.4 -6.75H6.2M-5.5 -7.15h1M-5.5 -6.35h1M-6.2 6.75H5.4M4.5 6.35h1M4.5 7.15h1M-3.85 -4.05h7.7a1.35 1.35 0 0 1 0 2.7h-7.7a1.35 1.35 0 0 1 0 -2.7zM-3.85 1.35h7.7a1.35 1.35 0 0 1 0 2.7h-7.7a1.35 1.35 0 0 1 0 -2.7z"/></g>
<g transform="translate(1791.0 898.8) rotate(-45)"><text x="-65.9" y="3.6">KVZR.RU</text><path transform="translate(.12 .3)" d="M-5.4 -6.75H6.2M-5.5 -7.15h1M-5.5 -6.35h1M-6.2 6.75H5.4M4.5 6.35h1M4.5 7.15h1M-3.85 -4.05h7.7a1.35 1.35 0 0 1 0 2.7h-7.7a1.35 1.35 0 0 1 0 -2.7zM-3.85 1.35h7.7a1.35 1.35 0 0 1 0 2.7h-7.7a1.35 1.35 0 0 1 0 -2.7z"/></g>
<g transform="translate(1765.1 990.8) rotate(-45)"><text x="-65.9" y="3.6">KVZR.RU</text><path transform="translate(.12 .3)" d="M-5.4 -6.75H6.2M-5.5 -7.15h1M-5.5 -6.35h1M-6.2 6.75H5.4M4.5 6.35h1M4.5 7.15h1M-3.85 -4.05h7.7a1.35 1.35 0 0 1 0 2.7h-7.7a1.35 1.35 0 0 1 0 -2.7zM-3.85 1.35h7.7a1.35 1.35 0 0 1 0 2.7h-7.7a1.35 1.35 0 0 1 0 -2.7z"/></g>
<g transform="translate(1739.2 1082.7) rotate(-45)"><text x="-65.9" y="3.6">KVZR.RU</text><path transform="translate(.12 .3)" d="M-5.4 -6.75H6.2M-5.5 -7.15h1M-5.5 -6.35h1M-6.2 6.75H5.4M4.5 6.35h1M4.5 7.15h1M-3.85 -4.05h7.7a1.35 1.35 0 0 1 0 2.7h-7.7a1.35 1.35 0 0 1 0 -2.7zM-3.85 1.35h7.7a1.35 1.35 0 0 1 0 2.7h-7.7a1.35 1.35 0 0 1 0 -2.7z"/></g>
<g transform="translate(1713.3 1174.7) rotate(-45)"><text x="-65.9" y="3.6">KVZR.RU</text><path transform="translate(.12 .3)" d="M-5.4 -6.75H6.2M-5.5 -7.15h1M-5.5 -6.35h1M-6.2 6.75H5.4M4.5 6.35h1M4.5 7.15h1M-3.85 -4.05h7.7a1.35 1.35 0 0 1 0 2.7h-7.7a1.35 1.35 0 0 1 0 -2.7zM-3.85 1.35h7.7a1.35 1.35 0 0 1 0 2.7h-7.7a1.35 1.35 0 0 1 0 -2.7z"/></g>
<g transform="translate(1687.3 1266.7) rotate(-45)"><text x="-65.9" y="3.6">KVZR.RU</text><path transform="translate(.12 .3)" d="M-5.4 -6.75H6.2M-5.5 -7.15h1M-5.5 -6.35h1M-6.2 6.75H5.4M4.5 6.35h1M4.5 7.15h1M-3.85 -4.05h7.7a1.35 1.35 0 0 1 0 2.7h-7.7a1.35 1.35 0 0 1 0 -2.7zM-3.85 1.35h7.7a1.35 1.35 0 0 1 0 2.7h-7.7a1.35 1.35 0 0 1 0 -2.7z"/></g>
<g transform="translate(1857.1 964.8) rotate(-45)"><text x="-65.9" y="3.6">KVZR.RU</text><path transform="translate(.12 .3)" d="M-5.4 -6.75H6.2M-5.5 -7.15h1M-5.5 -6.35h1M-6.2 6.75H5.4M4.5 6.35h1M4.5 7.15h1M-3.85 -4.05h7.7a1.35 1.35 0 0 1 0 2.7h-7.7a1.35 1.35 0 0 1 0 -2.7zM-3.85 1.35h7.7a1.35 1.35 0 0 1 0 2.7h-7.7a1.35 1.35 0 0 1 0 -2.7z"/></g>
<g transform="translate(1831.1 1056.8) rotate(-45)"><text x="-65.9" y="3.6">KVZR.RU</text><path transform="translate(.12 .3)" d="M-5.4 -6.75H6.2M-5.5 -7.15h1M-5.5 -6.35h1M-6.2 6.75H5.4M4.5 6.35h1M4.5 7.15h1M-3.85 -4.05h7.7a1.35 1.35 0 0 1 0 2.7h-7.7a1.35 1.35 0 0 1 0 -2.7zM-3.85 1.35h7.7a1.35 1.35 0 0 1 0 2.7h-7.7a1.35 1.35 0 0 1 0 -2.7z"/></g>
<g transform="translate(1805.2 1148.8) rotate(-45)"><text x="-65.9" y="3.6">KVZR.RU</text><path transform="translate(.12 .3)" d="M-5.4 -6.75H6.2M-5.5 -7.15h1M-5.5 -6.35h1M-6.2 6.75H5.4M4.5 6.35h1M4.5 7.15h1M-3.85 -4.05h7.7a1.35 1.35 0 0 1 0 2.7h-7.7a1.35 1.35 0 0 1 0 -2.7zM-3.85 1.35h7.7a1.35 1.35 0 0 1 0 2.7h-7.7a1.35 1.35 0 0 1 0 -2.7z"/></g>
<g transform="translate(1779.3 1240.8) rotate(-45)"><text x="-65.9" y="3.6">KVZR.RU</text><path transform="translate(.12 .3)" d="M-5.4 -6.75H6.2M-5.5 -7.15h1M-5.5 -6.35h1M-6.2 6.75H5.4M4.5 6.35h1M4.5 7.15h1M-3.85 -4.05h7.7a1.35 1.35 0 0 1 0 2.7h-7.7a1.35 1.35 0 0 1 0 -2.7zM-3.85 1.35h7.7a1.35 1.35 0 0 1 0 2.7h-7.7a1.35 1.35 0 0 1 0 -2.7z"/></g>
<g transform="translate(1871.3 1214.9) rotate(-45)"><text x="-65.9" y="3.6">KVZR.RU</text><path transform="translate(.12 .3)" d="M-5.4 -6.75H6.2M-5.5 -7.15h1M-5.5 -6.35h1M-6.2 6.75H5.4M4.5 6.35h1M4.5 7.15h1M-3.85 -4.05h7.7a1.35 1.35 0 0 1 0 2.7h-7.7a1.35 1.35 0 0 1 0 -2.7zM-3.85 1.35h7.7a1.35 1.35 0 0 1 0 2.7h-7.7a1.35 1.35 0 0 1 0 -2.7z"/></g>
</g>
<g fill="none" stroke="#b4b4b4" stroke-width="0.8">
<path d="M636.5 763.5A128.25 128.25 0 0 1 616.1 734.4"/>
<path d="M608.7 716.7A128.25 128.25 0 0 1 602.2 682.5"/>
<path d="M602.7 663.3A128.25 128.25 0 0 1 611.2 628.4"/>
<path d="M619.2 611.9A128.25 128.25 0 0 1 640.4 584.5"/>
<path d="M654.9 572.2A128.25 128.25 0 0 1 686.4 555.5"/>
<path d="M704.3 550.4A128.25 128.25 0 0 1 739.2 548.1"/>
<path d="M650.5 776.4A128.25 128.25 0 0 0 666.2 787.1L683.2 796.9"/>
<path d="M772.1 554.7A128.25 128.25 0 0 1 794.4 564.9L809.1 573.4"/>
<line x1="699.5" y1="806.3" x2="729.8" y2="823.8"/>
<line x1="746.5" y1="833.5" x2="776.9" y2="851.0"/>
<line x1="793.6" y1="860.6" x2="823.9" y2="878.1"/>
<line x1="840.6" y1="887.8" x2="870.9" y2="905.3"/>
<line x1="887.6" y1="914.9" x2="917.9" y2="932.4"/>
<line x1="934.6" y1="942.1" x2="965.0" y2="959.6"/>
<line x1="981.7" y1="969.2" x2="1012.0" y2="986.7"/>
<line x1="1028.7" y1="996.4" x2="1059.0" y2="1013.9"/>
<line x1="1075.7" y1="1023.5" x2="1106.0" y2="1041.0"/>
<line x1="1122.7" y1="1050.7" x2="1148.3" y2="1065.4"/>
<line x1="827.8" y1="584.2" x2="858.1" y2="601.7"/>
<line x1="874.8" y1="611.3" x2="905.1" y2="628.8"/>
<line x1="921.8" y1="638.5" x2="952.1" y2="656.0"/>
<line x1="968.8" y1="665.6" x2="999.2" y2="683.1"/>
<line x1="1015.9" y1="692.8" x2="1046.2" y2="710.3"/>
<line x1="1062.9" y1="719.9" x2="1093.2" y2="737.4"/>
<line x1="1109.9" y1="747.1" x2="1140.2" y2="764.6"/>
<line x1="1156.9" y1="774.2" x2="1187.3" y2="791.7"/>
<line x1="1204.0" y1="801.4" x2="1234.3" y2="818.9"/>
<line x1="1251.0" y1="828.5" x2="1276.5" y2="843.3"/>
<path d="M896 462.3H909.4L896 491.3H909.4Z M902.7 491.3V521" stroke="#d0d0d0" stroke-dasharray="5 2"/>
</g>
<g fill="none" stroke="#000" stroke-width="1.45" stroke-linecap="butt" stroke-linejoin="miter">
<ellipse cx="658.3" cy="176.2" rx="43" ry="22.5"/>
<line x1="615.3" y1="176.2" x2="615.3" y2="511.5" />
<line x1="701.2" y1="176.2" x2="701.2" y2="474.8" />
<line x1="658.3" y1="169.3" x2="658.3" y2="80.0" stroke-width="0.9" stroke="#333"/>
<path d="M658.3 24L648 86H668.6Z" fill="#000" stroke="none"/>
<path d="M764.5 475.8A181.5 181.5 0 0 0 639.5 811.2" />
<circle cx="1212.8" cy="931.8" r="181.3" />
<circle cx="1212.8" cy="953.8" r="128.2" />
<line x1="639.5" y1="811.2" x2="1122.1" y2="1088.8" />
<line x1="1220.4" y1="727.4" x2="1304.4" y2="775.9" />
<path d="M747.3 512.0A43.2 43.2 0 0 1 812.1 474.6L1199.3 698.4" />
<line x1="747.3" y1="512.0" x2="1134.5" y2="735.8" />
<path d="M1134.5 735.8A43.2 43.2 0 0 1 1220.9 735.8A171 171 0 0 0 1134.5 735.8" />
<line x1="827.0" y1="375.5" x2="827.0" y2="489.5" />
<line x1="818.2" y1="484.6" x2="835.8" y2="494.8" />
<line x1="827.3" y1="376.0" x2="790.0" y2="397.2" />
<path d="M786.3 391L793.7 403.3L761.7 405.3L768.7 417.7Z" />
<line x1="765.2" y1="411.5" x2="740.0" y2="426.0" />
<path d="M728 432.7L740 419.3L743 424.6L746.3 429.3Z" fill="#000" stroke="none"/>
<path d="M939.9 488.7H954.1L939.9 516.7H954.1Z" fill="none" stroke-linejoin="bevel"/>
<line x1="947.0" y1="516.7" x2="947.0" y2="558.7" />
<line x1="938.3" y1="553.7" x2="955.7" y2="563.7" />
<path d="M947.0 502.7h3.2l1 -6l1.5 12l1.5 -12l1.5 12l1.5 -12l1 6h3.4" stroke-width="1.5" stroke-linejoin="miter"/>
<path d="M984.2 513.8H998.4L984.2 541.8H998.4Z" fill="none" stroke-linejoin="bevel"/>
<line x1="991.3" y1="541.8" x2="991.3" y2="584.0" />
<line x1="982.6" y1="579.0" x2="1000.0" y2="589.0" />
<path d="M991.3 527.8h3.2l1 -6l1.5 12l1.5 -12l1.5 12l1.5 -12l1 6h3.4" stroke-width="1.5" stroke-linejoin="miter"/>
<circle cx="1076.5" cy="505.9" r="14.4" />
<line x1="1069.7" y1="515.3" x2="1081.5" y2="498.9" />
<path d="M1083.3 496.0L1078.7 499.7L1082.1 501.9Z" fill="#000" stroke="none"/>
<circle cx="1076.5" cy="505.9" r="2.8" fill="#000" stroke="none"/>
<line x1="1076.5" y1="520.3" x2="1076.5" y2="534.7" />
<path d="M1069.3 534.4H1083.7L1069.3 563.0H1083.7Z" fill="none" stroke-linejoin="bevel"/>
<path d="M1076.5 548.7L1090.7 541.7V555.7Z" />
<line x1="1076.5" y1="563.0" x2="1076.5" y2="633.7" />
<circle cx="1199.3" cy="589.0" r="14.4" />
<line x1="1192.5" y1="598.4" x2="1204.3" y2="582.0" />
<path d="M1206.1 579.1L1201.5 582.8L1204.9 585.0Z" fill="#000" stroke="none"/>
<circle cx="1199.3" cy="589.0" r="2.8" fill="#000" stroke="none"/>
<line x1="1199.3" y1="603.4" x2="1199.3" y2="618.2" />
<path d="M1192.1 617.9H1206.5L1192.1 646.5H1206.5Z" fill="none" stroke-linejoin="bevel"/>
<path d="M1199.3 632.2L1213.5 625.2V639.2Z" />
<line x1="1199.3" y1="646.5" x2="1199.3" y2="674.6" />
<line x1="1067.8" y1="628.7" x2="1085.2" y2="638.7" />
<path d="M1199.3 674.6L1177.9 710.8M1177.6 704.6V719.6" />
<path d="M1145.8 778.2H1161L1145.8 807.7H1161Z" fill="#000" stroke="none"/>
<line x1="1144.2" y1="787.1" x2="1162.9" y2="797.9" />
<ellipse cx="717.4" cy="557.1" rx="12.8" ry="5.8"/>
<path d="M704.6 557.1V655A12.8 6.3 0 0 0 730.2 655V557.1" />
<line x1="717.6" y1="661.3" x2="717.6" y2="685.3" />
<path d="M710.6 685.3H724.6L710.6 713.3H724.6Z" fill="none" stroke-linejoin="bevel"/>
<line x1="717.6" y1="713.3" x2="717.6" y2="742.0" />
<path d="M717.6 756.7L711.3 738.5L717.6 740.3L723.9 738.5Z" fill="#000" stroke="none"/>
<line x1="730.3" y1="564.0" x2="803.7" y2="522.3" />
<line x1="797.4" y1="518.6" x2="810.0" y2="525.9" />
<line x1="733.3" y1="551.8" x2="752.3" y2="562.8" />
<line x1="735.7" y1="549.6" x2="754.7" y2="560.6" />
<line x1="730.3" y1="646.0" x2="771.6" y2="622.3" />
<line x1="783.0" y1="615.6" x2="802.0" y2="604.7" />
<line x1="795.7" y1="601.1" x2="808.3" y2="608.4" />
<line x1="733.3" y1="633.9" x2="752.3" y2="644.9" />
<line x1="735.7" y1="631.7" x2="754.7" y2="642.7" />
<circle cx="777.3" cy="597.3" r="6.0" />
<circle cx="777.3" cy="690.7" r="6.0" />
<path d="M771.6 609.0A5.7 5.7 0 0 1 783.0 609.0V679.0A5.7 5.7 0 0 1 771.6 679.0Z" />
<circle cx="833.8" cy="630.4" r="6.0" />
<circle cx="833.8" cy="723.3" r="6.0" />
<path d="M828.1 642.1A5.7 5.7 0 0 1 839.5 642.1V711.6A5.7 5.7 0 0 1 828.1 711.6Z" />
<line x1="780.3" y1="592.0" x2="851.3" y2="550.0" />
<line x1="845.0" y1="546.4" x2="857.6" y2="553.6" />
<line x1="836.8" y1="625.0" x2="907.3" y2="582.7" />
<line x1="901.0" y1="579.1" x2="913.6" y2="586.4" />
<line x1="782.5" y1="693.5" x2="828.0" y2="668.0" />
<line x1="839.6" y1="661.0" x2="850.0" y2="654.5" />
<line x1="843.7" y1="650.9" x2="856.3" y2="658.1" />
<line x1="839.0" y1="726.5" x2="906.0" y2="688.0" />
<line x1="899.7" y1="684.4" x2="912.3" y2="691.6" />
<line x1="777.3" y1="696.7" x2="777.3" y2="724.0" />
<path d="M777.3 739.7L771.0 721.5L777.3 723.3L783.6 721.5Z" fill="#000" stroke="none"/>
<line x1="833.8" y1="729.3" x2="833.8" y2="756.0" />
<path d="M833.8 771.3L827.5 753.1L833.8 754.9L840.1 753.1Z" fill="#000" stroke="none"/>
<path d="M549.1 663L466.4 710V753" />
<path d="M459.4 753.0H473.4L459.4 781.0H473.4Z" fill="none" stroke-linejoin="bevel"/>
<line x1="466.4" y1="781.0" x2="466.4" y2="834.7" />
<path d="M466.4 796.7L460.1 814.9L466.4 813.1L472.7 814.9Z" fill="#000" stroke="none"/>
<path d="M580.7 757.3L529.5 786.5V829.6" />
<path d="M522.5 829.5H536.5L522.5 857.5H536.5Z" fill="none" stroke-linejoin="bevel"/>
<line x1="529.5" y1="857.3" x2="529.5" y2="885.0" />
<path d="M529.5 901.3L523.2 883.1L529.5 884.9L535.8 883.1Z" fill="#000" stroke="none"/>
<path d="M1200 930 L1235 927.2 L1270 930 L1277 930.4 Q1284.8 931 1284.8 939 V997 Q1284.8 1005 1277 1005.6 L1270 1006 L1235 1009 L1200 1006 L1193.8 1005.6 Q1186 1005 1186 997 V939 Q1186 931 1193.8 930.4Z" />
<path d="M1200 930Q1212 938 1212 955V981Q1212 998 1200 1006" />
<path d="M1270 930Q1259 938 1259 955V981Q1259 998 1270 1006" />
<path d="M1220.3 965.5H1250.5V970.5H1220.3Z" />
<circle cx="1235.2" cy="959.3" r="2.6" />
<line x1="1235.2" y1="957.0" x2="1235.2" y2="961.6" />
<path d="M1221.5 924V875H1248.8V924" />
<path d="M1221.5 876.5H1248.8M1221.5 884.5H1248.8M1221.5 896H1248.8" stroke-width="1.8"/>
<path d="M1233 875V871H1237.5V875" />
<path d="M1228.5 902H1242.5V919.5H1228.5Z" />
<circle cx="1234.8" cy="910.5" r="3.0" />
<line x1="1234.8" y1="907.0" x2="1234.8" y2="927.0" />
<path d="M1221.5 919.5H1210V929M1248.8 919.5H1260.5V929" />
<path d="M1213.5 922.5L1217.5 928M1256.5 922.5L1252.5 928" stroke-width="2.4" stroke-linecap="round"/>
<line x1="1018.7" y1="396.4" x2="1543.0" y2="396.4" />
<line x1="1018.7" y1="396.4" x2="902.7" y2="476.7" />
<line x1="1018.7" y1="396.4" x2="947.0" y2="502.7" />
<line x1="1018.7" y1="396.4" x2="990.7" y2="524.5" />
<circle cx="902.7" cy="476.7" r="2.7" fill="#000" stroke="none"/>
<circle cx="947.0" cy="502.7" r="2.7" fill="#000" stroke="none"/>
<circle cx="990.3" cy="525.0" r="2.7" fill="#000" stroke="none"/>
<path d="M1331.6 469.1H1150L1076.5 505.9" />
<path d="M1454.4 552H1272L1199.3 589" />
<path d="M1640 708.6H1290.6L1153.4 792.9" />
<path d="M1556.3 924.8H1428.3L1236.5 965.2" />
<path d="M805 1045.2H927.5L987.7 996" />
<circle cx="987.7" cy="996.0" r="2.6" fill="#000" stroke="none"/>
<path d="M234 556.8H551.3L713.6 621.7" />
<circle cx="713.6" cy="621.7" r="2.6" fill="#000" stroke="none"/>
<path d="M161.7 632.2H496.5L776.7 652.9M496.5 632.2L832.4 692" />
<circle cx="776.7" cy="652.9" r="2.6" fill="#000" stroke="none"/>
<circle cx="832.4" cy="692.0" r="2.6" fill="#000" stroke="none"/>
</g>
<g id="labels" font-family="'Liberation Sans', sans-serif" font-style="italic" fill="#000">
<text y="88.30" font-size="29"><tspan x="703.40" textLength="114.80" lengthAdjust="spacingAndGlyphs">дымовые</tspan> <tspan x="836.60" textLength="64.20" lengthAdjust="spacingAndGlyphs">газы</tspan></text>
<text y="357.90" font-size="34"><tspan x="721.20" textLength="96.60" lengthAdjust="spacingAndGlyphs">Отвод</tspan> <tspan x="833.80" textLength="55.80" lengthAdjust="spacingAndGlyphs">пар</tspan></text>
<text y="388.00" font-size="37.5"><tspan x="1022.00" textLength="354.00" lengthAdjust="spacingAndGlyphs">Предохранительные</tspan> <tspan x="1395.00" textLength="144.00" lengthAdjust="spacingAndGlyphs">клапаны</tspan></text>
<text y="460.00" font-size="38.5"><tspan x="1153.00" textLength="175.60" lengthAdjust="spacingAndGlyphs">Манометр</tspan></text>
<text y="542.80" font-size="38.5"><tspan x="1275.40" textLength="176.80" lengthAdjust="spacingAndGlyphs">Манометр</tspan></text>
<text y="700.10" font-size="35.5"><tspan x="1295.80" textLength="218.40" lengthAdjust="spacingAndGlyphs">Легкоплавкая</tspan> <tspan x="1531.20" textLength="108.40" lengthAdjust="spacingAndGlyphs">пробка</tspan></text>
<text y="918.75" font-size="32"><tspan x="1434.60" textLength="112.00" lengthAdjust="spacingAndGlyphs">Горелка</tspan></text>
<text y="1039.60" font-size="40"><tspan x="804.20" textLength="109.40" lengthAdjust="spacingAndGlyphs">Котел</tspan></text>
<text y="550.50" font-size="41.5"><tspan x="238.60" textLength="126.60" lengthAdjust="spacingAndGlyphs">Датчик</tspan> <tspan x="387.80" textLength="139.00" lengthAdjust="spacingAndGlyphs">уровней</tspan></text>
<text y="622.40" font-size="39"><tspan x="164.80" textLength="187.20" lengthAdjust="spacingAndGlyphs">Указатель</tspan> <tspan x="373.80" textLength="116.20" lengthAdjust="spacingAndGlyphs">уровня</tspan></text>
<text y="744.00" font-size="33.5"><tspan x="249.60" textLength="111.40" lengthAdjust="spacingAndGlyphs">Подвод</tspan></text>
<text y="786.60" font-size="33.5"><tspan x="155.00" textLength="208.80" lengthAdjust="spacingAndGlyphs">питательной</tspan> <tspan x="382.20" textLength="71.80" lengthAdjust="spacingAndGlyphs">воды</tspan></text>
<text y="792.00" font-size="34"><tspan x="698.60" textLength="145.40" lengthAdjust="spacingAndGlyphs">Продувка</tspan></text>
<text y="943.70" font-size="34"><tspan x="457.00" textLength="146.00" lengthAdjust="spacingAndGlyphs">Продувка</tspan></text>
</g>
</svg>
</body></html>
